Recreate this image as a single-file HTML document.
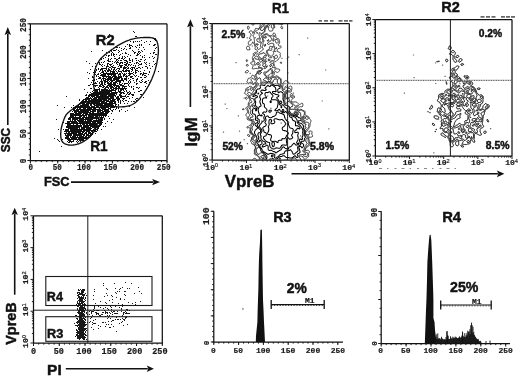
<!DOCTYPE html>
<html><head><meta charset="utf-8"><style>
html,body{margin:0;padding:0;background:#fff;width:520px;height:376px;overflow:hidden}
svg{display:block} svg{filter:grayscale(1) blur(0.35px)}
</style></head><body>
<svg width="520" height="376" viewBox="0 0 520 376">
<rect width="520" height="376" fill="#fff"/>
<path d="M39 151h1v1h-1zM54 138h1v1h-1zM56 119h1v1h-1zM57 105h1v1h-1zM57 139h1v1h-1zM58 129h1v1h-1zM58 140h1v1h-1zM59 141h1v1h-1zM61 146h1v1h-1zM62 139h1v1h-1zM63 122h1v1h-1zM63 129h1v1h-1zM64 107h1v1h-1zM64 131h1v1h-1zM64 133h1v1h-1zM65 115h1v1h-1zM65 123h1v1h-1zM65 129h1v1h-1zM65 130h1v1h-1zM65 131h1v1h-1zM65 133h1v1h-1zM65 134h1v1h-1zM65 135h1v1h-1zM65 137h1v1h-1zM65 138h1v1h-1zM66 96h1v1h-1zM66 123h1v1h-1zM66 126h1v1h-1zM66 127h1v1h-1zM66 129h1v1h-1zM66 130h1v1h-1zM66 131h1v1h-1zM66 132h1v1h-1zM66 133h1v1h-1zM66 135h1v1h-1zM66 136h1v1h-1zM66 137h1v1h-1zM66 138h1v1h-1zM67 121h1v1h-1zM67 122h1v1h-1zM67 123h1v1h-1zM67 124h1v1h-1zM67 125h1v1h-1zM67 126h1v1h-1zM67 127h1v1h-1zM67 129h1v1h-1zM67 130h1v1h-1zM67 131h1v1h-1zM67 133h1v1h-1zM67 134h1v1h-1zM67 135h1v1h-1zM67 136h1v1h-1zM67 137h1v1h-1zM67 138h1v1h-1zM67 139h1v1h-1zM67 141h1v1h-1zM68 118h1v1h-1zM68 119h1v1h-1zM68 121h1v1h-1zM68 122h1v1h-1zM68 123h1v1h-1zM68 124h1v1h-1zM68 125h1v1h-1zM68 126h1v1h-1zM68 127h1v1h-1zM68 128h1v1h-1zM68 129h1v1h-1zM68 130h1v1h-1zM68 131h1v1h-1zM68 132h1v1h-1zM68 133h1v1h-1zM68 134h1v1h-1zM68 135h1v1h-1zM68 136h1v1h-1zM68 137h1v1h-1zM68 138h1v1h-1zM68 139h1v1h-1zM68 140h1v1h-1zM68 142h1v1h-1zM69 117h1v1h-1zM69 118h1v1h-1zM69 119h1v1h-1zM69 121h1v1h-1zM69 122h1v1h-1zM69 123h1v1h-1zM69 124h1v1h-1zM69 125h1v1h-1zM69 126h1v1h-1zM69 127h1v1h-1zM69 128h1v1h-1zM69 131h1v1h-1zM69 132h1v1h-1zM69 133h1v1h-1zM69 134h1v1h-1zM69 135h1v1h-1zM69 138h1v1h-1zM69 139h1v1h-1zM69 140h1v1h-1zM69 141h1v1h-1zM69 142h1v1h-1zM70 113h1v1h-1zM70 114h1v1h-1zM70 115h1v1h-1zM70 116h1v1h-1zM70 117h1v1h-1zM70 118h1v1h-1zM70 119h1v1h-1zM70 120h1v1h-1zM70 121h1v1h-1zM70 123h1v1h-1zM70 124h1v1h-1zM70 125h1v1h-1zM70 126h1v1h-1zM70 127h1v1h-1zM70 128h1v1h-1zM70 129h1v1h-1zM70 130h1v1h-1zM70 131h1v1h-1zM70 133h1v1h-1zM70 134h1v1h-1zM70 135h1v1h-1zM70 136h1v1h-1zM70 137h1v1h-1zM70 139h1v1h-1zM70 140h1v1h-1zM70 141h1v1h-1zM71 107h1v1h-1zM71 113h1v1h-1zM71 114h1v1h-1zM71 115h1v1h-1zM71 116h1v1h-1zM71 117h1v1h-1zM71 121h1v1h-1zM71 122h1v1h-1zM71 123h1v1h-1zM71 125h1v1h-1zM71 126h1v1h-1zM71 127h1v1h-1zM71 128h1v1h-1zM71 129h1v1h-1zM71 130h1v1h-1zM71 131h1v1h-1zM71 132h1v1h-1zM71 133h1v1h-1zM71 134h1v1h-1zM71 135h1v1h-1zM71 137h1v1h-1zM71 138h1v1h-1zM71 139h1v1h-1zM71 141h1v1h-1zM71 142h1v1h-1zM72 111h1v1h-1zM72 113h1v1h-1zM72 114h1v1h-1zM72 115h1v1h-1zM72 116h1v1h-1zM72 117h1v1h-1zM72 118h1v1h-1zM72 119h1v1h-1zM72 120h1v1h-1zM72 121h1v1h-1zM72 122h1v1h-1zM72 123h1v1h-1zM72 125h1v1h-1zM72 126h1v1h-1zM72 127h1v1h-1zM72 128h1v1h-1zM72 129h1v1h-1zM72 130h1v1h-1zM72 131h1v1h-1zM72 132h1v1h-1zM72 133h1v1h-1zM72 136h1v1h-1zM72 137h1v1h-1zM72 138h1v1h-1zM72 139h1v1h-1zM72 141h1v1h-1zM73 105h1v1h-1zM73 107h1v1h-1zM73 109h1v1h-1zM73 110h1v1h-1zM73 113h1v1h-1zM73 114h1v1h-1zM73 115h1v1h-1zM73 116h1v1h-1zM73 117h1v1h-1zM73 118h1v1h-1zM73 119h1v1h-1zM73 121h1v1h-1zM73 122h1v1h-1zM73 123h1v1h-1zM73 124h1v1h-1zM73 125h1v1h-1zM73 126h1v1h-1zM73 127h1v1h-1zM73 128h1v1h-1zM73 129h1v1h-1zM73 130h1v1h-1zM73 131h1v1h-1zM73 132h1v1h-1zM73 133h1v1h-1zM73 134h1v1h-1zM73 135h1v1h-1zM73 136h1v1h-1zM73 137h1v1h-1zM73 138h1v1h-1zM73 139h1v1h-1zM73 140h1v1h-1zM73 141h1v1h-1zM74 107h1v1h-1zM74 108h1v1h-1zM74 109h1v1h-1zM74 110h1v1h-1zM74 111h1v1h-1zM74 112h1v1h-1zM74 114h1v1h-1zM74 115h1v1h-1zM74 117h1v1h-1zM74 118h1v1h-1zM74 119h1v1h-1zM74 120h1v1h-1zM74 121h1v1h-1zM74 122h1v1h-1zM74 123h1v1h-1zM74 125h1v1h-1zM74 126h1v1h-1zM74 127h1v1h-1zM74 128h1v1h-1zM74 129h1v1h-1zM74 130h1v1h-1zM74 131h1v1h-1zM74 132h1v1h-1zM74 133h1v1h-1zM74 134h1v1h-1zM74 135h1v1h-1zM74 136h1v1h-1zM74 137h1v1h-1zM74 138h1v1h-1zM74 139h1v1h-1zM75 106h1v1h-1zM75 107h1v1h-1zM75 108h1v1h-1zM75 110h1v1h-1zM75 111h1v1h-1zM75 112h1v1h-1zM75 113h1v1h-1zM75 114h1v1h-1zM75 115h1v1h-1zM75 116h1v1h-1zM75 117h1v1h-1zM75 118h1v1h-1zM75 119h1v1h-1zM75 120h1v1h-1zM75 121h1v1h-1zM75 122h1v1h-1zM75 123h1v1h-1zM75 125h1v1h-1zM75 126h1v1h-1zM75 127h1v1h-1zM75 128h1v1h-1zM75 129h1v1h-1zM75 130h1v1h-1zM75 131h1v1h-1zM75 132h1v1h-1zM75 133h1v1h-1zM75 134h1v1h-1zM75 135h1v1h-1zM75 136h1v1h-1zM75 137h1v1h-1zM75 138h1v1h-1zM75 139h1v1h-1zM76 106h1v1h-1zM76 107h1v1h-1zM76 109h1v1h-1zM76 110h1v1h-1zM76 111h1v1h-1zM76 112h1v1h-1zM76 113h1v1h-1zM76 114h1v1h-1zM76 115h1v1h-1zM76 117h1v1h-1zM76 118h1v1h-1zM76 119h1v1h-1zM76 121h1v1h-1zM76 122h1v1h-1zM76 123h1v1h-1zM76 124h1v1h-1zM76 125h1v1h-1zM76 126h1v1h-1zM76 127h1v1h-1zM76 128h1v1h-1zM76 129h1v1h-1zM76 130h1v1h-1zM76 131h1v1h-1zM76 132h1v1h-1zM76 133h1v1h-1zM76 134h1v1h-1zM76 135h1v1h-1zM76 137h1v1h-1zM76 138h1v1h-1zM76 139h1v1h-1zM76 141h1v1h-1zM77 105h1v1h-1zM77 106h1v1h-1zM77 107h1v1h-1zM77 108h1v1h-1zM77 109h1v1h-1zM77 110h1v1h-1zM77 111h1v1h-1zM77 113h1v1h-1zM77 114h1v1h-1zM77 115h1v1h-1zM77 117h1v1h-1zM77 118h1v1h-1zM77 119h1v1h-1zM77 120h1v1h-1zM77 122h1v1h-1zM77 123h1v1h-1zM77 124h1v1h-1zM77 125h1v1h-1zM77 126h1v1h-1zM77 127h1v1h-1zM77 128h1v1h-1zM77 129h1v1h-1zM77 130h1v1h-1zM77 131h1v1h-1zM77 132h1v1h-1zM77 134h1v1h-1zM77 135h1v1h-1zM77 136h1v1h-1zM77 137h1v1h-1zM77 139h1v1h-1zM77 140h1v1h-1zM77 142h1v1h-1zM78 104h1v1h-1zM78 105h1v1h-1zM78 106h1v1h-1zM78 107h1v1h-1zM78 109h1v1h-1zM78 110h1v1h-1zM78 111h1v1h-1zM78 112h1v1h-1zM78 113h1v1h-1zM78 114h1v1h-1zM78 115h1v1h-1zM78 117h1v1h-1zM78 118h1v1h-1zM78 120h1v1h-1zM78 121h1v1h-1zM78 123h1v1h-1zM78 125h1v1h-1zM78 126h1v1h-1zM78 127h1v1h-1zM78 129h1v1h-1zM78 130h1v1h-1zM78 131h1v1h-1zM78 132h1v1h-1zM78 133h1v1h-1zM78 134h1v1h-1zM78 135h1v1h-1zM78 137h1v1h-1zM78 138h1v1h-1zM78 139h1v1h-1zM78 141h1v1h-1zM79 99h1v1h-1zM79 100h1v1h-1zM79 103h1v1h-1zM79 104h1v1h-1zM79 106h1v1h-1zM79 107h1v1h-1zM79 108h1v1h-1zM79 109h1v1h-1zM79 111h1v1h-1zM79 112h1v1h-1zM79 113h1v1h-1zM79 114h1v1h-1zM79 115h1v1h-1zM79 116h1v1h-1zM79 117h1v1h-1zM79 118h1v1h-1zM79 119h1v1h-1zM79 120h1v1h-1zM79 121h1v1h-1zM79 122h1v1h-1zM79 123h1v1h-1zM79 125h1v1h-1zM79 126h1v1h-1zM79 127h1v1h-1zM79 128h1v1h-1zM79 129h1v1h-1zM79 130h1v1h-1zM79 131h1v1h-1zM79 132h1v1h-1zM79 133h1v1h-1zM79 134h1v1h-1zM79 135h1v1h-1zM79 136h1v1h-1zM79 137h1v1h-1zM79 138h1v1h-1zM79 139h1v1h-1zM79 140h1v1h-1zM80 102h1v1h-1zM80 103h1v1h-1zM80 105h1v1h-1zM80 106h1v1h-1zM80 107h1v1h-1zM80 108h1v1h-1zM80 109h1v1h-1zM80 110h1v1h-1zM80 111h1v1h-1zM80 112h1v1h-1zM80 113h1v1h-1zM80 114h1v1h-1zM80 115h1v1h-1zM80 116h1v1h-1zM80 117h1v1h-1zM80 118h1v1h-1zM80 119h1v1h-1zM80 120h1v1h-1zM80 121h1v1h-1zM80 122h1v1h-1zM80 123h1v1h-1zM80 124h1v1h-1zM80 125h1v1h-1zM80 126h1v1h-1zM80 129h1v1h-1zM80 130h1v1h-1zM80 131h1v1h-1zM80 132h1v1h-1zM80 133h1v1h-1zM80 134h1v1h-1zM80 135h1v1h-1zM80 136h1v1h-1zM80 137h1v1h-1zM80 138h1v1h-1zM80 139h1v1h-1zM80 140h1v1h-1zM80 141h1v1h-1zM81 101h1v1h-1zM81 102h1v1h-1zM81 103h1v1h-1zM81 105h1v1h-1zM81 106h1v1h-1zM81 107h1v1h-1zM81 109h1v1h-1zM81 110h1v1h-1zM81 111h1v1h-1zM81 112h1v1h-1zM81 113h1v1h-1zM81 115h1v1h-1zM81 116h1v1h-1zM81 118h1v1h-1zM81 119h1v1h-1zM81 120h1v1h-1zM81 121h1v1h-1zM81 122h1v1h-1zM81 123h1v1h-1zM81 125h1v1h-1zM81 126h1v1h-1zM81 127h1v1h-1zM81 128h1v1h-1zM81 129h1v1h-1zM81 130h1v1h-1zM81 131h1v1h-1zM81 133h1v1h-1zM81 134h1v1h-1zM81 135h1v1h-1zM81 136h1v1h-1zM81 137h1v1h-1zM81 138h1v1h-1zM81 139h1v1h-1zM81 140h1v1h-1zM82 100h1v1h-1zM82 101h1v1h-1zM82 102h1v1h-1zM82 103h1v1h-1zM82 104h1v1h-1zM82 105h1v1h-1zM82 106h1v1h-1zM82 107h1v1h-1zM82 109h1v1h-1zM82 110h1v1h-1zM82 111h1v1h-1zM82 112h1v1h-1zM82 114h1v1h-1zM82 115h1v1h-1zM82 117h1v1h-1zM82 118h1v1h-1zM82 119h1v1h-1zM82 120h1v1h-1zM82 121h1v1h-1zM82 122h1v1h-1zM82 123h1v1h-1zM82 124h1v1h-1zM82 127h1v1h-1zM82 128h1v1h-1zM82 129h1v1h-1zM82 131h1v1h-1zM82 132h1v1h-1zM82 133h1v1h-1zM82 134h1v1h-1zM82 136h1v1h-1zM82 137h1v1h-1zM82 138h1v1h-1zM82 139h1v1h-1zM82 140h1v1h-1zM83 99h1v1h-1zM83 100h1v1h-1zM83 101h1v1h-1zM83 102h1v1h-1zM83 103h1v1h-1zM83 104h1v1h-1zM83 105h1v1h-1zM83 106h1v1h-1zM83 107h1v1h-1zM83 108h1v1h-1zM83 109h1v1h-1zM83 110h1v1h-1zM83 111h1v1h-1zM83 112h1v1h-1zM83 113h1v1h-1zM83 114h1v1h-1zM83 115h1v1h-1zM83 116h1v1h-1zM83 117h1v1h-1zM83 118h1v1h-1zM83 119h1v1h-1zM83 120h1v1h-1zM83 121h1v1h-1zM83 122h1v1h-1zM83 123h1v1h-1zM83 124h1v1h-1zM83 125h1v1h-1zM83 126h1v1h-1zM83 127h1v1h-1zM83 128h1v1h-1zM83 129h1v1h-1zM83 130h1v1h-1zM83 131h1v1h-1zM83 132h1v1h-1zM83 134h1v1h-1zM83 135h1v1h-1zM83 136h1v1h-1zM83 137h1v1h-1zM83 138h1v1h-1zM83 139h1v1h-1zM83 140h1v1h-1zM84 89h1v1h-1zM84 99h1v1h-1zM84 101h1v1h-1zM84 102h1v1h-1zM84 103h1v1h-1zM84 104h1v1h-1zM84 105h1v1h-1zM84 106h1v1h-1zM84 107h1v1h-1zM84 108h1v1h-1zM84 109h1v1h-1zM84 110h1v1h-1zM84 111h1v1h-1zM84 112h1v1h-1zM84 113h1v1h-1zM84 115h1v1h-1zM84 116h1v1h-1zM84 117h1v1h-1zM84 119h1v1h-1zM84 121h1v1h-1zM84 122h1v1h-1zM84 123h1v1h-1zM84 124h1v1h-1zM84 125h1v1h-1zM84 126h1v1h-1zM84 127h1v1h-1zM84 128h1v1h-1zM84 129h1v1h-1zM84 130h1v1h-1zM84 131h1v1h-1zM84 133h1v1h-1zM84 134h1v1h-1zM84 135h1v1h-1zM84 137h1v1h-1zM84 138h1v1h-1zM85 95h1v1h-1zM85 98h1v1h-1zM85 99h1v1h-1zM85 100h1v1h-1zM85 101h1v1h-1zM85 102h1v1h-1zM85 104h1v1h-1zM85 105h1v1h-1zM85 106h1v1h-1zM85 107h1v1h-1zM85 108h1v1h-1zM85 109h1v1h-1zM85 110h1v1h-1zM85 111h1v1h-1zM85 112h1v1h-1zM85 113h1v1h-1zM85 114h1v1h-1zM85 115h1v1h-1zM85 117h1v1h-1zM85 118h1v1h-1zM85 119h1v1h-1zM85 120h1v1h-1zM85 121h1v1h-1zM85 122h1v1h-1zM85 123h1v1h-1zM85 125h1v1h-1zM85 126h1v1h-1zM85 127h1v1h-1zM85 129h1v1h-1zM85 130h1v1h-1zM85 132h1v1h-1zM85 133h1v1h-1zM85 136h1v1h-1zM85 137h1v1h-1zM85 138h1v1h-1zM86 61h1v1h-1zM86 94h1v1h-1zM86 95h1v1h-1zM86 97h1v1h-1zM86 98h1v1h-1zM86 99h1v1h-1zM86 100h1v1h-1zM86 101h1v1h-1zM86 103h1v1h-1zM86 104h1v1h-1zM86 105h1v1h-1zM86 106h1v1h-1zM86 107h1v1h-1zM86 109h1v1h-1zM86 110h1v1h-1zM86 111h1v1h-1zM86 112h1v1h-1zM86 113h1v1h-1zM86 114h1v1h-1zM86 115h1v1h-1zM86 116h1v1h-1zM86 117h1v1h-1zM86 118h1v1h-1zM86 119h1v1h-1zM86 121h1v1h-1zM86 122h1v1h-1zM86 123h1v1h-1zM86 124h1v1h-1zM86 125h1v1h-1zM86 126h1v1h-1zM86 127h1v1h-1zM86 128h1v1h-1zM86 129h1v1h-1zM86 130h1v1h-1zM86 131h1v1h-1zM86 132h1v1h-1zM86 133h1v1h-1zM86 134h1v1h-1zM86 135h1v1h-1zM86 136h1v1h-1zM86 137h1v1h-1zM86 138h1v1h-1zM87 72h1v1h-1zM87 92h1v1h-1zM87 97h1v1h-1zM87 98h1v1h-1zM87 99h1v1h-1zM87 101h1v1h-1zM87 102h1v1h-1zM87 103h1v1h-1zM87 104h1v1h-1zM87 105h1v1h-1zM87 106h1v1h-1zM87 107h1v1h-1zM87 108h1v1h-1zM87 109h1v1h-1zM87 110h1v1h-1zM87 111h1v1h-1zM87 112h1v1h-1zM87 113h1v1h-1zM87 114h1v1h-1zM87 117h1v1h-1zM87 118h1v1h-1zM87 119h1v1h-1zM87 120h1v1h-1zM87 121h1v1h-1zM87 122h1v1h-1zM87 123h1v1h-1zM87 124h1v1h-1zM87 125h1v1h-1zM87 126h1v1h-1zM87 127h1v1h-1zM87 128h1v1h-1zM87 129h1v1h-1zM87 130h1v1h-1zM87 131h1v1h-1zM87 134h1v1h-1zM87 135h1v1h-1zM87 137h1v1h-1zM88 78h1v1h-1zM88 85h1v1h-1zM88 95h1v1h-1zM88 96h1v1h-1zM88 97h1v1h-1zM88 98h1v1h-1zM88 99h1v1h-1zM88 100h1v1h-1zM88 101h1v1h-1zM88 102h1v1h-1zM88 103h1v1h-1zM88 104h1v1h-1zM88 105h1v1h-1zM88 106h1v1h-1zM88 107h1v1h-1zM88 108h1v1h-1zM88 109h1v1h-1zM88 110h1v1h-1zM88 111h1v1h-1zM88 112h1v1h-1zM88 114h1v1h-1zM88 115h1v1h-1zM88 116h1v1h-1zM88 117h1v1h-1zM88 118h1v1h-1zM88 119h1v1h-1zM88 120h1v1h-1zM88 121h1v1h-1zM88 122h1v1h-1zM88 123h1v1h-1zM88 125h1v1h-1zM88 126h1v1h-1zM88 127h1v1h-1zM88 128h1v1h-1zM88 129h1v1h-1zM88 130h1v1h-1zM88 131h1v1h-1zM88 132h1v1h-1zM88 133h1v1h-1zM88 134h1v1h-1zM88 135h1v1h-1zM88 136h1v1h-1zM88 137h1v1h-1zM89 63h1v1h-1zM89 73h1v1h-1zM89 85h1v1h-1zM89 94h1v1h-1zM89 95h1v1h-1zM89 96h1v1h-1zM89 98h1v1h-1zM89 99h1v1h-1zM89 100h1v1h-1zM89 101h1v1h-1zM89 102h1v1h-1zM89 103h1v1h-1zM89 106h1v1h-1zM89 107h1v1h-1zM89 108h1v1h-1zM89 109h1v1h-1zM89 110h1v1h-1zM89 112h1v1h-1zM89 113h1v1h-1zM89 114h1v1h-1zM89 115h1v1h-1zM89 116h1v1h-1zM89 117h1v1h-1zM89 118h1v1h-1zM89 119h1v1h-1zM89 120h1v1h-1zM89 121h1v1h-1zM89 122h1v1h-1zM89 123h1v1h-1zM89 124h1v1h-1zM89 125h1v1h-1zM89 127h1v1h-1zM89 128h1v1h-1zM89 129h1v1h-1zM89 130h1v1h-1zM89 131h1v1h-1zM89 132h1v1h-1zM89 133h1v1h-1zM89 135h1v1h-1zM89 137h1v1h-1zM90 69h1v1h-1zM90 84h1v1h-1zM90 88h1v1h-1zM90 92h1v1h-1zM90 94h1v1h-1zM90 95h1v1h-1zM90 97h1v1h-1zM90 98h1v1h-1zM90 100h1v1h-1zM90 101h1v1h-1zM90 103h1v1h-1zM90 104h1v1h-1zM90 105h1v1h-1zM90 107h1v1h-1zM90 108h1v1h-1zM90 109h1v1h-1zM90 110h1v1h-1zM90 111h1v1h-1zM90 112h1v1h-1zM90 113h1v1h-1zM90 114h1v1h-1zM90 115h1v1h-1zM90 116h1v1h-1zM90 117h1v1h-1zM90 118h1v1h-1zM90 119h1v1h-1zM90 120h1v1h-1zM90 121h1v1h-1zM90 122h1v1h-1zM90 123h1v1h-1zM90 124h1v1h-1zM90 125h1v1h-1zM90 126h1v1h-1zM90 127h1v1h-1zM90 128h1v1h-1zM90 129h1v1h-1zM90 130h1v1h-1zM90 132h1v1h-1zM90 133h1v1h-1zM90 134h1v1h-1zM90 135h1v1h-1zM90 136h1v1h-1zM91 51h1v1h-1zM91 82h1v1h-1zM91 88h1v1h-1zM91 93h1v1h-1zM91 94h1v1h-1zM91 95h1v1h-1zM91 96h1v1h-1zM91 98h1v1h-1zM91 99h1v1h-1zM91 100h1v1h-1zM91 101h1v1h-1zM91 102h1v1h-1zM91 103h1v1h-1zM91 104h1v1h-1zM91 105h1v1h-1zM91 106h1v1h-1zM91 107h1v1h-1zM91 108h1v1h-1zM91 109h1v1h-1zM91 111h1v1h-1zM91 113h1v1h-1zM91 114h1v1h-1zM91 115h1v1h-1zM91 116h1v1h-1zM91 117h1v1h-1zM91 118h1v1h-1zM91 119h1v1h-1zM91 120h1v1h-1zM91 121h1v1h-1zM91 123h1v1h-1zM91 124h1v1h-1zM91 125h1v1h-1zM91 126h1v1h-1zM91 128h1v1h-1zM91 130h1v1h-1zM91 131h1v1h-1zM91 133h1v1h-1zM91 134h1v1h-1zM91 135h1v1h-1zM92 66h1v1h-1zM92 76h1v1h-1zM92 77h1v1h-1zM92 80h1v1h-1zM92 84h1v1h-1zM92 91h1v1h-1zM92 93h1v1h-1zM92 94h1v1h-1zM92 95h1v1h-1zM92 96h1v1h-1zM92 97h1v1h-1zM92 99h1v1h-1zM92 100h1v1h-1zM92 101h1v1h-1zM92 102h1v1h-1zM92 103h1v1h-1zM92 106h1v1h-1zM92 107h1v1h-1zM92 109h1v1h-1zM92 110h1v1h-1zM92 111h1v1h-1zM92 112h1v1h-1zM92 113h1v1h-1zM92 114h1v1h-1zM92 115h1v1h-1zM92 116h1v1h-1zM92 117h1v1h-1zM92 118h1v1h-1zM92 119h1v1h-1zM92 121h1v1h-1zM92 122h1v1h-1zM92 123h1v1h-1zM92 124h1v1h-1zM92 125h1v1h-1zM92 126h1v1h-1zM92 127h1v1h-1zM92 130h1v1h-1zM92 131h1v1h-1zM92 132h1v1h-1zM92 133h1v1h-1zM92 134h1v1h-1zM93 72h1v1h-1zM93 77h1v1h-1zM93 80h1v1h-1zM93 82h1v1h-1zM93 84h1v1h-1zM93 86h1v1h-1zM93 90h1v1h-1zM93 92h1v1h-1zM93 93h1v1h-1zM93 94h1v1h-1zM93 95h1v1h-1zM93 96h1v1h-1zM93 98h1v1h-1zM93 99h1v1h-1zM93 100h1v1h-1zM93 101h1v1h-1zM93 102h1v1h-1zM93 103h1v1h-1zM93 104h1v1h-1zM93 106h1v1h-1zM93 107h1v1h-1zM93 108h1v1h-1zM93 109h1v1h-1zM93 110h1v1h-1zM93 111h1v1h-1zM93 112h1v1h-1zM93 113h1v1h-1zM93 114h1v1h-1zM93 115h1v1h-1zM93 116h1v1h-1zM93 117h1v1h-1zM93 118h1v1h-1zM93 120h1v1h-1zM93 121h1v1h-1zM93 122h1v1h-1zM93 123h1v1h-1zM93 124h1v1h-1zM93 125h1v1h-1zM93 126h1v1h-1zM93 127h1v1h-1zM93 129h1v1h-1zM93 130h1v1h-1zM93 132h1v1h-1zM94 70h1v1h-1zM94 73h1v1h-1zM94 74h1v1h-1zM94 79h1v1h-1zM94 80h1v1h-1zM94 83h1v1h-1zM94 85h1v1h-1zM94 88h1v1h-1zM94 92h1v1h-1zM94 93h1v1h-1zM94 94h1v1h-1zM94 95h1v1h-1zM94 96h1v1h-1zM94 97h1v1h-1zM94 98h1v1h-1zM94 99h1v1h-1zM94 100h1v1h-1zM94 101h1v1h-1zM94 102h1v1h-1zM94 103h1v1h-1zM94 104h1v1h-1zM94 105h1v1h-1zM94 106h1v1h-1zM94 107h1v1h-1zM94 108h1v1h-1zM94 109h1v1h-1zM94 110h1v1h-1zM94 111h1v1h-1zM94 113h1v1h-1zM94 114h1v1h-1zM94 115h1v1h-1zM94 117h1v1h-1zM94 118h1v1h-1zM94 120h1v1h-1zM94 121h1v1h-1zM94 122h1v1h-1zM94 123h1v1h-1zM94 124h1v1h-1zM94 125h1v1h-1zM94 126h1v1h-1zM94 127h1v1h-1zM94 128h1v1h-1zM94 131h1v1h-1zM95 63h1v1h-1zM95 66h1v1h-1zM95 71h1v1h-1zM95 72h1v1h-1zM95 74h1v1h-1zM95 82h1v1h-1zM95 83h1v1h-1zM95 85h1v1h-1zM95 86h1v1h-1zM95 89h1v1h-1zM95 90h1v1h-1zM95 91h1v1h-1zM95 92h1v1h-1zM95 93h1v1h-1zM95 94h1v1h-1zM95 95h1v1h-1zM95 97h1v1h-1zM95 98h1v1h-1zM95 99h1v1h-1zM95 100h1v1h-1zM95 101h1v1h-1zM95 102h1v1h-1zM95 103h1v1h-1zM95 105h1v1h-1zM95 107h1v1h-1zM95 108h1v1h-1zM95 109h1v1h-1zM95 110h1v1h-1zM95 111h1v1h-1zM95 113h1v1h-1zM95 114h1v1h-1zM95 115h1v1h-1zM95 116h1v1h-1zM95 117h1v1h-1zM95 118h1v1h-1zM95 120h1v1h-1zM95 121h1v1h-1zM95 122h1v1h-1zM95 123h1v1h-1zM95 124h1v1h-1zM95 125h1v1h-1zM95 126h1v1h-1zM95 127h1v1h-1zM95 128h1v1h-1zM95 129h1v1h-1zM95 130h1v1h-1zM95 131h1v1h-1zM95 133h1v1h-1zM96 69h1v1h-1zM96 70h1v1h-1zM96 75h1v1h-1zM96 76h1v1h-1zM96 79h1v1h-1zM96 83h1v1h-1zM96 85h1v1h-1zM96 89h1v1h-1zM96 90h1v1h-1zM96 91h1v1h-1zM96 92h1v1h-1zM96 93h1v1h-1zM96 94h1v1h-1zM96 95h1v1h-1zM96 96h1v1h-1zM96 97h1v1h-1zM96 98h1v1h-1zM96 99h1v1h-1zM96 100h1v1h-1zM96 101h1v1h-1zM96 102h1v1h-1zM96 103h1v1h-1zM96 104h1v1h-1zM96 105h1v1h-1zM96 106h1v1h-1zM96 107h1v1h-1zM96 109h1v1h-1zM96 113h1v1h-1zM96 114h1v1h-1zM96 115h1v1h-1zM96 116h1v1h-1zM96 117h1v1h-1zM96 118h1v1h-1zM96 119h1v1h-1zM96 120h1v1h-1zM96 121h1v1h-1zM96 123h1v1h-1zM96 124h1v1h-1zM96 125h1v1h-1zM96 126h1v1h-1zM96 127h1v1h-1zM96 129h1v1h-1zM96 131h1v1h-1zM97 63h1v1h-1zM97 74h1v1h-1zM97 81h1v1h-1zM97 85h1v1h-1zM97 89h1v1h-1zM97 90h1v1h-1zM97 91h1v1h-1zM97 92h1v1h-1zM97 93h1v1h-1zM97 94h1v1h-1zM97 95h1v1h-1zM97 96h1v1h-1zM97 97h1v1h-1zM97 99h1v1h-1zM97 100h1v1h-1zM97 101h1v1h-1zM97 102h1v1h-1zM97 103h1v1h-1zM97 104h1v1h-1zM97 105h1v1h-1zM97 106h1v1h-1zM97 107h1v1h-1zM97 109h1v1h-1zM97 110h1v1h-1zM97 111h1v1h-1zM97 112h1v1h-1zM97 113h1v1h-1zM97 114h1v1h-1zM97 115h1v1h-1zM97 116h1v1h-1zM97 117h1v1h-1zM97 118h1v1h-1zM97 120h1v1h-1zM97 121h1v1h-1zM97 122h1v1h-1zM97 125h1v1h-1zM97 126h1v1h-1zM97 127h1v1h-1zM97 128h1v1h-1zM97 129h1v1h-1zM97 130h1v1h-1zM98 62h1v1h-1zM98 68h1v1h-1zM98 69h1v1h-1zM98 73h1v1h-1zM98 74h1v1h-1zM98 76h1v1h-1zM98 78h1v1h-1zM98 87h1v1h-1zM98 89h1v1h-1zM98 92h1v1h-1zM98 93h1v1h-1zM98 94h1v1h-1zM98 95h1v1h-1zM98 96h1v1h-1zM98 97h1v1h-1zM98 98h1v1h-1zM98 99h1v1h-1zM98 100h1v1h-1zM98 101h1v1h-1zM98 102h1v1h-1zM98 103h1v1h-1zM98 104h1v1h-1zM98 105h1v1h-1zM98 106h1v1h-1zM98 107h1v1h-1zM98 109h1v1h-1zM98 110h1v1h-1zM98 111h1v1h-1zM98 112h1v1h-1zM98 113h1v1h-1zM98 114h1v1h-1zM98 115h1v1h-1zM98 117h1v1h-1zM98 118h1v1h-1zM98 119h1v1h-1zM98 121h1v1h-1zM98 122h1v1h-1zM98 123h1v1h-1zM98 125h1v1h-1zM98 126h1v1h-1zM98 127h1v1h-1zM98 128h1v1h-1zM99 62h1v1h-1zM99 63h1v1h-1zM99 64h1v1h-1zM99 71h1v1h-1zM99 77h1v1h-1zM99 78h1v1h-1zM99 82h1v1h-1zM99 83h1v1h-1zM99 85h1v1h-1zM99 86h1v1h-1zM99 88h1v1h-1zM99 89h1v1h-1zM99 90h1v1h-1zM99 91h1v1h-1zM99 92h1v1h-1zM99 93h1v1h-1zM99 94h1v1h-1zM99 96h1v1h-1zM99 97h1v1h-1zM99 98h1v1h-1zM99 99h1v1h-1zM99 100h1v1h-1zM99 101h1v1h-1zM99 102h1v1h-1zM99 103h1v1h-1zM99 104h1v1h-1zM99 105h1v1h-1zM99 107h1v1h-1zM99 108h1v1h-1zM99 109h1v1h-1zM99 110h1v1h-1zM99 111h1v1h-1zM99 113h1v1h-1zM99 114h1v1h-1zM99 115h1v1h-1zM99 116h1v1h-1zM99 119h1v1h-1zM99 120h1v1h-1zM99 121h1v1h-1zM99 122h1v1h-1zM99 123h1v1h-1zM99 124h1v1h-1zM99 125h1v1h-1zM99 126h1v1h-1zM99 144h1v1h-1zM100 58h1v1h-1zM100 64h1v1h-1zM100 69h1v1h-1zM100 70h1v1h-1zM100 73h1v1h-1zM100 75h1v1h-1zM100 77h1v1h-1zM100 78h1v1h-1zM100 81h1v1h-1zM100 84h1v1h-1zM100 85h1v1h-1zM100 86h1v1h-1zM100 91h1v1h-1zM100 92h1v1h-1zM100 93h1v1h-1zM100 94h1v1h-1zM100 95h1v1h-1zM100 96h1v1h-1zM100 97h1v1h-1zM100 98h1v1h-1zM100 99h1v1h-1zM100 100h1v1h-1zM100 101h1v1h-1zM100 103h1v1h-1zM100 104h1v1h-1zM100 105h1v1h-1zM100 106h1v1h-1zM100 107h1v1h-1zM100 109h1v1h-1zM100 110h1v1h-1zM100 111h1v1h-1zM100 112h1v1h-1zM100 113h1v1h-1zM100 114h1v1h-1zM100 115h1v1h-1zM100 117h1v1h-1zM100 118h1v1h-1zM100 119h1v1h-1zM100 120h1v1h-1zM100 121h1v1h-1zM100 122h1v1h-1zM100 123h1v1h-1zM100 124h1v1h-1zM100 125h1v1h-1zM101 58h1v1h-1zM101 59h1v1h-1zM101 62h1v1h-1zM101 65h1v1h-1zM101 68h1v1h-1zM101 69h1v1h-1zM101 72h1v1h-1zM101 74h1v1h-1zM101 75h1v1h-1zM101 79h1v1h-1zM101 80h1v1h-1zM101 81h1v1h-1zM101 82h1v1h-1zM101 83h1v1h-1zM101 84h1v1h-1zM101 86h1v1h-1zM101 89h1v1h-1zM101 90h1v1h-1zM101 91h1v1h-1zM101 92h1v1h-1zM101 93h1v1h-1zM101 94h1v1h-1zM101 95h1v1h-1zM101 96h1v1h-1zM101 97h1v1h-1zM101 98h1v1h-1zM101 99h1v1h-1zM101 100h1v1h-1zM101 101h1v1h-1zM101 102h1v1h-1zM101 103h1v1h-1zM101 104h1v1h-1zM101 105h1v1h-1zM101 106h1v1h-1zM101 107h1v1h-1zM101 108h1v1h-1zM101 110h1v1h-1zM101 112h1v1h-1zM101 113h1v1h-1zM101 114h1v1h-1zM101 115h1v1h-1zM101 116h1v1h-1zM101 117h1v1h-1zM101 118h1v1h-1zM101 119h1v1h-1zM101 120h1v1h-1zM101 121h1v1h-1zM101 122h1v1h-1zM101 123h1v1h-1zM101 124h1v1h-1zM101 129h1v1h-1zM102 50h1v1h-1zM102 64h1v1h-1zM102 66h1v1h-1zM102 68h1v1h-1zM102 69h1v1h-1zM102 70h1v1h-1zM102 71h1v1h-1zM102 72h1v1h-1zM102 74h1v1h-1zM102 75h1v1h-1zM102 76h1v1h-1zM102 78h1v1h-1zM102 81h1v1h-1zM102 82h1v1h-1zM102 83h1v1h-1zM102 84h1v1h-1zM102 85h1v1h-1zM102 87h1v1h-1zM102 89h1v1h-1zM102 90h1v1h-1zM102 91h1v1h-1zM102 92h1v1h-1zM102 93h1v1h-1zM102 94h1v1h-1zM102 95h1v1h-1zM102 96h1v1h-1zM102 97h1v1h-1zM102 98h1v1h-1zM102 99h1v1h-1zM102 101h1v1h-1zM102 102h1v1h-1zM102 103h1v1h-1zM102 104h1v1h-1zM102 105h1v1h-1zM102 106h1v1h-1zM102 107h1v1h-1zM102 108h1v1h-1zM102 109h1v1h-1zM102 110h1v1h-1zM102 111h1v1h-1zM102 112h1v1h-1zM102 113h1v1h-1zM102 114h1v1h-1zM102 115h1v1h-1zM102 117h1v1h-1zM102 118h1v1h-1zM102 119h1v1h-1zM102 120h1v1h-1zM102 122h1v1h-1zM103 58h1v1h-1zM103 62h1v1h-1zM103 68h1v1h-1zM103 71h1v1h-1zM103 72h1v1h-1zM103 73h1v1h-1zM103 74h1v1h-1zM103 75h1v1h-1zM103 76h1v1h-1zM103 77h1v1h-1zM103 78h1v1h-1zM103 79h1v1h-1zM103 80h1v1h-1zM103 85h1v1h-1zM103 86h1v1h-1zM103 87h1v1h-1zM103 89h1v1h-1zM103 90h1v1h-1zM103 91h1v1h-1zM103 92h1v1h-1zM103 93h1v1h-1zM103 94h1v1h-1zM103 95h1v1h-1zM103 96h1v1h-1zM103 97h1v1h-1zM103 98h1v1h-1zM103 99h1v1h-1zM103 100h1v1h-1zM103 101h1v1h-1zM103 102h1v1h-1zM103 103h1v1h-1zM103 105h1v1h-1zM103 106h1v1h-1zM103 107h1v1h-1zM103 108h1v1h-1zM103 109h1v1h-1zM103 111h1v1h-1zM103 112h1v1h-1zM103 113h1v1h-1zM103 114h1v1h-1zM103 115h1v1h-1zM103 116h1v1h-1zM103 117h1v1h-1zM103 126h1v1h-1zM104 61h1v1h-1zM104 65h1v1h-1zM104 68h1v1h-1zM104 70h1v1h-1zM104 73h1v1h-1zM104 74h1v1h-1zM104 75h1v1h-1zM104 76h1v1h-1zM104 78h1v1h-1zM104 80h1v1h-1zM104 81h1v1h-1zM104 82h1v1h-1zM104 83h1v1h-1zM104 84h1v1h-1zM104 86h1v1h-1zM104 88h1v1h-1zM104 89h1v1h-1zM104 90h1v1h-1zM104 91h1v1h-1zM104 92h1v1h-1zM104 93h1v1h-1zM104 94h1v1h-1zM104 95h1v1h-1zM104 96h1v1h-1zM104 97h1v1h-1zM104 98h1v1h-1zM104 99h1v1h-1zM104 100h1v1h-1zM104 101h1v1h-1zM104 103h1v1h-1zM104 104h1v1h-1zM104 105h1v1h-1zM104 106h1v1h-1zM104 107h1v1h-1zM104 108h1v1h-1zM104 109h1v1h-1zM104 110h1v1h-1zM104 111h1v1h-1zM104 113h1v1h-1zM104 114h1v1h-1zM104 115h1v1h-1zM104 118h1v1h-1zM104 119h1v1h-1zM105 57h1v1h-1zM105 68h1v1h-1zM105 70h1v1h-1zM105 71h1v1h-1zM105 73h1v1h-1zM105 74h1v1h-1zM105 75h1v1h-1zM105 76h1v1h-1zM105 78h1v1h-1zM105 79h1v1h-1zM105 80h1v1h-1zM105 81h1v1h-1zM105 82h1v1h-1zM105 84h1v1h-1zM105 87h1v1h-1zM105 88h1v1h-1zM105 89h1v1h-1zM105 90h1v1h-1zM105 91h1v1h-1zM105 92h1v1h-1zM105 93h1v1h-1zM105 94h1v1h-1zM105 95h1v1h-1zM105 96h1v1h-1zM105 97h1v1h-1zM105 98h1v1h-1zM105 99h1v1h-1zM105 100h1v1h-1zM105 102h1v1h-1zM105 104h1v1h-1zM105 105h1v1h-1zM105 106h1v1h-1zM105 107h1v1h-1zM105 108h1v1h-1zM105 109h1v1h-1zM105 110h1v1h-1zM105 111h1v1h-1zM105 112h1v1h-1zM105 113h1v1h-1zM105 114h1v1h-1zM105 115h1v1h-1zM105 116h1v1h-1zM105 123h1v1h-1zM105 126h1v1h-1zM106 38h1v1h-1zM106 52h1v1h-1zM106 55h1v1h-1zM106 66h1v1h-1zM106 67h1v1h-1zM106 68h1v1h-1zM106 69h1v1h-1zM106 72h1v1h-1zM106 73h1v1h-1zM106 76h1v1h-1zM106 77h1v1h-1zM106 79h1v1h-1zM106 81h1v1h-1zM106 86h1v1h-1zM106 87h1v1h-1zM106 89h1v1h-1zM106 90h1v1h-1zM106 91h1v1h-1zM106 92h1v1h-1zM106 93h1v1h-1zM106 94h1v1h-1zM106 95h1v1h-1zM106 96h1v1h-1zM106 97h1v1h-1zM106 98h1v1h-1zM106 99h1v1h-1zM106 100h1v1h-1zM106 101h1v1h-1zM106 102h1v1h-1zM106 103h1v1h-1zM106 104h1v1h-1zM106 105h1v1h-1zM106 106h1v1h-1zM106 107h1v1h-1zM106 109h1v1h-1zM106 110h1v1h-1zM106 111h1v1h-1zM106 112h1v1h-1zM106 113h1v1h-1zM106 114h1v1h-1zM106 115h1v1h-1zM107 60h1v1h-1zM107 63h1v1h-1zM107 64h1v1h-1zM107 65h1v1h-1zM107 66h1v1h-1zM107 70h1v1h-1zM107 71h1v1h-1zM107 73h1v1h-1zM107 74h1v1h-1zM107 76h1v1h-1zM107 78h1v1h-1zM107 79h1v1h-1zM107 80h1v1h-1zM107 81h1v1h-1zM107 82h1v1h-1zM107 83h1v1h-1zM107 85h1v1h-1zM107 86h1v1h-1zM107 87h1v1h-1zM107 89h1v1h-1zM107 90h1v1h-1zM107 91h1v1h-1zM107 92h1v1h-1zM107 93h1v1h-1zM107 94h1v1h-1zM107 96h1v1h-1zM107 97h1v1h-1zM107 98h1v1h-1zM107 100h1v1h-1zM107 101h1v1h-1zM107 103h1v1h-1zM107 105h1v1h-1zM107 106h1v1h-1zM107 107h1v1h-1zM107 109h1v1h-1zM107 110h1v1h-1zM107 111h1v1h-1zM107 112h1v1h-1zM107 113h1v1h-1zM107 121h1v1h-1zM108 55h1v1h-1zM108 56h1v1h-1zM108 58h1v1h-1zM108 59h1v1h-1zM108 60h1v1h-1zM108 61h1v1h-1zM108 63h1v1h-1zM108 66h1v1h-1zM108 68h1v1h-1zM108 69h1v1h-1zM108 70h1v1h-1zM108 71h1v1h-1zM108 73h1v1h-1zM108 74h1v1h-1zM108 75h1v1h-1zM108 76h1v1h-1zM108 77h1v1h-1zM108 78h1v1h-1zM108 79h1v1h-1zM108 80h1v1h-1zM108 82h1v1h-1zM108 83h1v1h-1zM108 84h1v1h-1zM108 85h1v1h-1zM108 87h1v1h-1zM108 88h1v1h-1zM108 90h1v1h-1zM108 91h1v1h-1zM108 92h1v1h-1zM108 93h1v1h-1zM108 94h1v1h-1zM108 95h1v1h-1zM108 96h1v1h-1zM108 97h1v1h-1zM108 98h1v1h-1zM108 99h1v1h-1zM108 100h1v1h-1zM108 101h1v1h-1zM108 103h1v1h-1zM108 104h1v1h-1zM108 105h1v1h-1zM108 106h1v1h-1zM108 107h1v1h-1zM108 108h1v1h-1zM108 109h1v1h-1zM108 110h1v1h-1zM108 111h1v1h-1zM108 112h1v1h-1zM108 116h1v1h-1zM109 34h1v1h-1zM109 43h1v1h-1zM109 52h1v1h-1zM109 55h1v1h-1zM109 61h1v1h-1zM109 64h1v1h-1zM109 67h1v1h-1zM109 69h1v1h-1zM109 70h1v1h-1zM109 73h1v1h-1zM109 74h1v1h-1zM109 76h1v1h-1zM109 77h1v1h-1zM109 78h1v1h-1zM109 79h1v1h-1zM109 81h1v1h-1zM109 83h1v1h-1zM109 84h1v1h-1zM109 85h1v1h-1zM109 86h1v1h-1zM109 89h1v1h-1zM109 90h1v1h-1zM109 91h1v1h-1zM109 92h1v1h-1zM109 93h1v1h-1zM109 94h1v1h-1zM109 95h1v1h-1zM109 96h1v1h-1zM109 98h1v1h-1zM109 99h1v1h-1zM109 101h1v1h-1zM109 102h1v1h-1zM109 103h1v1h-1zM109 104h1v1h-1zM109 105h1v1h-1zM109 106h1v1h-1zM109 108h1v1h-1zM109 111h1v1h-1zM109 118h1v1h-1zM110 59h1v1h-1zM110 61h1v1h-1zM110 64h1v1h-1zM110 65h1v1h-1zM110 67h1v1h-1zM110 70h1v1h-1zM110 71h1v1h-1zM110 72h1v1h-1zM110 73h1v1h-1zM110 74h1v1h-1zM110 76h1v1h-1zM110 77h1v1h-1zM110 78h1v1h-1zM110 79h1v1h-1zM110 80h1v1h-1zM110 82h1v1h-1zM110 83h1v1h-1zM110 84h1v1h-1zM110 85h1v1h-1zM110 86h1v1h-1zM110 87h1v1h-1zM110 88h1v1h-1zM110 90h1v1h-1zM110 91h1v1h-1zM110 93h1v1h-1zM110 94h1v1h-1zM110 95h1v1h-1zM110 96h1v1h-1zM110 97h1v1h-1zM110 98h1v1h-1zM110 99h1v1h-1zM110 100h1v1h-1zM110 101h1v1h-1zM110 102h1v1h-1zM110 103h1v1h-1zM110 104h1v1h-1zM110 105h1v1h-1zM110 106h1v1h-1zM110 107h1v1h-1zM110 108h1v1h-1zM110 109h1v1h-1zM111 50h1v1h-1zM111 51h1v1h-1zM111 53h1v1h-1zM111 54h1v1h-1zM111 55h1v1h-1zM111 58h1v1h-1zM111 64h1v1h-1zM111 66h1v1h-1zM111 68h1v1h-1zM111 69h1v1h-1zM111 71h1v1h-1zM111 73h1v1h-1zM111 74h1v1h-1zM111 75h1v1h-1zM111 77h1v1h-1zM111 78h1v1h-1zM111 79h1v1h-1zM111 80h1v1h-1zM111 81h1v1h-1zM111 82h1v1h-1zM111 83h1v1h-1zM111 84h1v1h-1zM111 85h1v1h-1zM111 86h1v1h-1zM111 87h1v1h-1zM111 88h1v1h-1zM111 89h1v1h-1zM111 90h1v1h-1zM111 91h1v1h-1zM111 92h1v1h-1zM111 93h1v1h-1zM111 94h1v1h-1zM111 95h1v1h-1zM111 96h1v1h-1zM111 97h1v1h-1zM111 98h1v1h-1zM111 100h1v1h-1zM111 101h1v1h-1zM111 102h1v1h-1zM111 103h1v1h-1zM111 104h1v1h-1zM111 105h1v1h-1zM111 106h1v1h-1zM111 107h1v1h-1zM111 110h1v1h-1zM111 113h1v1h-1zM111 122h1v1h-1zM112 52h1v1h-1zM112 61h1v1h-1zM112 63h1v1h-1zM112 66h1v1h-1zM112 67h1v1h-1zM112 71h1v1h-1zM112 72h1v1h-1zM112 73h1v1h-1zM112 74h1v1h-1zM112 76h1v1h-1zM112 77h1v1h-1zM112 80h1v1h-1zM112 81h1v1h-1zM112 84h1v1h-1zM112 86h1v1h-1zM112 87h1v1h-1zM112 89h1v1h-1zM112 90h1v1h-1zM112 92h1v1h-1zM112 93h1v1h-1zM112 94h1v1h-1zM112 95h1v1h-1zM112 96h1v1h-1zM112 97h1v1h-1zM112 98h1v1h-1zM112 99h1v1h-1zM112 100h1v1h-1zM112 101h1v1h-1zM112 102h1v1h-1zM112 103h1v1h-1zM112 104h1v1h-1zM112 105h1v1h-1zM112 106h1v1h-1zM112 107h1v1h-1zM112 110h1v1h-1zM112 111h1v1h-1zM113 50h1v1h-1zM113 53h1v1h-1zM113 54h1v1h-1zM113 55h1v1h-1zM113 65h1v1h-1zM113 67h1v1h-1zM113 69h1v1h-1zM113 70h1v1h-1zM113 71h1v1h-1zM113 72h1v1h-1zM113 73h1v1h-1zM113 74h1v1h-1zM113 75h1v1h-1zM113 76h1v1h-1zM113 78h1v1h-1zM113 79h1v1h-1zM113 80h1v1h-1zM113 82h1v1h-1zM113 83h1v1h-1zM113 84h1v1h-1zM113 85h1v1h-1zM113 87h1v1h-1zM113 88h1v1h-1zM113 89h1v1h-1zM113 90h1v1h-1zM113 92h1v1h-1zM113 93h1v1h-1zM113 94h1v1h-1zM113 95h1v1h-1zM113 96h1v1h-1zM113 97h1v1h-1zM113 98h1v1h-1zM113 99h1v1h-1zM113 100h1v1h-1zM113 101h1v1h-1zM113 103h1v1h-1zM113 105h1v1h-1zM113 106h1v1h-1zM113 107h1v1h-1zM113 109h1v1h-1zM113 119h1v1h-1zM114 50h1v1h-1zM114 54h1v1h-1zM114 56h1v1h-1zM114 58h1v1h-1zM114 62h1v1h-1zM114 67h1v1h-1zM114 68h1v1h-1zM114 69h1v1h-1zM114 71h1v1h-1zM114 72h1v1h-1zM114 73h1v1h-1zM114 74h1v1h-1zM114 75h1v1h-1zM114 76h1v1h-1zM114 77h1v1h-1zM114 78h1v1h-1zM114 79h1v1h-1zM114 80h1v1h-1zM114 82h1v1h-1zM114 83h1v1h-1zM114 84h1v1h-1zM114 85h1v1h-1zM114 86h1v1h-1zM114 88h1v1h-1zM114 90h1v1h-1zM114 92h1v1h-1zM114 93h1v1h-1zM114 94h1v1h-1zM114 95h1v1h-1zM114 99h1v1h-1zM114 100h1v1h-1zM114 101h1v1h-1zM114 102h1v1h-1zM114 103h1v1h-1zM114 107h1v1h-1zM115 50h1v1h-1zM115 58h1v1h-1zM115 61h1v1h-1zM115 67h1v1h-1zM115 70h1v1h-1zM115 73h1v1h-1zM115 74h1v1h-1zM115 75h1v1h-1zM115 76h1v1h-1zM115 77h1v1h-1zM115 78h1v1h-1zM115 79h1v1h-1zM115 81h1v1h-1zM115 82h1v1h-1zM115 83h1v1h-1zM115 84h1v1h-1zM115 85h1v1h-1zM115 87h1v1h-1zM115 88h1v1h-1zM115 89h1v1h-1zM115 90h1v1h-1zM115 91h1v1h-1zM115 92h1v1h-1zM115 93h1v1h-1zM115 95h1v1h-1zM115 96h1v1h-1zM115 99h1v1h-1zM115 101h1v1h-1zM115 102h1v1h-1zM115 103h1v1h-1zM115 104h1v1h-1zM115 105h1v1h-1zM115 109h1v1h-1zM116 47h1v1h-1zM116 49h1v1h-1zM116 54h1v1h-1zM116 59h1v1h-1zM116 60h1v1h-1zM116 62h1v1h-1zM116 63h1v1h-1zM116 69h1v1h-1zM116 71h1v1h-1zM116 73h1v1h-1zM116 76h1v1h-1zM116 77h1v1h-1zM116 78h1v1h-1zM116 79h1v1h-1zM116 80h1v1h-1zM116 81h1v1h-1zM116 82h1v1h-1zM116 85h1v1h-1zM116 86h1v1h-1zM116 87h1v1h-1zM116 88h1v1h-1zM116 89h1v1h-1zM116 92h1v1h-1zM116 93h1v1h-1zM116 94h1v1h-1zM116 97h1v1h-1zM116 98h1v1h-1zM116 104h1v1h-1zM116 106h1v1h-1zM116 107h1v1h-1zM116 108h1v1h-1zM117 47h1v1h-1zM117 59h1v1h-1zM117 61h1v1h-1zM117 62h1v1h-1zM117 64h1v1h-1zM117 68h1v1h-1zM117 72h1v1h-1zM117 73h1v1h-1zM117 77h1v1h-1zM117 78h1v1h-1zM117 79h1v1h-1zM117 80h1v1h-1zM117 81h1v1h-1zM117 83h1v1h-1zM117 85h1v1h-1zM117 86h1v1h-1zM117 88h1v1h-1zM117 92h1v1h-1zM117 96h1v1h-1zM117 97h1v1h-1zM117 98h1v1h-1zM117 99h1v1h-1zM117 100h1v1h-1zM118 50h1v1h-1zM118 52h1v1h-1zM118 58h1v1h-1zM118 60h1v1h-1zM118 62h1v1h-1zM118 66h1v1h-1zM118 68h1v1h-1zM118 70h1v1h-1zM118 71h1v1h-1zM118 74h1v1h-1zM118 75h1v1h-1zM118 76h1v1h-1zM118 77h1v1h-1zM118 78h1v1h-1zM118 79h1v1h-1zM118 80h1v1h-1zM118 81h1v1h-1zM118 85h1v1h-1zM118 86h1v1h-1zM118 87h1v1h-1zM118 88h1v1h-1zM118 89h1v1h-1zM118 90h1v1h-1zM118 91h1v1h-1zM118 96h1v1h-1zM118 97h1v1h-1zM118 98h1v1h-1zM118 99h1v1h-1zM118 100h1v1h-1zM118 101h1v1h-1zM118 102h1v1h-1zM118 104h1v1h-1zM118 105h1v1h-1zM118 107h1v1h-1zM118 108h1v1h-1zM119 44h1v1h-1zM119 47h1v1h-1zM119 51h1v1h-1zM119 55h1v1h-1zM119 57h1v1h-1zM119 58h1v1h-1zM119 63h1v1h-1zM119 64h1v1h-1zM119 65h1v1h-1zM119 68h1v1h-1zM119 69h1v1h-1zM119 71h1v1h-1zM119 73h1v1h-1zM119 74h1v1h-1zM119 76h1v1h-1zM119 77h1v1h-1zM119 78h1v1h-1zM119 80h1v1h-1zM119 81h1v1h-1zM119 82h1v1h-1zM119 83h1v1h-1zM119 84h1v1h-1zM119 86h1v1h-1zM119 87h1v1h-1zM119 88h1v1h-1zM119 91h1v1h-1zM119 92h1v1h-1zM119 94h1v1h-1zM119 95h1v1h-1zM119 98h1v1h-1zM119 99h1v1h-1zM119 110h1v1h-1zM119 111h1v1h-1zM120 54h1v1h-1zM120 60h1v1h-1zM120 62h1v1h-1zM120 63h1v1h-1zM120 65h1v1h-1zM120 66h1v1h-1zM120 67h1v1h-1zM120 71h1v1h-1zM120 73h1v1h-1zM120 74h1v1h-1zM120 75h1v1h-1zM120 76h1v1h-1zM120 77h1v1h-1zM120 80h1v1h-1zM120 81h1v1h-1zM120 82h1v1h-1zM120 84h1v1h-1zM120 85h1v1h-1zM120 88h1v1h-1zM120 89h1v1h-1zM120 90h1v1h-1zM120 91h1v1h-1zM120 92h1v1h-1zM120 93h1v1h-1zM120 94h1v1h-1zM120 95h1v1h-1zM120 96h1v1h-1zM120 97h1v1h-1zM120 100h1v1h-1zM120 101h1v1h-1zM120 102h1v1h-1zM120 103h1v1h-1zM121 48h1v1h-1zM121 50h1v1h-1zM121 58h1v1h-1zM121 60h1v1h-1zM121 62h1v1h-1zM121 65h1v1h-1zM121 66h1v1h-1zM121 67h1v1h-1zM121 71h1v1h-1zM121 72h1v1h-1zM121 76h1v1h-1zM121 77h1v1h-1zM121 78h1v1h-1zM121 79h1v1h-1zM121 80h1v1h-1zM121 84h1v1h-1zM121 85h1v1h-1zM121 88h1v1h-1zM121 89h1v1h-1zM121 90h1v1h-1zM121 92h1v1h-1zM121 93h1v1h-1zM121 95h1v1h-1zM121 96h1v1h-1zM121 97h1v1h-1zM121 109h1v1h-1zM122 53h1v1h-1zM122 56h1v1h-1zM122 57h1v1h-1zM122 58h1v1h-1zM122 62h1v1h-1zM122 63h1v1h-1zM122 65h1v1h-1zM122 70h1v1h-1zM122 73h1v1h-1zM122 78h1v1h-1zM122 79h1v1h-1zM122 80h1v1h-1zM122 83h1v1h-1zM122 85h1v1h-1zM122 86h1v1h-1zM122 87h1v1h-1zM122 88h1v1h-1zM122 89h1v1h-1zM122 92h1v1h-1zM122 96h1v1h-1zM122 98h1v1h-1zM122 100h1v1h-1zM123 49h1v1h-1zM123 59h1v1h-1zM123 67h1v1h-1zM123 68h1v1h-1zM123 69h1v1h-1zM123 70h1v1h-1zM123 71h1v1h-1zM123 74h1v1h-1zM123 75h1v1h-1zM123 76h1v1h-1zM123 80h1v1h-1zM123 81h1v1h-1zM123 85h1v1h-1zM123 86h1v1h-1zM123 88h1v1h-1zM123 89h1v1h-1zM123 90h1v1h-1zM123 92h1v1h-1zM123 93h1v1h-1zM123 96h1v1h-1zM123 98h1v1h-1zM123 99h1v1h-1zM123 101h1v1h-1zM124 48h1v1h-1zM124 56h1v1h-1zM124 58h1v1h-1zM124 60h1v1h-1zM124 62h1v1h-1zM124 64h1v1h-1zM124 66h1v1h-1zM124 67h1v1h-1zM124 68h1v1h-1zM124 71h1v1h-1zM124 73h1v1h-1zM124 74h1v1h-1zM124 75h1v1h-1zM124 78h1v1h-1zM124 79h1v1h-1zM124 83h1v1h-1zM124 84h1v1h-1zM124 86h1v1h-1zM124 87h1v1h-1zM124 88h1v1h-1zM124 91h1v1h-1zM124 93h1v1h-1zM124 96h1v1h-1zM124 98h1v1h-1zM124 103h1v1h-1zM125 46h1v1h-1zM125 52h1v1h-1zM125 53h1v1h-1zM125 57h1v1h-1zM125 60h1v1h-1zM125 62h1v1h-1zM125 64h1v1h-1zM125 65h1v1h-1zM125 67h1v1h-1zM125 68h1v1h-1zM125 70h1v1h-1zM125 71h1v1h-1zM125 74h1v1h-1zM125 76h1v1h-1zM125 78h1v1h-1zM125 79h1v1h-1zM125 83h1v1h-1zM125 86h1v1h-1zM125 88h1v1h-1zM125 89h1v1h-1zM125 95h1v1h-1zM125 96h1v1h-1zM125 100h1v1h-1zM125 111h1v1h-1zM126 49h1v1h-1zM126 53h1v1h-1zM126 60h1v1h-1zM126 61h1v1h-1zM126 63h1v1h-1zM126 64h1v1h-1zM126 65h1v1h-1zM126 67h1v1h-1zM126 69h1v1h-1zM126 70h1v1h-1zM126 71h1v1h-1zM126 73h1v1h-1zM126 75h1v1h-1zM126 76h1v1h-1zM126 77h1v1h-1zM126 78h1v1h-1zM126 79h1v1h-1zM126 80h1v1h-1zM126 83h1v1h-1zM126 86h1v1h-1zM126 88h1v1h-1zM126 90h1v1h-1zM126 91h1v1h-1zM126 94h1v1h-1zM126 97h1v1h-1zM126 100h1v1h-1zM127 44h1v1h-1zM127 56h1v1h-1zM127 61h1v1h-1zM127 62h1v1h-1zM127 63h1v1h-1zM127 66h1v1h-1zM127 68h1v1h-1zM127 70h1v1h-1zM127 76h1v1h-1zM127 83h1v1h-1zM127 92h1v1h-1zM127 93h1v1h-1zM127 96h1v1h-1zM127 103h1v1h-1zM127 110h1v1h-1zM128 54h1v1h-1zM128 64h1v1h-1zM128 65h1v1h-1zM128 67h1v1h-1zM128 68h1v1h-1zM128 70h1v1h-1zM128 71h1v1h-1zM128 73h1v1h-1zM128 75h1v1h-1zM128 78h1v1h-1zM128 81h1v1h-1zM128 82h1v1h-1zM128 84h1v1h-1zM128 85h1v1h-1zM128 92h1v1h-1zM128 94h1v1h-1zM128 96h1v1h-1zM128 101h1v1h-1zM129 44h1v1h-1zM129 45h1v1h-1zM129 46h1v1h-1zM129 48h1v1h-1zM129 58h1v1h-1zM129 59h1v1h-1zM129 60h1v1h-1zM129 62h1v1h-1zM129 64h1v1h-1zM129 70h1v1h-1zM129 71h1v1h-1zM129 72h1v1h-1zM129 73h1v1h-1zM129 74h1v1h-1zM129 75h1v1h-1zM129 80h1v1h-1zM129 83h1v1h-1zM129 86h1v1h-1zM129 91h1v1h-1zM129 93h1v1h-1zM129 94h1v1h-1zM129 98h1v1h-1zM129 106h1v1h-1zM130 41h1v1h-1zM130 45h1v1h-1zM130 47h1v1h-1zM130 48h1v1h-1zM130 55h1v1h-1zM130 60h1v1h-1zM130 62h1v1h-1zM130 65h1v1h-1zM130 68h1v1h-1zM130 73h1v1h-1zM130 74h1v1h-1zM130 76h1v1h-1zM130 77h1v1h-1zM130 79h1v1h-1zM130 81h1v1h-1zM130 82h1v1h-1zM130 92h1v1h-1zM130 93h1v1h-1zM131 45h1v1h-1zM131 64h1v1h-1zM131 67h1v1h-1zM131 69h1v1h-1zM131 71h1v1h-1zM131 73h1v1h-1zM131 76h1v1h-1zM131 77h1v1h-1zM131 86h1v1h-1zM131 87h1v1h-1zM131 94h1v1h-1zM131 101h1v1h-1zM132 46h1v1h-1zM132 50h1v1h-1zM132 59h1v1h-1zM132 60h1v1h-1zM132 61h1v1h-1zM132 67h1v1h-1zM132 68h1v1h-1zM132 69h1v1h-1zM132 70h1v1h-1zM132 73h1v1h-1zM132 76h1v1h-1zM132 78h1v1h-1zM132 94h1v1h-1zM132 95h1v1h-1zM132 97h1v1h-1zM133 31h1v1h-1zM133 41h1v1h-1zM133 42h1v1h-1zM133 51h1v1h-1zM133 65h1v1h-1zM133 67h1v1h-1zM133 72h1v1h-1zM133 74h1v1h-1zM133 78h1v1h-1zM133 80h1v1h-1zM133 86h1v1h-1zM133 88h1v1h-1zM133 89h1v1h-1zM133 94h1v1h-1zM133 95h1v1h-1zM133 101h1v1h-1zM134 32h1v1h-1zM134 52h1v1h-1zM134 53h1v1h-1zM134 63h1v1h-1zM134 67h1v1h-1zM134 68h1v1h-1zM134 75h1v1h-1zM134 82h1v1h-1zM134 92h1v1h-1zM134 101h1v1h-1zM134 107h1v1h-1zM135 36h1v1h-1zM135 41h1v1h-1zM135 46h1v1h-1zM135 52h1v1h-1zM135 58h1v1h-1zM135 65h1v1h-1zM135 66h1v1h-1zM135 69h1v1h-1zM135 70h1v1h-1zM135 71h1v1h-1zM135 72h1v1h-1zM135 73h1v1h-1zM135 76h1v1h-1zM135 99h1v1h-1zM136 36h1v1h-1zM136 47h1v1h-1zM136 55h1v1h-1zM136 58h1v1h-1zM136 60h1v1h-1zM136 62h1v1h-1zM136 63h1v1h-1zM136 68h1v1h-1zM136 70h1v1h-1zM136 72h1v1h-1zM136 75h1v1h-1zM136 79h1v1h-1zM136 80h1v1h-1zM136 81h1v1h-1zM136 83h1v1h-1zM136 84h1v1h-1zM136 87h1v1h-1zM136 98h1v1h-1zM136 100h1v1h-1zM137 41h1v1h-1zM137 45h1v1h-1zM137 53h1v1h-1zM137 54h1v1h-1zM137 55h1v1h-1zM137 62h1v1h-1zM137 68h1v1h-1zM137 70h1v1h-1zM137 78h1v1h-1zM137 79h1v1h-1zM137 83h1v1h-1zM137 87h1v1h-1zM137 98h1v1h-1zM138 49h1v1h-1zM138 51h1v1h-1zM138 52h1v1h-1zM138 54h1v1h-1zM138 60h1v1h-1zM138 63h1v1h-1zM138 65h1v1h-1zM138 67h1v1h-1zM138 71h1v1h-1zM138 76h1v1h-1zM138 88h1v1h-1zM138 91h1v1h-1zM139 41h1v1h-1zM139 44h1v1h-1zM139 45h1v1h-1zM139 47h1v1h-1zM139 51h1v1h-1zM139 53h1v1h-1zM139 61h1v1h-1zM139 64h1v1h-1zM139 67h1v1h-1zM139 81h1v1h-1zM139 87h1v1h-1zM139 91h1v1h-1zM140 52h1v1h-1zM140 55h1v1h-1zM140 59h1v1h-1zM140 61h1v1h-1zM140 64h1v1h-1zM140 68h1v1h-1zM140 71h1v1h-1zM140 73h1v1h-1zM140 74h1v1h-1zM140 77h1v1h-1zM140 82h1v1h-1zM140 90h1v1h-1zM140 94h1v1h-1zM141 40h1v1h-1zM141 44h1v1h-1zM141 45h1v1h-1zM141 50h1v1h-1zM141 59h1v1h-1zM141 63h1v1h-1zM141 64h1v1h-1zM141 73h1v1h-1zM141 77h1v1h-1zM141 80h1v1h-1zM141 82h1v1h-1zM141 90h1v1h-1zM141 94h1v1h-1zM142 51h1v1h-1zM142 56h1v1h-1zM142 57h1v1h-1zM142 67h1v1h-1zM142 74h1v1h-1zM142 75h1v1h-1zM142 79h1v1h-1zM142 81h1v1h-1zM143 47h1v1h-1zM143 72h1v1h-1zM143 73h1v1h-1zM143 74h1v1h-1zM143 97h1v1h-1zM144 42h1v1h-1zM144 49h1v1h-1zM144 55h1v1h-1zM144 57h1v1h-1zM144 60h1v1h-1zM144 62h1v1h-1zM144 70h1v1h-1zM144 73h1v1h-1zM144 75h1v1h-1zM144 77h1v1h-1zM144 82h1v1h-1zM145 59h1v1h-1zM145 63h1v1h-1zM145 66h1v1h-1zM145 73h1v1h-1zM145 75h1v1h-1zM145 77h1v1h-1zM145 81h1v1h-1zM145 82h1v1h-1zM145 86h1v1h-1zM146 41h1v1h-1zM146 62h1v1h-1zM146 64h1v1h-1zM146 66h1v1h-1zM146 73h1v1h-1zM146 76h1v1h-1zM146 81h1v1h-1zM146 83h1v1h-1zM146 88h1v1h-1zM147 67h1v1h-1zM147 68h1v1h-1zM148 74h1v1h-1zM148 80h1v1h-1zM149 44h1v1h-1zM149 57h1v1h-1zM149 63h1v1h-1zM149 65h1v1h-1zM149 71h1v1h-1zM149 72h1v1h-1zM149 82h1v1h-1zM149 84h1v1h-1zM150 41h1v1h-1zM150 53h1v1h-1zM150 68h1v1h-1zM150 81h1v1h-1zM152 56h1v1h-1zM152 66h1v1h-1zM153 45h1v1h-1zM153 52h1v1h-1zM153 53h1v1h-1zM153 58h1v1h-1zM153 61h1v1h-1zM154 39h1v1h-1zM154 44h1v1h-1zM154 45h1v1h-1zM154 50h1v1h-1zM154 52h1v1h-1zM154 57h1v1h-1zM154 64h1v1h-1zM155 38h1v1h-1zM155 40h1v1h-1zM155 44h1v1h-1zM155 48h1v1h-1zM155 54h1v1h-1zM155 63h1v1h-1zM156 47h1v1h-1zM156 54h1v1h-1zM158 71h1v1h-1z" fill="#111"/>
<path d="M155.5,39.3 L154.7,38.8 L153.8,38.3 L152.8,38.0 L151.8,37.8 L150.7,37.6 L149.5,37.5 L148.3,37.5 L147.2,37.5 L146.0,37.5 L144.9,37.5 L143.8,37.5 L142.7,37.6 L141.6,37.6 L140.5,37.7 L139.5,37.8 L138.4,37.9 L137.4,38.0 L136.4,38.2 L135.3,38.4 L134.3,38.6 L133.3,38.8 L132.2,39.1 L131.2,39.4 L130.2,39.7 L129.2,40.1 L128.2,40.4 L127.2,40.8 L126.2,41.2 L125.2,41.7 L124.2,42.1 L123.2,42.6 L122.3,43.1 L121.3,43.6 L120.4,44.1 L119.5,44.6 L118.5,45.2 L117.6,45.7 L116.7,46.3 L115.8,46.9 L114.9,47.5 L114.0,48.1 L113.2,48.7 L112.3,49.3 L111.4,49.9 L110.6,50.5 L109.7,51.2 L108.8,51.8 L108.0,52.5 L107.1,53.1 L106.3,53.8 L105.4,54.4 L104.6,55.1 L103.8,55.8 L103.0,56.5 L102.2,57.3 L101.5,58.0 L100.7,58.8 L100.0,59.7 L99.4,60.5 L98.8,61.4 L98.2,62.3 L97.6,63.2 L97.1,64.1 L96.7,65.1 L96.2,66.1 L95.9,67.1 L95.5,68.1 L95.2,69.1 L95.0,70.1 L94.8,71.2 L94.6,72.2 L94.5,73.3 L94.3,74.3 L94.2,75.4 L94.1,76.5 L94.0,77.6 L93.9,78.7 L93.8,79.7 L93.7,80.8 L93.7,81.9 L93.7,83.0 L93.7,84.1 L93.7,85.1 L93.8,86.2 L93.9,87.3 L94.1,88.3 L94.3,89.3 L94.6,90.3 L94.9,91.4 L95.3,92.3 L95.8,93.3 L96.3,94.3 L96.8,95.2 L97.4,96.1 L98.1,97.0 L98.7,97.8 L99.5,98.6 L100.2,99.4 L101.0,100.2 L101.8,100.9 L102.6,101.6 L103.5,102.2 L104.4,102.8 L105.3,103.4 L106.3,103.9 L107.2,104.4 L108.2,104.9 L109.2,105.3 L110.2,105.6 L111.3,105.9 L112.3,106.2 L113.3,106.4 L114.4,106.6 L115.4,106.7 L116.5,106.8 L117.5,106.8 L118.6,106.9 L119.7,106.9 L120.8,106.8 L121.9,106.8 L122.9,106.7 L124.0,106.7 L125.1,106.6 L126.2,106.4 L127.3,106.2 L128.3,106.0 L129.4,105.7 L130.4,105.4 L131.3,105.0 L132.3,104.5 L133.2,104.0 L134.1,103.5 L135.0,102.9 L135.8,102.2 L136.6,101.5 L137.4,100.8 L138.2,100.0 L138.9,99.3 L139.7,98.5 L140.4,97.6 L141.1,96.8 L141.7,95.9 L142.4,95.1 L143.1,94.2 L143.7,93.3 L144.3,92.5 L144.9,91.6 L145.5,90.7 L146.1,89.8 L146.7,88.9 L147.2,88.0 L147.7,87.0 L148.3,86.1 L148.8,85.2 L149.3,84.2 L149.8,83.3 L150.3,82.3 L150.7,81.4 L151.2,80.4 L151.6,79.4 L152.0,78.5 L152.4,77.5 L152.8,76.5 L153.2,75.5 L153.6,74.5 L154.0,73.5 L154.3,72.5 L154.6,71.5 L155.0,70.5 L155.3,69.4 L155.6,68.4 L155.8,67.4 L156.1,66.3 L156.4,65.3 L156.6,64.3 L156.8,63.2 L157.0,62.2 L157.2,61.1 L157.4,60.0 L157.6,59.0 L157.8,57.9 L157.9,56.8 L158.0,55.7 L158.2,54.7 L158.3,53.6 L158.3,52.5 L158.4,51.4 L158.4,50.3 L158.4,49.3 L158.3,48.2 L158.2,47.1 L158.1,46.1 L157.9,45.0 L157.7,43.9 L157.4,42.9 L157.1,41.9 L156.7,40.9 L156.1,40.1 L155.5,39.3Z" fill="none" stroke="#111" stroke-width="1.35"/>
<path d="M71.0,110.3 L70.5,110.7 L70.0,111.1 L69.5,111.6 L69.0,112.0 L68.5,112.4 L68.0,112.8 L67.5,113.3 L67.1,113.7 L66.7,114.2 L66.3,114.7 L65.9,115.2 L65.6,115.8 L65.3,116.3 L65.0,116.9 L64.7,117.5 L64.5,118.1 L64.2,118.7 L64.0,119.3 L63.8,119.9 L63.6,120.5 L63.3,121.1 L63.1,121.8 L62.9,122.4 L62.7,123.0 L62.5,123.6 L62.3,124.2 L62.1,124.9 L62.0,125.5 L61.8,126.1 L61.7,126.8 L61.5,127.4 L61.4,128.0 L61.2,128.7 L61.1,129.3 L61.0,130.0 L60.9,130.6 L60.9,131.3 L60.8,131.9 L60.8,132.6 L60.7,133.2 L60.7,133.9 L60.7,134.6 L60.7,135.2 L60.8,135.9 L60.8,136.6 L60.9,137.3 L61.0,137.9 L61.1,138.6 L61.2,139.2 L61.4,139.9 L61.7,140.5 L61.9,141.0 L62.2,141.6 L62.6,142.0 L63.0,142.5 L63.5,142.9 L64.0,143.3 L64.5,143.6 L65.1,143.9 L65.7,144.1 L66.3,144.4 L66.9,144.5 L67.5,144.7 L68.1,144.8 L68.8,145.0 L69.4,145.0 L70.0,145.1 L70.7,145.1 L71.3,145.1 L72.0,145.1 L72.7,145.1 L73.3,145.0 L74.0,144.9 L74.6,144.8 L75.3,144.7 L76.0,144.5 L76.6,144.4 L77.3,144.2 L77.9,144.0 L78.6,143.8 L79.2,143.5 L79.8,143.3 L80.4,143.0 L81.1,142.8 L81.7,142.5 L82.3,142.2 L82.8,141.9 L83.4,141.6 L84.0,141.2 L84.5,140.9 L85.1,140.5 L85.6,140.2 L86.2,139.8 L86.7,139.4 L87.2,139.0 L87.7,138.6 L88.2,138.2 L88.6,137.8 L89.1,137.4 L89.6,136.9 L90.0,136.5 L90.4,136.0 L90.9,135.5 L91.3,135.1 L91.7,134.6 L92.1,134.1 L92.5,133.6 L92.8,133.1 L93.2,132.5 L93.6,132.0 L93.9,131.5 L94.2,130.9 L94.5,130.4 L94.8,129.8 L95.1,129.2 L95.4,128.7 L95.7,128.1 L96.0,127.5 L96.2,126.9 L96.5,126.3 L96.7,125.7 L96.9,125.0 L97.1,124.4 L97.3,123.8 L97.5,123.2 L97.7,122.5 L97.9,121.9 L98.1,121.2 L98.3,120.6 L98.4,120.0 L98.6,119.3 L98.8,118.7 L99.0,118.0 L99.1,117.4 L99.3,116.7 L99.5,116.1 L99.6,115.4 L99.8,114.8 L99.9,114.1 L100.0,113.5 L100.1,112.9 L100.1,112.2 L100.1,111.6 L100.1,111.0 L100.0,110.3 L99.9,109.7 L99.7,109.1 L99.5,108.5 L99.3,107.9 L99.0,107.3 L98.6,106.7 L98.2,106.2 L97.8,105.7 L97.4,105.2 L96.9,104.7 L96.4,104.3 L95.9,103.9 L95.3,103.6 L94.7,103.3 L94.1,103.0 L93.5,102.8 L92.9,102.5 L92.2,102.4 L91.6,102.2 L90.9,102.1 L90.3,102.0 L89.6,102.0 L88.9,102.0 L88.3,102.0 L87.6,102.0 L86.9,102.0 L86.3,102.1 L85.6,102.2 L85.0,102.3 L84.3,102.4 L83.7,102.6 L83.0,102.8 L82.4,103.0 L81.8,103.2 L81.2,103.4 L80.6,103.7 L80.0,104.0 L79.4,104.2 L78.9,104.5 L78.3,104.9 L77.7,105.2 L77.2,105.6 L76.7,105.9 L76.1,106.3 L75.6,106.7 L75.1,107.1 L74.6,107.5 L74.1,107.9 L73.6,108.3 L73.1,108.7 L72.6,109.1 L72.1,109.5 L71.5,109.9 L71.0,110.3Z" fill="none" stroke="#111" stroke-width="1.35"/>
<clipPath id="c2"><rect x="212.7" y="24" width="136.2" height="135.5"/></clipPath>
<g clip-path="url(#c2)">
<path d="M254.2,22.0 254.3,22.5 254.3,23.0 254.3,23.5 254.1,24.0 254.0,24.3 253.9,24.5 253.6,25.0 253.5,25.1 253.0,25.2 252.5,25.1 252.4,25.0 252.1,24.5 252.0,24.3 251.9,24.0 251.8,23.5 251.6,23.0 251.5,22.8 251.4,22.5 251.3,22.0 M269.1,169.5 269.2,169.0 269.4,168.5 269.5,168.2 269.6,168.0 269.7,167.5 269.5,167.0 269.5,167.0 269.0,166.6 268.7,166.5 268.5,166.4 268.0,166.2 267.5,166.0 267.3,166.0 267.0,166.0 266.5,166.0 266.4,166.0 266.0,166.1 265.5,166.5 265.4,166.5 265.0,167.0 264.9,167.0 264.5,167.5 264.4,167.5 264.0,167.7 263.5,167.6 263.3,167.5 263.0,167.3 262.7,167.0 262.5,166.5 262.5,166.5 262.4,166.0 262.3,165.5 262.2,165.0 262.1,164.5 262.4,164.0 262.5,163.9 263.0,163.6 263.4,163.5 263.5,163.5 264.0,163.3 264.5,163.2 264.9,163.0 265.0,162.9 265.3,162.5 265.5,162.0 265.4,161.5 265.3,161.0 265.1,160.5 265.0,160.4 264.7,160.0 264.5,159.7 264.2,159.5 264.0,159.4 263.5,159.2 263.0,159.2 262.5,159.4 262.4,159.5 262.0,160.0 262.0,160.0 261.7,160.5 261.6,161.0 261.5,161.2 261.3,161.5 261.1,162.0 261.0,162.3 260.5,162.5 260.4,162.0 260.1,161.5 260.0,161.4 259.8,161.0 259.5,160.5 259.5,160.5 259.3,160.0 259.3,159.5 259.4,159.0 259.4,158.5 259.2,158.0 259.0,157.8 258.8,157.5 258.5,157.1 258.4,157.0 258.1,156.5 258.0,156.4 257.7,156.0 257.5,155.8 257.1,155.5 257.0,155.4 256.5,155.1 256.1,155.0 256.0,155.0 255.5,154.9 255.0,154.7 254.7,154.5 254.5,154.2 254.4,154.0 254.3,153.5 254.4,153.0 254.4,152.5 254.4,152.0 254.4,151.5 254.3,151.0 254.3,150.5 254.4,150.0 254.5,149.8 254.6,149.5 254.8,149.0 255.0,148.7 255.1,148.5 255.2,148.0 255.4,147.5 255.3,147.0 255.1,146.5 255.0,146.3 254.8,146.0 254.5,145.7 254.3,145.5 254.0,145.0 254.0,145.0 253.6,144.5 253.5,144.4 253.0,144.2 252.5,144.1 252.0,144.0 252.0,144.0 251.8,143.5 251.6,143.0 251.5,142.6 251.4,142.5 251.1,142.0 251.0,141.9 250.6,141.5 250.5,141.2 250.4,141.0 250.5,140.7 250.6,140.5 251.0,140.0 251.0,140.0 251.3,139.5 251.4,139.0 251.5,138.5 251.5,138.0 251.5,138.0 251.5,137.5 251.8,137.0 252.0,136.8 252.5,136.5 252.6,136.5 253.0,136.1 253.1,136.0 253.1,135.5 253.0,135.4 252.8,135.0 252.5,134.7 252.2,134.5 252.0,134.4 251.5,134.2 251.0,134.1 250.6,134.0 250.5,133.9 250.1,133.5 250.0,133.2 249.9,133.0 249.8,132.5 249.8,132.0 249.8,131.5 249.8,131.0 249.9,130.5 250.0,130.2 250.0,130.0 250.1,129.5 250.1,129.0 250.0,128.5 250.0,128.4 249.8,128.0 249.5,127.7 249.0,127.6 248.5,127.6 248.0,127.8 247.5,128.0 247.0,127.8 246.8,127.5 246.9,127.0 247.0,126.9 247.5,126.7 248.0,126.6 248.1,126.5 248.5,126.3 248.8,126.0 249.0,125.8 249.4,125.5 249.5,125.4 250.0,125.2 250.5,125.0 250.5,125.0 251.0,124.6 251.1,124.5 251.3,124.0 251.5,123.5 251.5,123.4 251.6,123.0 251.8,122.5 252.0,122.1 252.0,122.0 252.0,121.5 252.0,121.4 251.6,121.0 251.5,121.0 251.0,120.8 250.5,120.6 250.3,120.5 250.0,120.4 249.5,120.3 249.0,120.1 248.6,120.0 248.5,120.0 248.0,119.8 247.5,119.6 247.3,119.5 247.0,119.0 247.1,118.5 247.1,118.0 247.2,117.5 247.2,117.0 247.0,116.6 246.9,116.5 246.5,116.1 246.4,116.0 246.0,115.5 246.0,115.4 245.9,115.0 246.0,114.5 246.0,114.4 246.2,114.0 246.5,113.7 246.7,113.5 247.0,113.2 247.1,113.0 247.4,112.5 247.5,112.0 247.5,112.0 247.5,111.8 247.5,111.5 247.4,111.0 247.2,110.5 247.0,110.0 247.0,109.9 246.8,109.5 246.5,109.1 246.3,109.0 246.0,108.7 245.7,108.5 245.8,108.0 246.0,107.8 246.2,107.5 246.5,107.3 247.0,107.0 247.0,107.0 247.5,106.7 247.7,106.5 248.0,106.2 248.2,106.0 248.3,105.5 248.2,105.0 248.2,104.5 248.2,104.0 248.3,103.5 248.4,103.0 248.5,102.7 248.6,102.5 248.9,102.0 249.0,101.9 249.3,101.5 249.5,101.2 249.6,101.0 249.7,100.5 249.8,100.0 249.7,99.5 249.5,99.0 249.5,99.0 249.1,98.5 249.0,98.3 248.8,98.0 248.6,97.5 248.5,97.0 248.5,96.8 248.4,96.5 248.2,96.0 248.0,95.8 247.5,95.6 247.2,95.5 247.0,95.4 246.6,95.0 246.5,94.9 246.1,94.5 246.0,94.4 245.5,94.0 245.5,94.0 245.0,93.7 244.7,93.5 244.6,93.0 244.8,92.5 245.0,92.3 245.1,92.0 245.4,91.5 245.4,91.0 245.5,90.5 245.5,90.0 245.5,90.0 245.6,89.5 245.8,89.0 246.0,88.6 246.1,88.5 246.5,88.1 246.7,88.0 247.0,87.8 247.5,87.7 248.0,87.6 248.4,87.5 248.5,87.5 249.0,87.1 249.1,87.0 249.4,86.5 249.5,86.4 250.0,86.2 250.5,86.3 251.0,86.4 251.2,86.5 251.5,86.7 251.9,87.0 252.0,87.1 252.5,87.5 252.6,87.5 253.0,87.6 253.1,87.5 253.5,87.3 254.0,87.0 254.0,87.0 254.5,86.7 254.9,86.5 255.0,86.4 255.4,86.0 255.5,85.8 255.6,85.5 255.7,85.0 255.8,84.5 255.7,84.0 255.5,83.6 255.3,83.5 255.0,83.4 254.9,83.5 254.5,83.7 254.2,84.0 254.0,84.2 253.5,84.5 253.3,84.5 253.0,84.6 252.8,84.5 252.5,84.4 252.1,84.0 252.0,83.9 251.8,83.5 251.5,83.0 251.5,82.9 251.2,82.5 251.0,82.3 250.5,82.2 250.0,82.4 249.7,82.5 249.5,82.6 249.0,83.0 248.9,83.0 248.5,83.2 248.0,83.0 248.0,83.0 247.5,82.7 247.3,82.5 247.0,82.0 247.0,82.0 246.9,81.5 247.0,81.4 247.2,81.0 247.5,80.5 247.5,80.5 247.7,80.0 247.8,79.5 248.0,79.0 248.0,78.9 248.3,78.5 248.5,78.2 249.0,78.1 249.5,78.2 250.0,78.2 250.4,78.0 250.5,78.0 250.9,77.5 251.0,77.4 251.2,77.0 251.5,76.5 251.5,76.4 251.7,76.0 251.9,75.5 252.0,75.4 252.5,75.2 253.0,75.2 253.5,75.5 253.5,75.5 254.0,76.0 254.0,76.0 254.3,76.5 254.4,77.0 254.5,77.4 254.5,77.5 254.7,78.0 254.9,78.5 255.0,78.6 255.5,78.8 256.0,78.6 256.0,78.5 256.2,78.0 256.2,77.5 256.0,77.0 256.0,77.0 255.6,76.5 255.5,76.4 255.1,76.0 255.0,75.7 254.9,75.5 255.0,75.4 255.1,75.0 255.5,74.6 255.5,74.5 256.0,74.1 256.1,74.0 256.5,73.6 256.6,73.5 256.8,73.0 257.0,72.5 257.0,72.4 257.1,72.0 257.3,71.5 257.5,71.2 257.7,71.0 258.0,70.8 258.5,70.7 259.0,70.7 259.5,70.7 260.0,70.7 260.5,70.5 260.6,70.5 261.0,70.3 261.3,70.0 261.5,69.7 261.6,69.5 261.7,69.0 261.5,68.6 261.4,68.5 261.0,68.3 260.5,68.2 260.0,68.2 259.5,68.2 259.0,68.3 258.5,68.4 258.2,68.5 258.0,68.6 257.5,68.6 257.0,68.6 256.6,68.5 256.5,68.5 256.0,68.5 255.5,68.5 255.3,68.5 255.0,68.5 254.5,68.6 254.0,68.8 253.5,68.9 253.0,69.0 252.5,68.9 252.3,68.5 252.3,68.0 252.5,67.5 252.5,67.5 252.8,67.0 253.0,66.5 253.0,66.4 253.1,66.0 253.0,65.6 253.0,65.5 252.7,65.0 252.5,64.8 252.0,64.5 252.0,64.5 251.5,64.2 251.1,64.0 251.0,63.9 250.8,63.5 250.8,63.0 251.0,62.5 251.0,62.5 251.5,62.0 251.5,62.0 252.0,61.9 252.5,61.9 252.9,62.0 253.0,62.0 253.1,62.0 253.2,61.5 253.1,61.0 253.0,60.8 252.9,60.5 252.8,60.0 252.6,59.5 252.5,59.0 252.5,58.9 252.4,58.5 252.4,58.0 252.4,57.5 252.5,57.3 252.6,57.0 252.9,56.5 253.0,56.3 253.1,56.0 253.3,55.5 253.4,55.0 253.3,54.5 253.3,54.0 253.4,53.5 253.5,53.3 253.8,53.0 254.0,52.9 254.5,52.7 254.9,52.5 255.0,52.5 255.5,52.3 256.0,52.3 256.5,52.3 257.0,52.2 257.4,52.0 257.5,51.8 257.6,51.5 257.6,51.0 257.5,50.9 257.3,50.5 257.0,50.2 256.7,50.0 256.5,49.8 256.0,49.6 255.5,49.5 255.4,49.5 255.0,49.3 254.8,49.0 255.0,48.5 255.0,48.4 255.2,48.0 255.3,47.5 255.2,47.0 255.0,46.5 255.0,46.4 254.9,46.0 254.7,45.5 254.6,45.0 254.5,44.8 254.4,44.5 254.2,44.0 254.0,43.7 253.8,43.5 253.5,43.0 253.5,42.9 253.2,42.5 253.0,42.1 252.5,42.1 252.4,42.5 252.2,43.0 252.0,43.4 252.0,43.5 251.7,44.0 251.5,44.2 251.2,44.5 251.0,44.7 250.5,45.0 250.4,45.0 250.0,45.2 249.5,45.2 249.2,45.0 249.0,44.8 248.8,44.5 248.6,44.0 248.5,43.8 248.4,43.5 248.3,43.0 248.3,42.5 248.4,42.0 248.5,41.7 248.7,41.5 249.0,41.2 249.5,41.0 249.5,41.0 250.0,40.8 250.5,40.6 250.9,40.5 251.0,40.4 251.5,40.0 251.2,39.5 251.0,39.4 250.5,39.2 250.0,39.0 249.9,39.0 249.5,38.5 249.5,38.5 249.5,38.5 249.7,38.0 249.9,37.5 250.0,37.2 250.1,37.0 250.3,36.5 250.5,36.2 250.6,36.0 250.9,35.5 251.0,35.2 251.1,35.0 251.2,34.5 251.0,34.1 251.0,34.0 250.5,33.7 250.3,33.5 250.0,33.3 249.7,33.0 249.5,32.8 249.3,32.5 249.2,32.0 249.4,31.5 249.5,31.4 250.0,31.0 250.0,31.0 250.5,30.9 251.0,30.8 251.5,30.9 251.8,31.0 252.0,31.2 252.3,31.5 252.5,32.0 252.5,32.5 252.5,33.0 252.5,33.1 252.9,33.5 253.0,33.5 253.0,33.5 253.5,33.0 253.5,32.9 253.5,32.5 253.5,32.0 253.7,31.5 254.0,31.1 254.0,31.0 254.5,30.5 254.6,30.5 255.0,30.0 255.0,29.9 255.1,29.5 255.2,29.0 255.5,28.5 255.5,28.5 256.0,28.4 256.5,28.4 256.6,28.5 257.0,28.7 257.5,28.8 258.0,28.8 258.5,28.7 258.7,28.5 259.0,28.3 259.3,28.0 259.5,27.6 259.6,27.5 259.8,27.0 260.0,26.5 260.0,26.5 260.1,26.0 260.2,25.5 260.1,25.0 260.2,24.5 260.4,24.0 260.5,23.7 260.6,23.5 260.8,23.0 260.9,22.5 261.0,22.0 M280.3,22.0 280.5,22.3 280.9,22.5 281.0,22.5 281.5,22.5 282.0,22.5 282.0,22.5 282.0,22.5 282.5,22.6 283.0,23.0 283.0,23.0 283.2,23.5 283.1,24.0 283.0,24.1 282.5,24.4 282.0,24.5 281.5,24.5 281.0,24.4 280.5,24.3 280.0,24.2 279.5,24.1 279.0,24.0 278.9,24.0 278.5,24.0 278.0,23.9 277.5,23.8 277.0,23.8 276.5,23.8 276.0,23.8 275.5,23.9 275.1,24.0 275.0,24.1 274.5,24.5 274.5,24.5 274.3,25.0 274.3,25.5 274.4,26.0 274.5,26.2 274.6,26.5 274.7,27.0 274.7,27.5 274.5,27.9 274.4,28.0 274.0,28.3 273.7,28.5 273.5,28.7 273.1,29.0 273.0,29.1 272.8,29.5 272.7,30.0 272.6,30.5 272.5,30.7 272.0,30.9 271.8,31.0 271.5,31.0 271.0,31.1 270.5,31.1 270.0,31.0 269.9,31.0 269.5,30.9 269.1,30.5 269.0,30.4 268.7,30.0 268.5,29.6 268.5,29.5 268.4,29.0 268.5,28.5 268.5,28.4 268.8,28.0 268.9,27.5 268.5,27.4 268.0,27.1 267.8,27.0 267.5,27.0 267.0,27.0 266.9,27.0 266.5,27.2 266.3,27.5 266.0,27.9 266.0,28.0 265.8,28.5 265.5,28.9 265.5,29.0 265.2,29.5 265.0,30.0 265.0,30.3 265.0,30.5 265.0,31.0 264.9,31.5 264.6,32.0 264.5,32.1 264.0,32.5 264.0,32.5 263.5,32.9 263.4,33.0 263.0,33.3 262.8,33.5 262.5,33.8 262.1,34.0 262.0,34.1 261.5,34.4 261.0,34.5 261.0,34.5 260.8,35.0 260.9,35.5 261.0,35.6 261.3,36.0 261.5,36.5 261.5,37.0 261.2,37.5 261.0,37.7 260.8,38.0 260.5,38.3 260.4,38.5 260.2,39.0 260.0,39.5 260.0,39.6 259.9,40.0 259.8,40.5 259.8,41.0 260.0,41.4 260.1,41.5 260.5,41.9 260.7,42.0 261.0,42.2 261.5,42.3 262.0,42.2 262.2,42.0 262.5,41.7 262.6,41.5 262.8,41.0 262.8,40.5 262.7,40.0 262.5,39.5 262.5,39.4 262.4,39.0 262.4,38.5 262.4,38.0 262.5,37.5 262.5,37.5 262.5,37.0 262.5,36.5 262.5,36.0 262.7,35.5 263.0,35.2 263.2,35.0 263.5,34.8 264.0,34.6 264.1,34.5 264.5,34.3 265.0,34.1 265.4,34.0 265.5,33.9 266.0,33.8 266.5,33.7 267.0,33.7 267.5,33.8 267.7,34.0 268.0,34.3 268.2,34.5 268.5,34.8 268.7,35.0 269.0,35.2 269.5,35.5 269.5,35.5 270.0,35.6 270.5,35.7 271.0,35.8 271.5,35.8 272.0,35.5 272.0,35.5 272.5,35.0 272.5,35.0 272.9,34.5 273.0,34.2 273.1,34.0 273.3,33.5 273.5,33.0 273.5,33.0 274.0,32.8 274.3,33.0 274.5,33.1 274.9,33.5 275.0,33.6 275.3,34.0 275.5,34.5 275.5,34.5 275.6,35.0 275.7,35.5 275.8,36.0 275.8,36.5 275.8,37.0 275.8,37.5 276.0,38.0 276.0,38.0 276.5,38.2 277.0,38.5 277.2,38.5 277.5,38.6 278.0,38.7 278.5,38.8 278.8,39.0 279.0,39.2 279.2,39.5 279.4,40.0 279.4,40.5 279.5,40.9 279.5,41.0 279.6,41.5 279.6,42.0 279.6,42.5 279.5,43.0 279.5,43.0 279.3,43.5 279.0,43.9 278.9,44.0 278.5,44.3 278.2,44.5 278.1,45.0 278.5,45.4 278.6,45.5 279.0,45.8 279.4,46.0 279.5,46.1 280.0,46.0 280.1,46.0 280.5,45.9 280.7,46.0 281.0,46.2 281.1,46.5 281.2,47.0 281.0,47.4 280.9,47.5 280.5,48.0 280.5,48.0 280.0,48.4 279.5,48.3 279.0,48.3 278.5,48.5 278.5,48.5 278.0,48.9 278.0,49.0 277.6,49.5 277.5,49.7 277.4,50.0 277.1,50.5 277.0,50.9 276.9,51.0 277.0,51.3 277.1,51.5 277.5,51.6 278.0,51.8 278.5,51.9 278.9,52.0 279.0,52.1 279.5,52.3 279.8,52.5 280.0,52.8 280.2,53.0 280.4,53.5 280.1,54.0 280.0,54.5 280.3,55.0 280.4,55.5 280.4,56.0 280.3,56.5 280.1,57.0 280.0,57.2 279.8,57.5 279.5,57.9 279.4,58.0 279.0,58.4 278.8,58.5 278.5,58.8 278.3,59.0 278.2,59.5 278.0,59.9 277.9,60.0 277.5,60.2 277.0,60.5 277.0,60.5 276.5,60.8 276.3,61.0 276.0,61.3 275.7,61.5 275.5,61.6 275.0,61.8 274.5,61.9 274.0,62.0 274.0,62.0 273.5,62.3 273.2,62.5 273.5,62.7 273.7,63.0 273.9,63.5 274.0,63.7 274.1,64.0 274.2,64.5 274.2,65.0 274.3,65.5 274.5,65.8 274.6,66.0 275.0,66.4 275.1,66.5 275.4,67.0 275.5,67.2 275.6,67.5 275.8,68.0 276.0,68.4 276.1,68.5 276.5,68.8 277.0,68.9 277.5,68.9 278.0,68.9 278.5,69.0 278.6,69.0 279.0,69.1 279.5,69.4 279.6,69.5 279.8,70.0 279.7,70.5 279.5,70.9 279.5,71.0 279.0,71.4 278.9,71.5 278.5,71.8 278.2,72.0 278.0,72.1 277.5,72.4 277.0,72.4 276.5,72.1 276.3,72.0 276.0,71.8 275.5,71.6 275.0,71.7 274.6,72.0 274.5,72.1 274.3,72.5 274.2,73.0 274.2,73.5 274.2,74.0 274.2,74.5 274.0,75.0 274.0,75.0 273.5,75.3 273.0,75.3 272.5,75.4 272.1,75.5 272.0,75.5 271.5,75.9 271.4,76.0 271.5,76.1 271.9,76.5 272.0,76.5 272.5,76.7 273.0,76.7 273.5,76.7 274.0,76.6 274.5,76.6 275.0,76.5 275.1,76.5 275.5,76.3 276.0,76.0 276.1,76.0 276.5,75.8 277.0,75.9 277.3,76.0 277.5,76.1 277.9,76.5 278.0,76.6 278.5,77.0 278.5,77.0 279.0,77.4 279.2,77.5 279.5,77.7 280.0,77.9 280.1,78.0 280.5,78.2 280.8,78.5 281.0,78.9 281.0,79.0 281.1,79.5 281.1,80.0 281.1,80.5 281.2,81.0 281.2,81.5 281.3,82.0 281.4,82.5 281.4,83.0 281.3,83.5 281.1,84.0 281.0,84.3 281.0,84.5 281.0,84.7 281.1,85.0 281.4,85.5 281.5,85.6 282.0,86.0 282.0,86.0 282.5,86.3 283.0,86.5 283.1,86.0 283.1,85.5 283.0,85.0 283.0,84.5 283.1,84.0 283.3,83.5 283.5,83.1 283.5,83.0 283.7,82.5 284.0,82.0 284.0,81.9 284.3,81.5 284.5,81.2 284.7,81.0 285.0,80.8 285.5,80.7 286.0,80.7 286.5,80.9 286.8,81.0 287.0,81.1 287.5,81.4 287.7,81.5 288.0,81.7 288.5,82.0 288.5,82.0 288.8,82.5 288.7,83.0 288.5,83.2 288.3,83.5 288.0,83.9 287.9,84.0 287.5,84.5 287.5,84.5 287.2,85.0 287.1,85.5 287.2,86.0 287.5,86.5 287.5,86.6 287.9,87.0 288.0,87.1 288.5,87.2 289.0,87.1 289.1,87.0 289.5,86.7 289.8,86.5 290.0,86.3 290.5,86.0 290.5,86.0 290.6,86.0 291.0,86.1 291.5,86.5 291.5,86.5 291.8,87.0 291.9,87.5 291.9,88.0 291.9,88.5 291.8,89.0 291.7,89.5 291.6,90.0 291.5,90.5 291.5,90.5 291.4,91.0 291.3,91.5 291.0,92.0 291.0,92.0 290.5,92.1 290.0,92.1 289.5,92.1 289.0,92.0 289.0,92.0 288.5,91.9 288.0,91.7 287.7,91.5 287.5,91.4 287.0,91.3 286.6,91.5 286.5,91.6 286.4,92.0 286.5,92.5 286.5,92.9 286.5,93.0 286.5,93.1 286.5,93.5 286.2,94.0 286.0,94.3 285.9,94.5 285.7,95.0 285.7,95.5 285.7,96.0 285.8,96.5 285.9,97.0 286.0,97.5 286.0,97.6 286.5,98.0 287.0,97.9 287.5,97.9 288.0,97.8 288.5,97.8 289.0,97.9 289.5,97.8 289.9,97.5 290.0,97.4 290.2,97.0 290.3,96.5 290.3,96.0 290.3,95.5 290.3,95.0 290.3,94.5 290.5,94.1 290.7,94.0 291.0,93.7 291.5,93.6 292.0,93.8 292.1,94.0 292.5,94.3 292.7,94.5 293.0,94.8 293.2,95.0 293.5,95.2 293.8,95.5 294.0,95.7 294.2,96.0 294.5,96.5 294.5,96.5 294.6,97.0 294.5,97.5 294.5,97.5 294.0,97.9 293.7,98.0 293.5,98.1 293.0,98.3 292.6,98.5 292.5,98.6 292.2,99.0 292.0,99.4 291.9,99.5 291.6,100.0 291.5,100.2 291.2,100.5 291.1,101.0 291.4,101.5 291.5,101.6 292.0,101.8 292.5,101.9 293.0,102.0 293.3,102.0 293.5,102.0 293.5,102.0 294.0,102.0 294.5,101.9 295.0,101.9 295.5,101.9 296.0,101.9 296.3,102.0 296.5,102.1 297.0,102.4 297.1,102.5 297.5,103.0 297.5,103.0 298.0,103.4 298.1,103.5 298.5,103.8 298.9,104.0 299.0,104.1 299.5,104.4 300.0,104.4 300.5,104.1 300.6,104.0 301.0,103.7 301.3,103.5 301.5,103.4 302.0,103.3 302.5,103.4 302.6,103.5 302.8,104.0 302.9,104.5 302.8,105.0 302.8,105.5 302.7,106.0 302.5,106.5 302.5,106.5 302.0,106.7 301.5,106.8 301.0,106.7 300.5,106.6 300.0,106.7 299.6,107.0 299.5,107.0 299.0,107.4 298.9,107.5 298.5,107.8 298.1,108.0 298.0,108.2 297.7,108.5 297.9,109.0 298.0,109.1 298.4,109.5 298.5,109.6 299.0,109.9 299.5,109.9 300.0,109.6 300.2,109.5 300.5,109.3 301.0,109.3 301.5,109.5 301.5,109.5 302.0,109.8 302.2,110.0 302.5,110.2 303.0,110.4 303.3,110.5 303.5,110.6 304.0,110.7 304.5,110.9 304.6,111.0 305.0,111.5 305.0,111.5 305.1,112.0 305.1,112.5 305.1,113.0 305.1,113.5 305.1,114.0 305.1,114.5 305.3,115.0 305.5,115.3 306.0,115.4 306.2,115.5 306.5,115.6 307.0,115.9 307.3,116.0 307.5,116.1 308.0,116.4 308.2,116.5 308.5,116.7 308.8,117.0 309.0,117.3 309.1,117.5 309.4,118.0 309.5,118.3 309.6,118.5 309.9,119.0 310.0,119.2 310.3,119.5 310.5,119.8 310.7,120.0 310.9,120.5 310.9,121.0 310.9,121.5 310.8,122.0 310.5,122.5 310.5,122.5 310.3,123.0 310.1,123.5 310.0,124.0 310.1,124.5 310.1,125.0 310.0,125.5 310.0,125.7 309.9,126.0 309.8,126.5 309.6,127.0 309.5,127.1 309.3,127.5 309.1,128.0 309.0,128.1 308.8,128.5 308.5,128.9 308.4,129.0 308.1,129.5 308.0,129.8 307.9,130.0 307.7,130.5 307.5,130.8 307.2,131.0 307.0,131.0 306.5,131.2 306.3,131.5 306.0,131.7 305.9,132.0 305.7,132.5 305.5,133.0 305.5,133.5 305.5,133.5 305.5,133.5 305.7,134.0 306.0,134.3 306.5,134.4 307.0,134.5 307.5,134.5 307.6,134.5 308.0,134.5 308.5,134.5 309.0,134.5 309.2,134.5 309.5,134.4 309.8,134.0 309.6,133.5 309.5,133.3 309.3,133.0 309.1,132.5 309.0,132.3 308.8,132.0 308.9,131.5 309.0,131.5 309.5,131.2 309.9,131.0 310.0,131.0 310.5,130.9 311.0,130.9 311.3,131.0 311.5,131.1 311.9,131.5 312.0,131.9 312.0,132.0 312.0,132.5 312.0,132.6 311.9,133.0 311.8,133.5 311.7,134.0 311.9,134.5 312.0,134.6 312.2,135.0 312.5,135.5 312.5,135.5 312.6,136.0 312.5,136.5 312.5,136.5 312.0,136.8 311.6,137.0 311.5,137.0 311.0,137.1 310.5,137.2 310.0,137.2 309.5,137.3 309.3,137.5 309.0,137.8 308.9,138.0 308.8,138.5 308.9,139.0 309.0,139.5 309.0,139.5 309.2,140.0 309.3,140.5 309.3,141.0 309.3,141.5 309.4,142.0 309.5,142.3 309.5,142.5 309.7,143.0 309.8,143.5 309.9,144.0 310.0,144.4 310.0,144.5 310.0,144.6 309.9,145.0 309.5,145.4 309.4,145.5 309.0,145.8 308.7,146.0 308.5,146.1 308.0,146.5 308.0,146.5 307.5,146.9 307.4,147.0 307.0,147.3 306.6,147.5 306.5,147.6 306.0,148.0 306.0,148.0 305.7,148.5 305.6,149.0 305.6,149.5 305.7,150.0 305.6,150.5 305.5,150.8 305.5,151.0 305.5,151.0 306.0,151.2 306.1,151.0 306.5,150.5 306.5,150.5 307.0,150.3 307.5,150.2 308.0,150.3 308.4,150.5 308.5,150.6 309.0,150.9 309.1,151.0 309.4,151.5 309.4,152.0 309.2,152.5 309.0,152.7 308.8,153.0 308.7,153.5 308.6,154.0 308.6,154.5 308.7,155.0 308.7,155.5 308.7,156.0 308.6,156.5 308.5,156.6 308.0,157.0 308.0,157.0 307.5,157.2 307.0,157.4 306.9,157.5 306.5,157.9 306.4,158.0 306.1,158.5 306.0,158.7 305.8,159.0 305.5,159.3 305.4,159.5 305.1,160.0 305.0,160.2 304.9,160.5 304.9,161.0 305.0,161.5 305.0,161.7 305.2,162.0 305.2,162.5 305.0,162.9 304.5,163.0 304.0,162.7 303.5,162.5 303.4,162.5 303.0,162.4 302.5,162.4 302.0,162.3 301.5,162.1 301.0,162.3 300.9,162.5 300.8,163.0 300.7,163.5 300.5,163.8 300.2,164.0 300.0,164.1 299.9,164.0 299.6,163.5 299.5,163.4 299.4,163.0 299.1,162.5 299.0,162.5 298.5,162.1 298.4,162.0 298.0,161.8 297.5,161.6 297.0,161.6 296.5,161.9 296.5,162.0 296.4,162.5 296.4,163.0 296.4,163.5 296.3,164.0 296.2,164.5 296.1,165.0 296.0,165.4 295.9,165.5 295.8,166.0 295.5,166.2 295.0,166.1 294.5,166.1 294.0,166.0 293.5,166.1 293.0,166.5 293.0,166.5 292.9,167.0 293.0,167.4 293.1,167.5 293.5,167.8 294.0,167.9 294.5,167.8 295.0,167.7 295.2,167.5 295.5,167.0 295.5,167.0 295.6,166.5 296.0,166.1 296.5,166.2 297.0,166.2 297.5,166.2 298.0,166.2 298.5,166.0 298.6,166.0 299.0,165.7 299.4,165.5 299.5,165.4 300.0,165.5 300.0,165.5 300.3,166.0 300.5,166.5 300.5,166.5 300.6,167.0 300.8,167.5 301.0,168.0 301.0,168.0 301.2,168.5 301.3,169.0 301.4,169.5 M248.5,29.3 248.0,29.4 247.7,29.0 247.5,28.5 247.5,28.4 247.4,28.0 247.4,27.5 247.4,27.0 247.5,26.6 247.6,26.5 248.0,26.3 248.5,26.3 248.9,26.5 249.0,26.6 249.2,27.0 249.2,27.5 249.1,28.0 249.0,28.5 249.0,28.5 248.7,29.0 248.5,29.3 M282.5,28.7 282.0,29.0 281.5,28.7 281.4,28.5 281.0,28.0 281.0,27.9 280.8,27.5 280.8,27.0 281.0,26.5 281.0,26.5 281.5,26.2 282.0,26.4 282.1,26.5 282.5,27.0 282.5,27.1 282.7,27.5 282.8,28.0 282.6,28.5 282.5,28.7 M273.6,41.0 273.7,40.5 273.8,40.0 274.0,39.5 274.0,39.4 274.1,39.0 274.0,38.5 274.0,38.5 273.5,38.4 273.3,38.5 273.0,39.0 273.0,39.0 273.0,39.5 272.9,40.0 272.8,40.5 272.8,41.0 273.0,41.3 273.5,41.2 273.6,41.0 M250.0,49.6 249.5,49.8 249.0,49.8 248.5,49.8 248.0,49.8 247.5,49.8 247.0,49.6 246.9,49.5 246.6,49.0 246.5,48.6 246.5,48.5 246.5,48.0 246.5,47.5 246.5,47.4 246.6,47.0 247.0,46.5 247.0,46.5 247.5,46.3 248.0,46.2 248.5,46.2 249.0,46.5 249.0,46.5 249.2,47.0 249.5,47.5 249.5,47.6 249.6,48.0 249.8,48.5 250.0,49.0 250.0,49.0 250.0,49.5 250.0,49.6 M271.1,56.5 271.5,56.2 271.6,56.0 272.0,55.5 272.0,55.5 272.5,55.1 272.6,55.0 273.0,54.8 273.3,54.5 273.5,54.2 273.6,54.0 273.7,53.5 273.6,53.0 273.5,52.6 273.5,52.5 273.3,52.0 273.0,51.5 273.5,51.1 274.0,51.1 274.5,51.4 274.5,51.5 275.0,51.6 275.5,51.6 275.7,51.5 275.5,51.4 275.0,51.0 275.0,51.0 274.5,50.7 274.4,50.5 274.4,50.0 274.4,49.5 274.5,49.2 274.5,49.0 274.6,48.5 274.6,48.0 274.6,47.5 274.5,47.3 274.2,47.0 274.0,46.9 273.5,47.0 273.3,47.0 273.0,47.1 272.5,47.2 272.0,47.5 272.0,47.5 271.7,48.0 271.7,48.5 271.8,49.0 271.8,49.5 271.7,50.0 271.5,50.3 271.0,50.5 270.5,50.4 270.0,50.3 269.5,50.2 269.0,50.2 268.5,50.2 268.0,50.5 267.9,50.5 267.5,50.9 267.5,51.0 267.3,51.5 267.2,52.0 267.3,52.5 267.5,52.9 267.5,53.0 267.9,53.5 268.0,53.7 268.3,54.0 268.5,54.2 268.8,54.5 269.0,54.7 269.5,55.0 269.5,55.0 270.0,55.5 270.0,55.5 270.2,56.0 270.5,56.4 270.8,56.5 271.0,56.5 271.1,56.5 M276.1,58.5 276.5,58.3 276.9,58.0 277.0,57.9 277.3,57.5 277.5,57.0 277.5,56.5 277.4,56.0 277.1,55.5 277.0,55.4 276.5,55.2 276.0,55.2 275.5,55.3 275.2,55.5 275.0,55.7 274.8,56.0 274.6,56.5 274.6,57.0 274.7,57.5 275.0,58.0 275.0,58.1 275.4,58.5 275.5,58.6 276.0,58.6 276.1,58.5 M247.0,61.6 246.5,61.5 246.5,61.5 246.2,61.0 246.2,60.5 246.5,60.0 246.5,59.9 247.0,59.5 247.5,60.0 247.5,60.0 247.6,60.5 247.5,61.0 247.5,61.1 247.1,61.5 247.0,61.6 M281.5,63.4 281.0,63.4 280.5,63.1 280.5,63.0 280.3,62.5 280.5,62.1 281.0,62.0 281.5,62.3 281.7,62.5 281.7,63.0 281.5,63.4 M258.1,65.0 258.5,64.7 258.6,64.5 258.6,64.0 258.5,63.8 258.1,63.5 258.0,63.5 258.0,63.5 257.5,63.8 257.4,64.0 257.2,64.5 257.5,65.0 257.7,65.0 258.0,65.0 258.1,65.0 M247.5,66.1 247.0,66.2 246.5,66.0 246.5,66.0 246.3,65.5 246.3,65.0 246.5,64.7 246.7,64.5 247.0,64.4 247.5,64.4 247.8,64.5 248.0,64.6 248.3,65.0 248.3,65.5 248.0,65.8 247.8,66.0 247.5,66.1 M268.9,77.5 269.0,77.3 269.1,77.0 269.0,76.6 268.9,76.5 268.5,76.3 268.2,76.0 268.1,75.5 268.5,75.1 268.7,75.0 269.0,74.9 269.5,74.7 269.8,74.5 270.0,74.4 270.4,74.0 270.5,73.9 270.9,73.5 271.0,73.4 271.3,73.0 271.5,72.8 271.7,72.5 271.8,72.0 271.8,71.5 271.8,71.0 271.6,70.5 271.5,70.3 271.3,70.0 271.0,69.6 270.8,69.5 270.5,69.4 270.1,69.5 270.0,69.5 269.5,69.9 269.4,70.0 269.0,70.4 268.9,70.5 268.5,71.0 268.5,71.0 268.1,71.5 268.0,71.6 267.6,72.0 267.5,72.0 267.0,72.3 266.6,72.5 266.5,72.5 266.0,72.8 265.6,73.0 265.5,73.1 265.2,73.5 265.1,74.0 265.2,74.5 265.4,75.0 265.5,75.2 265.7,75.5 266.0,75.7 266.4,76.0 266.5,76.1 267.0,76.4 267.1,76.5 267.5,77.0 267.5,77.0 267.9,77.5 268.0,77.6 268.5,77.7 268.9,77.5 M247.5,72.6 247.0,72.8 246.5,72.9 246.0,72.9 245.5,72.8 245.3,72.5 245.3,72.0 245.5,71.5 245.5,71.5 246.0,71.0 246.0,71.0 246.5,70.7 247.0,70.5 247.0,70.5 247.5,70.4 248.0,70.5 248.0,70.5 248.5,71.0 248.5,71.0 248.5,71.5 248.5,71.5 248.2,72.0 248.0,72.2 247.6,72.5 247.5,72.6 M246.5,99.4 246.0,99.3 245.7,99.0 245.5,98.6 245.5,98.5 245.4,98.0 245.5,97.6 245.6,97.5 246.0,97.3 246.5,97.2 247.0,97.5 247.0,97.5 247.3,98.0 247.2,98.5 247.0,98.9 246.9,99.0 246.5,99.4 M243.5,109.7 243.0,109.8 242.5,109.5 242.5,109.5 242.5,109.0 242.5,109.0 243.0,108.7 243.5,108.7 244.0,108.8 244.3,109.0 244.0,109.4 243.9,109.5 243.5,109.7 M296.8,114.5 297.0,114.0 296.8,113.5 296.5,113.1 296.3,113.0 296.0,112.9 295.5,112.9 295.2,113.0 295.0,113.3 294.9,113.5 295.0,114.0 295.0,114.0 295.5,114.5 295.5,114.5 296.0,114.7 296.5,114.7 296.8,114.5 M304.7,118.0 304.8,117.5 304.8,117.0 304.8,116.5 304.5,116.1 304.0,116.2 303.5,116.5 303.5,116.5 303.2,117.0 303.3,117.5 303.5,118.0 303.5,118.0 304.0,118.4 304.5,118.4 304.7,118.0 M305.0,121.5 305.3,121.0 305.2,120.5 305.0,120.3 304.5,120.2 304.1,120.5 304.0,120.6 303.7,121.0 303.8,121.5 304.0,121.7 304.5,121.8 305.0,121.5 305.0,121.5 M249.0,136.6 248.7,136.5 248.5,136.4 248.0,136.0 248.0,136.0 247.6,135.5 247.5,135.2 247.4,135.0 247.5,134.8 248.0,134.5 248.5,134.6 249.0,134.7 249.4,135.0 249.5,135.1 249.6,135.5 249.7,136.0 249.5,136.4 249.4,136.5 249.0,136.6 M255.0,161.5 254.5,161.7 254.0,161.8 253.5,161.7 253.2,161.5 253.0,161.3 252.7,161.0 252.5,160.5 252.5,160.5 252.4,160.0 252.5,159.9 252.7,159.5 253.0,159.1 253.1,159.0 253.5,158.6 253.7,158.5 254.0,158.4 254.5,158.4 255.0,158.5 255.1,158.5 255.5,158.6 256.0,158.9 256.2,159.0 256.5,159.3 256.7,159.5 256.8,160.0 256.6,160.5 256.5,160.6 256.0,161.0 256.0,161.0 255.5,161.3 255.1,161.5 255.0,161.5 M304.5,165.6 304.0,165.9 303.5,165.8 303.0,165.5 303.0,165.4 303.0,165.0 303.0,164.9 303.3,164.5 303.5,164.3 303.9,164.0 304.0,163.9 304.5,163.7 304.6,164.0 304.8,164.5 304.8,165.0 304.6,165.5 304.5,165.6 M283.1,169.5 283.0,169.4 282.5,169.1 282.1,169.0 282.0,169.0 281.5,168.9 281.0,168.9 280.5,168.8 280.0,168.5 280.0,168.5 279.8,168.0 279.8,167.5 279.9,167.0 280.0,166.6 280.0,166.5 280.0,166.5 279.9,166.0 279.5,165.7 279.1,165.5 279.0,165.5 278.5,165.5 278.0,165.5 277.7,165.5 277.5,165.5 277.0,165.6 276.5,165.9 276.5,166.0 276.4,166.5 276.4,167.0 276.5,167.5 276.4,168.0 276.2,168.5 276.0,168.9 275.9,169.0 275.7,169.5" fill="none" stroke="#000" stroke-width="0.75" stroke-linejoin="round"/>
<path d="M268.0,22.0 268.0,22.1 268.3,22.5 268.5,22.7 269.0,22.9 269.3,23.0 269.5,23.1 270.0,23.4 270.0,23.5 270.2,24.0 270.1,24.5 270.0,24.7 269.9,25.0 269.6,25.5 269.5,25.6 269.2,26.0 269.0,26.1 268.5,26.4 268.0,26.4 267.5,26.4 267.0,26.5 266.9,26.5 266.5,26.6 266.0,27.0 266.0,27.0 265.6,27.5 265.5,27.8 265.4,28.0 265.2,28.5 265.0,28.9 265.0,29.0 264.7,29.5 264.5,30.0 264.5,30.1 264.4,30.5 264.3,31.0 264.1,31.5 264.0,31.6 263.7,32.0 263.5,32.2 263.2,32.5 263.0,32.7 262.6,33.0 262.5,33.1 262.0,33.3 261.5,33.5 261.0,33.4 260.5,33.2 260.2,33.0 260.0,32.8 259.5,32.7 259.3,33.0 259.1,33.5 259.0,34.0 259.0,34.5 259.1,35.0 259.2,35.5 259.4,36.0 259.5,36.5 259.5,36.9 259.5,37.0 259.5,37.0 259.4,37.5 259.3,38.0 259.1,38.5 259.0,38.8 258.5,38.9 258.0,38.7 257.5,38.7 257.0,38.9 257.0,39.0 256.8,39.5 256.7,40.0 256.8,40.5 257.0,40.9 257.0,41.0 257.4,41.5 257.5,41.5 258.0,41.7 258.5,41.9 258.9,42.0 259.0,42.0 259.5,42.2 260.0,42.5 260.0,42.5 260.5,42.8 260.8,43.0 261.0,43.3 261.1,43.5 261.0,43.9 261.0,44.0 260.8,44.5 260.6,45.0 260.5,45.5 260.5,46.0 260.7,46.5 260.9,47.0 261.0,47.5 261.0,47.5 261.0,47.5 260.8,48.0 260.5,48.3 260.3,48.5 260.0,48.7 259.5,48.9 259.3,49.0 259.0,49.2 258.5,49.4 258.0,49.4 257.6,49.0 257.5,48.8 257.4,48.5 257.5,48.3 257.6,48.0 257.6,47.5 257.5,47.3 257.3,47.0 257.0,46.9 256.5,46.6 256.3,46.5 256.0,46.3 255.7,46.0 255.5,45.7 255.4,45.5 255.2,45.0 255.1,44.5 255.0,44.0 255.0,44.0 254.9,43.5 254.7,43.0 254.5,42.5 254.5,42.3 254.5,42.0 254.4,41.5 254.4,41.0 254.4,40.5 254.3,40.0 254.2,39.5 254.1,39.0 254.2,38.5 254.1,38.0 254.0,37.5 254.0,37.5 253.7,37.0 253.5,36.7 253.3,36.5 253.0,36.1 252.9,36.0 253.0,35.5 253.0,35.5 253.4,35.0 253.5,34.9 254.0,34.5 254.0,34.5 254.5,34.0 254.5,34.0 254.6,33.5 254.6,33.0 254.6,32.5 254.7,32.0 254.9,31.5 255.0,31.4 255.5,31.1 256.0,31.0 256.0,31.0 256.5,30.9 257.0,30.6 257.2,30.5 257.5,30.2 257.7,30.0 258.0,29.7 258.3,29.5 258.5,29.4 259.0,29.0 259.0,29.0 259.5,28.5 259.5,28.4 259.8,28.0 260.0,27.7 260.1,27.5 260.4,27.0 260.5,26.9 260.8,26.5 261.0,26.3 261.3,26.0 261.5,25.9 262.0,25.5 262.0,25.5 262.4,25.0 262.5,24.8 262.6,24.5 262.7,24.0 262.8,23.5 263.0,23.0 263.0,23.0 263.2,22.5 263.5,22.1 263.6,22.0 M277.3,22.0 277.2,22.5 277.0,22.6 276.5,22.9 276.3,23.0 276.0,23.1 275.5,23.2 275.0,23.3 274.6,23.5 274.5,23.6 274.0,23.9 273.8,24.0 273.5,24.5 273.5,24.8 273.5,25.0 273.5,25.0 273.6,25.5 273.8,26.0 273.9,26.5 274.0,27.0 273.7,27.5 273.5,27.7 273.0,28.0 273.0,28.0 272.5,28.2 272.0,28.3 271.7,28.0 271.5,27.7 271.4,27.5 271.4,27.0 271.3,26.5 271.4,26.0 271.5,25.6 271.5,25.5 271.7,25.0 272.0,24.5 272.0,24.5 272.2,24.0 272.5,23.5 272.5,23.5 272.7,23.0 272.9,22.5 273.0,22.1 273.0,22.0 M271.8,169.5 271.5,169.1 271.4,169.0 271.2,168.5 271.3,168.0 271.5,167.5 271.5,167.5 271.9,167.0 272.0,166.9 272.3,166.5 272.5,166.0 272.5,166.0 272.6,165.5 272.6,165.0 272.5,164.8 272.4,164.5 272.0,164.1 271.9,164.0 271.5,163.6 271.4,163.5 271.0,163.0 271.0,163.0 270.5,162.7 270.0,162.8 269.5,162.9 269.2,163.0 269.0,163.1 268.5,163.4 268.3,163.5 268.0,163.8 267.8,164.0 267.5,164.3 267.3,164.5 267.0,164.7 266.5,164.8 266.2,165.0 266.0,165.1 265.5,165.4 265.4,165.5 265.0,165.9 264.8,166.0 264.5,166.2 264.0,166.4 263.5,166.2 263.3,166.0 263.1,165.5 263.0,165.2 263.0,165.0 263.0,164.7 263.0,164.5 263.5,164.0 263.5,164.0 264.0,163.8 264.5,163.7 265.0,163.5 265.0,163.5 265.5,163.2 265.7,163.0 265.9,162.5 265.9,162.0 265.8,161.5 265.6,161.0 265.5,160.8 265.4,160.5 265.1,160.0 265.0,159.9 264.7,159.5 264.5,159.3 264.1,159.0 264.0,159.0 263.5,158.8 263.0,158.8 262.5,158.9 262.3,159.0 262.0,159.2 261.7,159.5 261.5,160.0 261.5,160.0 261.1,160.5 261.0,160.7 260.5,160.6 260.5,160.5 260.2,160.0 260.2,159.5 260.2,159.0 260.1,158.5 260.0,158.2 259.9,158.0 259.6,157.5 259.5,157.4 259.2,157.0 259.0,156.8 258.8,156.5 258.5,156.2 258.4,156.0 258.0,155.6 257.9,155.5 257.5,155.2 257.3,155.0 257.0,154.8 256.5,154.5 256.5,154.5 256.0,154.2 255.6,154.0 255.5,153.9 255.3,153.5 255.2,153.0 255.2,152.5 255.2,152.0 255.1,151.5 255.0,151.0 255.0,150.8 255.0,150.5 255.0,150.2 255.0,150.0 255.1,149.5 255.3,149.0 255.5,148.5 255.5,148.5 255.7,148.0 255.8,147.5 255.9,147.0 255.7,146.5 255.5,146.3 255.3,146.0 255.0,145.7 254.8,145.5 254.5,145.0 254.5,145.0 254.3,144.5 254.1,144.0 254.1,143.5 254.1,143.0 254.0,142.5 254.0,142.5 253.6,142.0 253.5,142.0 253.0,141.8 252.5,141.5 252.5,141.5 252.0,141.1 251.9,141.0 251.8,140.5 251.8,140.0 251.9,139.5 252.0,139.0 252.0,138.8 252.0,138.5 252.1,138.0 252.3,137.5 252.5,137.2 252.8,137.0 253.0,136.9 253.5,136.5 253.5,136.5 253.7,136.0 253.6,135.5 253.5,135.4 253.3,135.0 253.0,134.6 252.9,134.5 252.5,134.2 252.2,134.0 252.0,133.9 251.5,133.6 251.2,133.5 251.0,133.3 250.7,133.0 250.5,132.6 250.4,132.5 250.3,132.0 250.3,131.5 250.4,131.0 250.5,130.5 250.5,130.4 250.6,130.0 250.7,129.5 250.7,129.0 250.8,128.5 250.8,128.0 250.8,127.5 250.8,127.0 250.9,126.5 251.0,126.2 251.0,126.0 251.3,125.5 251.5,125.3 251.7,125.0 252.0,124.5 252.0,124.5 252.3,124.0 252.5,123.5 252.5,123.4 252.7,123.0 252.9,122.5 252.9,122.0 252.8,121.5 252.5,121.0 252.5,121.0 252.0,120.5 251.9,120.5 251.5,120.4 251.0,120.2 250.5,120.0 250.5,120.0 250.0,119.8 249.5,119.6 249.3,119.5 249.0,119.3 248.5,119.0 248.5,119.0 248.3,118.5 248.3,118.0 248.4,117.5 248.5,117.3 248.6,117.0 248.9,116.5 249.0,116.2 249.2,116.0 249.5,115.7 249.9,115.5 250.0,115.0 249.7,114.5 249.5,114.3 249.2,114.0 249.0,113.8 248.7,113.5 248.5,113.0 248.5,112.9 248.4,112.5 248.5,112.0 248.5,111.5 248.5,111.0 248.3,110.5 248.1,110.0 248.0,109.8 247.9,109.5 247.7,109.0 247.6,108.5 247.7,108.0 248.0,107.6 248.1,107.5 248.5,107.2 248.7,107.0 249.0,106.7 249.2,106.5 249.4,106.0 249.3,105.5 249.2,105.0 249.1,104.5 249.0,104.0 249.2,103.5 249.5,103.0 249.6,103.0 250.0,102.7 250.5,102.7 251.0,102.7 251.5,102.5 251.5,102.5 251.8,102.0 251.8,101.5 251.5,101.2 251.4,101.0 251.0,100.6 251.0,100.5 250.8,100.0 250.6,99.5 250.5,99.4 250.3,99.0 250.0,98.6 249.9,98.5 249.6,98.0 249.5,97.8 249.3,97.5 249.2,97.0 249.1,96.5 249.1,96.0 249.0,95.6 249.0,95.5 248.7,95.0 248.5,94.7 248.3,94.5 248.0,94.2 247.8,94.0 247.6,93.5 247.6,93.0 248.0,92.5 248.1,92.5 248.5,92.4 249.0,92.4 249.5,92.5 249.6,92.5 250.0,92.6 250.5,93.0 250.5,93.0 250.9,93.5 251.0,93.6 251.5,93.9 252.0,93.8 252.3,93.5 252.5,93.1 252.6,93.0 252.6,92.5 252.7,92.0 253.0,91.6 253.3,91.5 253.5,91.4 253.7,91.0 253.7,90.5 253.6,90.0 253.5,89.8 253.3,89.5 253.3,89.0 253.4,88.5 253.5,88.4 253.7,88.0 254.0,87.7 254.3,87.5 254.5,87.4 255.0,87.1 255.2,87.0 255.5,86.8 255.7,86.5 256.0,86.1 256.1,86.0 256.3,85.5 256.5,85.0 256.5,85.0 256.6,84.5 256.6,84.0 256.5,83.7 256.4,83.5 256.1,83.0 256.0,82.9 255.5,82.6 255.0,82.6 254.5,82.8 254.2,83.0 254.0,83.1 253.5,83.5 253.4,83.5 253.0,83.6 252.9,83.5 252.5,83.1 252.5,83.0 252.3,82.5 252.3,82.0 252.2,81.5 252.0,81.2 251.9,81.0 251.5,80.7 251.2,80.5 251.0,80.3 250.8,80.0 251.0,79.7 251.0,79.5 251.4,79.0 251.5,78.9 251.9,78.5 252.0,78.4 252.5,78.2 252.9,78.5 253.0,78.5 253.3,79.0 253.5,79.1 254.0,79.5 254.0,79.5 254.5,79.7 255.0,79.9 255.5,79.9 256.0,79.7 256.2,79.5 256.5,79.2 256.7,79.0 256.9,78.5 257.0,78.0 257.0,78.0 257.1,77.5 257.0,77.0 257.0,77.0 256.7,76.5 256.5,76.2 256.3,76.0 256.0,75.5 256.1,75.0 256.4,74.5 256.5,74.4 256.8,74.0 257.0,73.7 257.1,73.5 257.3,73.0 257.5,72.5 257.5,72.5 257.7,72.0 258.0,71.7 258.2,71.5 258.5,71.3 259.0,71.2 259.5,71.1 260.0,71.0 260.2,71.0 260.5,70.9 261.0,70.8 261.5,70.5 261.5,70.5 262.0,70.1 262.1,70.0 262.5,69.5 262.5,69.4 262.7,69.0 262.7,68.5 262.5,68.3 262.3,68.0 262.0,67.8 261.5,67.7 261.0,67.6 260.5,67.6 260.0,67.5 259.9,67.5 259.5,67.4 259.0,67.1 258.5,67.0 258.0,67.0 258.0,67.0 258.0,67.0 258.5,66.9 259.0,66.7 259.1,66.5 259.5,66.2 259.7,66.0 260.0,65.5 260.0,65.5 260.1,65.0 260.0,64.7 260.0,64.5 259.7,64.0 259.5,63.5 259.5,63.4 259.3,63.0 259.0,62.7 258.5,62.5 258.0,62.6 257.5,62.7 257.1,63.0 257.0,63.1 256.5,63.5 256.5,63.5 256.1,64.0 256.0,64.2 255.8,64.5 255.5,65.0 255.5,65.1 255.0,65.4 254.5,65.2 254.3,65.0 254.1,64.5 254.3,64.0 254.5,63.6 254.6,63.5 254.8,63.0 254.9,62.5 254.8,62.0 254.5,61.5 254.5,61.4 254.2,61.0 254.0,60.7 253.9,60.5 253.7,60.0 253.6,59.5 253.6,59.0 253.6,58.5 253.8,58.0 254.0,57.8 254.5,57.8 255.0,58.0 255.0,58.0 255.5,58.3 255.8,58.5 256.0,58.7 256.3,59.0 256.5,59.2 257.0,59.4 257.5,59.4 258.0,59.3 258.5,59.3 258.8,59.5 259.0,59.6 259.2,60.0 259.4,60.5 259.5,60.9 259.6,61.0 259.8,61.5 260.0,61.8 260.3,62.0 260.5,62.1 261.0,62.1 261.2,62.0 261.5,61.9 261.9,61.5 262.0,61.3 262.2,61.0 262.5,60.5 262.5,60.5 263.0,60.1 263.5,60.2 264.0,60.2 264.5,60.1 264.9,60.0 265.0,60.0 265.5,59.7 265.8,59.5 266.0,59.3 266.2,59.0 266.2,58.5 266.0,58.0 266.0,58.0 265.5,57.5 265.5,57.5 265.0,57.3 264.5,57.3 264.3,57.5 264.0,57.8 263.9,58.0 263.6,58.5 263.5,58.6 263.3,59.0 263.0,59.5 263.0,59.6 262.6,60.0 262.5,60.4 262.4,60.0 262.0,59.9 261.5,59.7 261.0,59.5 261.0,59.5 260.5,59.3 260.0,59.2 259.5,59.1 259.0,59.0 259.0,59.0 258.6,58.5 258.5,58.3 258.4,58.0 258.2,57.5 258.0,57.2 257.9,57.0 257.5,56.5 257.5,56.5 257.0,56.2 256.5,56.1 256.0,56.2 255.5,56.3 255.0,56.2 254.7,56.0 254.5,55.7 254.4,55.5 254.4,55.0 254.5,54.5 254.5,54.4 254.7,54.0 255.0,53.7 255.5,53.6 256.0,53.8 256.4,54.0 256.5,54.1 257.0,54.2 257.5,54.0 257.5,54.0 258.0,53.6 258.1,53.5 258.5,53.1 258.7,53.0 259.0,52.7 259.5,52.5 259.5,52.5 260.0,52.2 260.3,52.0 260.5,51.8 260.8,51.5 261.0,51.3 261.3,51.0 261.5,50.8 261.9,50.5 262.0,50.4 262.5,50.1 262.7,50.0 263.0,49.7 263.1,49.5 263.3,49.0 263.1,48.5 263.0,48.4 262.7,48.0 262.5,47.7 262.4,47.5 262.2,47.0 262.3,46.5 262.5,46.0 262.5,46.0 262.7,45.5 262.9,45.0 263.0,44.8 263.1,44.5 263.1,44.0 263.0,43.6 263.0,43.5 262.9,43.0 263.0,42.8 263.1,42.5 263.4,42.0 263.5,41.8 263.7,41.5 263.9,41.0 263.7,40.5 263.5,40.2 263.4,40.0 263.2,39.5 263.2,39.0 263.2,38.5 263.3,38.0 263.5,37.5 263.5,37.4 263.6,37.0 263.6,36.5 263.7,36.0 263.9,35.5 264.0,35.4 264.5,35.0 264.5,35.0 265.0,34.8 265.5,34.6 266.0,34.6 266.5,34.7 267.0,34.8 267.5,35.0 267.5,35.0 268.0,35.4 268.1,35.5 268.5,35.8 268.8,36.0 269.0,36.1 269.5,36.3 270.0,36.4 270.4,36.5 270.5,36.6 271.0,37.0 270.9,37.5 271.0,37.9 271.0,38.0 271.4,38.5 271.5,38.6 271.7,39.0 271.8,39.5 271.6,40.0 271.5,40.2 271.2,40.5 271.0,40.6 270.5,41.0 270.5,41.0 270.0,41.3 269.7,41.5 269.5,41.7 269.0,42.0 268.9,42.0 268.5,42.3 268.1,42.5 268.0,42.6 267.6,43.0 267.5,43.4 267.5,43.5 267.5,43.6 267.6,44.0 268.0,44.4 268.5,44.4 269.0,44.2 269.4,44.0 269.5,44.0 270.0,43.7 270.5,43.5 270.5,43.5 271.0,43.3 271.5,43.2 272.0,43.2 272.5,43.3 272.8,43.5 273.0,43.6 273.5,44.0 273.5,44.0 273.9,44.5 273.9,45.0 273.8,45.5 273.5,46.0 273.5,46.0 273.0,46.3 272.6,46.5 272.5,46.5 272.0,46.6 271.5,46.6 271.0,46.5 271.0,46.5 270.5,46.3 270.0,46.2 269.7,46.5 269.5,46.8 269.4,47.0 269.4,47.5 269.5,47.9 269.5,48.0 269.8,48.5 269.5,49.0 269.5,49.0 269.0,49.2 268.5,49.4 268.4,49.5 268.0,49.6 267.5,50.0 267.4,50.0 267.0,50.4 266.9,50.5 266.7,51.0 266.5,51.5 266.5,52.0 266.6,52.5 266.8,53.0 267.0,53.3 267.1,53.5 267.5,54.0 267.5,54.0 267.9,54.5 268.0,54.7 268.2,55.0 268.4,55.5 268.4,56.0 268.5,56.4 268.5,56.5 269.0,57.0 269.1,57.0 269.5,57.2 270.0,57.5 270.0,57.5 270.5,57.7 271.0,57.8 271.5,57.7 271.8,57.5 272.0,57.4 272.4,57.0 272.5,56.9 272.9,56.5 273.0,56.4 273.5,56.4 273.6,56.5 273.7,57.0 273.9,57.5 274.0,57.7 274.1,58.0 274.2,58.5 274.3,59.0 274.4,59.5 274.4,60.0 274.2,60.5 274.0,60.7 273.5,60.9 273.0,60.9 272.5,60.7 272.0,60.6 271.5,60.7 271.1,61.0 271.0,61.1 270.7,61.5 270.5,61.8 270.4,62.0 270.0,62.5 270.5,63.0 270.6,63.0 271.0,63.1 271.5,63.2 272.0,63.3 272.5,63.4 272.8,63.5 273.0,63.6 273.3,64.0 273.5,64.5 273.5,64.9 273.5,65.0 273.5,65.0 273.4,65.5 273.1,66.0 273.0,66.1 272.7,66.5 272.5,66.9 272.4,67.0 272.4,67.5 272.5,67.7 273.0,67.7 273.5,67.5 273.6,67.5 274.0,67.4 274.4,67.5 274.5,67.5 274.8,68.0 275.0,68.5 275.0,68.6 275.1,69.0 275.2,69.5 275.1,70.0 275.0,70.1 274.7,70.5 274.5,70.7 274.2,71.0 274.0,71.2 273.7,71.5 273.5,71.9 273.4,72.0 273.1,72.5 273.0,73.0 273.0,73.2 272.9,73.5 272.7,74.0 272.5,74.2 272.0,74.3 271.7,74.0 272.0,73.5 272.0,73.5 272.4,73.0 272.5,72.7 272.7,72.5 272.7,72.0 272.6,71.5 272.5,71.2 272.5,71.0 272.4,70.5 272.3,70.0 272.1,69.5 272.0,69.2 271.9,69.0 271.5,68.6 271.3,68.5 271.0,68.5 270.5,68.5 270.5,68.5 270.0,68.7 269.7,69.0 269.5,69.1 269.2,69.5 269.0,69.7 268.7,70.0 268.5,70.2 268.3,70.5 268.0,70.8 267.8,71.0 267.5,71.2 267.1,71.5 267.0,71.5 266.5,71.8 266.0,72.0 265.8,72.0 265.5,72.1 265.0,72.0 264.7,72.0 264.5,72.0 264.3,72.0 264.0,72.1 263.8,72.5 263.8,73.0 263.9,73.5 264.0,73.8 264.1,74.0 264.3,74.5 264.5,74.8 264.6,75.0 265.0,75.5 265.0,75.5 265.4,76.0 265.5,76.1 266.0,76.5 266.0,76.5 266.5,76.9 266.6,77.0 267.0,77.3 267.2,77.5 267.5,77.8 267.7,78.0 268.0,78.3 268.5,78.5 268.5,78.5 268.5,78.5 269.0,78.3 269.3,78.0 269.5,77.8 269.8,77.5 270.0,77.3 270.5,77.1 271.0,77.0 271.5,77.1 272.0,77.2 272.5,77.4 272.9,77.5 273.0,77.5 273.5,77.6 274.0,77.6 274.5,77.7 275.0,77.7 275.5,77.6 275.7,77.5 276.0,77.3 276.5,77.1 276.9,77.0 277.0,77.0 277.0,77.0 277.5,77.1 278.0,77.4 278.1,77.5 278.5,77.8 278.8,78.0 279.0,78.1 279.5,78.4 279.7,78.5 280.0,78.7 280.4,79.0 280.5,79.2 280.6,79.5 280.7,80.0 280.7,80.5 280.7,81.0 280.7,81.5 280.7,82.0 280.7,82.5 280.5,83.0 280.5,83.2 280.4,83.5 280.3,84.0 280.3,84.5 280.4,85.0 280.5,85.1 280.7,85.5 281.0,85.8 281.2,86.0 281.5,86.3 281.7,86.5 282.0,86.7 282.3,87.0 282.5,87.3 282.6,87.5 282.9,88.0 283.0,88.5 283.0,88.5 283.2,89.0 283.5,89.5 283.6,89.5 284.0,89.6 284.5,89.5 284.5,89.5 284.8,89.0 284.9,88.5 284.9,88.0 284.9,87.5 285.0,87.0 285.0,86.9 285.5,86.6 286.0,86.8 286.3,87.0 286.5,87.1 286.8,87.5 287.0,87.7 287.2,88.0 287.5,88.3 287.9,88.5 288.0,88.5 288.5,88.5 288.7,88.5 289.0,88.5 289.5,88.4 289.9,88.5 290.0,88.5 290.5,89.0 290.5,89.0 290.6,89.5 290.5,90.0 290.5,90.0 290.2,90.5 290.0,90.7 289.5,91.0 289.5,91.0 289.0,91.1 288.8,91.0 288.5,90.9 288.0,90.7 287.6,90.5 287.5,90.5 287.0,90.3 286.5,90.3 286.0,90.3 285.8,90.5 285.6,91.0 285.6,91.5 285.7,92.0 285.8,92.5 285.9,93.0 285.8,93.5 285.5,94.0 285.5,94.0 285.3,94.5 285.1,95.0 285.1,95.5 285.2,96.0 285.3,96.5 285.3,97.0 285.2,97.5 285.2,98.0 285.0,98.5 285.1,99.0 285.5,99.3 286.0,99.0 286.0,99.0 286.5,98.7 287.0,98.5 287.0,98.5 287.5,98.4 288.0,98.4 288.5,98.4 288.6,98.5 289.0,98.9 289.1,99.0 289.2,99.5 289.3,100.0 289.5,100.4 289.5,100.5 289.9,101.0 290.0,101.1 290.3,101.5 290.5,101.7 290.8,102.0 291.0,102.2 291.5,102.5 291.6,102.5 292.0,102.7 292.5,103.0 292.5,103.0 293.0,103.4 293.1,103.5 293.5,104.0 293.5,104.0 293.8,104.5 294.0,104.8 294.1,105.0 294.5,105.5 294.5,105.6 295.0,105.9 295.3,106.0 295.5,106.1 296.0,106.1 296.5,106.0 296.5,106.0 297.0,105.8 297.3,105.5 297.5,105.2 297.8,105.0 298.0,104.9 298.1,105.0 298.5,105.4 298.5,105.5 298.5,105.9 298.5,106.0 298.1,106.5 298.0,106.6 297.5,106.9 297.3,107.0 297.0,107.1 296.5,107.1 296.0,107.1 295.5,107.2 295.0,107.3 294.7,107.5 294.5,107.8 294.4,108.0 294.5,108.1 294.7,108.5 295.0,108.7 295.5,109.0 295.5,109.0 296.0,109.1 296.5,109.2 297.0,109.3 297.5,109.5 297.5,109.5 298.0,109.8 298.2,110.0 298.5,110.3 298.9,110.5 299.0,110.6 299.5,110.6 299.9,110.5 300.0,110.5 300.5,110.2 301.0,110.1 301.5,110.2 302.0,110.5 302.0,110.5 302.5,110.8 303.0,111.0 303.1,111.0 303.5,111.2 304.0,111.5 304.0,111.5 304.3,112.0 304.4,112.5 304.4,113.0 304.4,113.5 304.3,114.0 304.3,114.5 304.1,115.0 304.0,115.2 303.7,115.5 303.5,115.7 303.1,116.0 303.0,116.1 302.7,116.5 302.6,117.0 302.7,117.5 302.9,118.0 303.0,118.2 303.2,118.5 303.4,119.0 303.5,119.5 303.3,120.0 303.0,120.4 303.0,120.5 302.8,121.0 303.0,121.5 303.0,121.5 303.4,122.0 303.5,122.1 304.0,122.5 304.0,122.5 304.5,122.6 305.0,122.5 305.1,122.5 305.5,122.3 306.0,122.1 306.5,122.1 307.0,122.2 307.5,122.3 308.0,122.5 308.1,122.5 308.5,122.7 308.7,123.0 308.8,123.5 308.8,124.0 308.8,124.5 308.7,125.0 308.7,125.5 308.7,126.0 308.7,126.5 308.6,127.0 308.5,127.2 308.4,127.5 308.1,128.0 308.0,128.1 307.7,128.5 307.5,128.7 307.2,129.0 307.0,129.2 306.5,129.5 306.3,129.5 306.0,129.7 305.7,130.0 305.6,130.5 305.6,131.0 305.6,131.5 305.5,131.7 305.4,132.0 305.3,132.5 305.2,133.0 305.2,133.5 305.3,134.0 305.5,134.5 305.6,134.5 306.0,134.8 306.5,134.9 307.0,135.0 307.2,135.0 307.5,135.1 308.0,135.3 308.4,135.5 308.5,135.6 308.8,136.0 308.8,136.5 308.6,137.0 308.5,137.1 308.4,137.5 308.2,138.0 308.2,138.5 308.2,139.0 308.2,139.5 308.2,140.0 308.1,140.5 308.1,141.0 308.3,141.5 308.5,141.8 308.6,142.0 308.8,142.5 308.9,143.0 308.9,143.5 308.8,144.0 308.6,144.5 308.5,144.6 308.1,145.0 308.0,145.1 307.7,145.5 307.5,145.8 307.4,146.0 307.0,146.4 306.9,146.5 306.5,146.8 306.3,147.0 306.0,147.2 305.7,147.5 305.5,147.7 305.3,148.0 305.2,148.5 305.1,149.0 305.0,149.5 305.0,149.6 304.8,150.0 304.6,150.5 304.5,150.7 304.4,151.0 304.5,151.3 304.6,151.5 305.0,151.9 305.1,152.0 305.5,152.3 306.0,152.5 306.3,152.5 306.5,152.5 307.0,152.6 307.5,152.8 307.6,153.0 307.7,153.5 307.7,154.0 307.8,154.5 307.7,155.0 307.6,155.5 307.5,155.7 307.2,156.0 307.0,156.2 306.5,156.4 306.2,156.5 306.0,156.6 305.5,156.6 305.0,156.6 304.9,156.5 304.5,156.3 304.2,156.0 304.0,155.9 303.5,155.8 303.0,155.9 302.8,156.0 302.5,156.4 302.4,156.5 302.5,157.0 302.5,157.0 303.0,157.3 303.3,157.5 303.5,157.6 303.9,158.0 304.0,158.2 304.1,158.5 304.2,159.0 304.2,159.5 304.1,160.0 304.0,160.4 304.0,160.5 303.7,161.0 303.5,161.2 303.0,161.3 302.5,161.2 302.0,161.0 302.0,161.0 301.5,160.9 301.0,160.9 300.8,161.0 300.5,161.1 300.0,161.5 299.9,161.5 299.5,161.7 299.0,161.7 298.5,161.6 298.3,161.5 298.0,161.4 297.5,161.2 297.0,161.0 296.7,161.0 296.5,161.0 296.4,161.0 296.0,161.4 296.0,161.5 296.0,162.0 296.0,162.5 296.0,162.5 296.0,163.0 296.0,163.1 296.0,163.5 295.9,164.0 295.7,164.5 295.5,164.7 295.2,165.0 295.0,165.1 294.5,165.3 294.0,165.3 293.5,165.3 293.0,165.4 292.7,165.5 292.5,165.6 292.1,166.0 292.0,166.3 291.9,166.5 291.7,167.0 291.5,167.5 291.5,167.5 291.0,167.8 290.5,167.8 290.1,167.5 290.0,167.4 289.9,167.0 289.7,166.5 289.5,166.2 289.3,166.0 289.0,165.8 288.5,166.0 288.5,166.0 288.0,166.4 287.9,166.5 287.5,167.0 287.5,167.0 287.3,167.5 287.5,168.0 287.5,168.0 287.8,168.5 287.9,169.0 287.7,169.5 M274.5,36.7 274.0,37.0 273.5,36.9 273.0,36.6 272.9,36.5 273.0,36.0 273.0,35.9 273.4,35.5 273.5,35.4 274.0,35.3 274.3,35.5 274.5,35.7 274.6,36.0 274.6,36.5 274.5,36.7 M277.5,43.1 277.0,43.2 276.5,43.1 276.2,43.0 276.0,42.7 275.9,42.5 275.7,42.0 275.5,41.6 275.5,41.5 275.2,41.0 275.0,40.5 275.1,40.0 275.4,39.5 275.5,39.5 276.0,39.4 276.5,39.5 276.5,39.5 277.0,39.7 277.5,39.9 277.6,40.0 278.0,40.4 278.0,40.5 278.2,41.0 278.3,41.5 278.2,42.0 278.1,42.5 278.0,42.6 277.6,43.0 277.5,43.1 M276.0,49.4 275.6,49.0 275.7,48.5 275.9,48.0 276.0,47.8 276.4,47.5 276.5,47.4 276.7,47.5 276.8,48.0 276.6,48.5 276.5,48.9 276.4,49.0 276.0,49.4 M265.3,68.5 265.5,68.4 266.0,68.1 266.2,68.0 266.5,67.6 266.6,67.5 266.9,67.0 267.0,66.8 267.2,66.5 267.5,66.1 267.6,66.0 267.5,65.7 267.3,66.0 267.0,66.3 266.5,66.5 266.5,66.5 266.0,66.7 265.5,66.9 265.4,67.0 265.0,67.3 264.6,67.5 264.5,67.7 264.2,68.0 264.0,68.5 264.5,68.6 265.0,68.6 265.3,68.5 M252.0,90.3 251.5,90.4 251.0,90.2 250.6,90.0 250.5,89.9 250.2,89.5 250.2,89.0 250.3,88.5 250.4,88.0 250.5,87.8 251.0,87.6 251.5,87.8 251.7,88.0 252.0,88.4 252.1,88.5 252.4,89.0 252.5,89.5 252.3,90.0 252.0,90.3 M247.5,91.1 247.3,91.0 247.0,90.9 246.8,90.5 246.6,90.0 246.7,89.5 247.0,89.2 247.4,89.0 247.5,89.0 247.8,89.0 248.0,89.0 248.5,89.3 248.7,89.5 248.7,90.0 248.5,90.3 248.3,90.5 248.0,90.8 247.6,91.0 247.5,91.1 M292.0,97.5 291.5,97.6 291.4,97.5 291.1,97.0 291.1,96.5 291.2,96.0 291.5,95.6 292.0,95.5 292.5,95.7 292.9,96.0 293.0,96.1 293.3,96.5 293.1,97.0 293.0,97.1 292.5,97.3 292.1,97.5 292.0,97.5 M296.8,115.0 297.0,114.9 297.4,114.5 297.4,114.0 297.3,113.5 297.0,113.1 296.9,113.0 296.5,112.7 296.1,112.5 296.0,112.5 295.5,112.4 295.3,112.5 295.0,112.6 294.5,113.0 294.5,113.1 294.3,113.5 294.3,114.0 294.5,114.2 294.8,114.5 295.0,114.6 295.5,114.9 295.9,115.0 296.0,115.0 296.5,115.1 296.8,115.0 M308.0,119.0 307.5,119.3 307.0,119.4 306.5,119.3 306.0,119.1 305.9,119.0 305.6,118.5 305.5,118.0 305.5,117.5 305.7,117.0 306.0,116.6 306.5,116.6 307.0,116.8 307.4,117.0 307.5,117.0 308.0,117.5 308.0,117.5 308.3,118.0 308.4,118.5 308.1,119.0 308.0,119.0 M285.1,169.5 285.2,169.0 285.5,168.6 285.6,168.5 286.0,168.0 286.0,168.0 286.3,167.5 286.0,167.0 286.0,167.0 285.7,166.5 285.5,166.3 285.3,166.0 285.1,165.5 285.0,165.3 284.8,165.0 284.6,164.5 284.5,164.0 284.5,164.0 284.2,163.5 284.4,163.0 284.5,162.5 284.5,162.1 284.5,162.0 284.5,161.5 284.5,161.5 284.0,161.2 283.5,161.5 283.5,161.5 283.2,162.0 283.2,162.5 283.5,163.0 283.5,163.0 284.0,163.5 284.0,163.6 284.5,164.0 284.4,164.5 284.0,165.0 284.0,165.0 283.7,165.5 283.5,165.9 283.5,166.0 283.3,166.5 283.2,167.0 283.1,167.5 283.0,167.6 282.5,168.0 282.3,168.0 282.0,168.0 281.5,168.0 281.5,168.0 281.0,167.8 280.8,167.5 280.8,167.0 280.8,166.5 280.7,166.0 280.5,165.6 280.4,165.5 280.0,165.1 279.7,165.0 279.5,164.9 279.0,164.9 278.5,164.9 278.0,164.9 277.5,164.9 277.0,164.9 276.5,165.0 276.3,165.0 276.0,165.2 275.7,165.5 275.7,166.0 275.7,166.5 275.7,167.0 275.7,167.5 275.5,168.0 275.5,168.1 275.2,168.5 275.0,168.7 274.7,169.0 274.5,169.2 274.1,169.5" fill="none" stroke="#000" stroke-width="0.8" stroke-linejoin="round"/>
<path d="M266.8,22.0 267.0,22.5 267.0,22.6 267.1,23.0 267.3,23.5 267.5,23.7 267.9,24.0 268.0,24.2 268.3,24.5 268.2,25.0 268.0,25.1 267.5,25.4 267.2,25.5 267.0,25.5 266.5,25.7 266.0,25.8 265.6,26.0 265.5,26.1 265.0,26.3 264.8,26.5 264.6,27.0 264.5,27.5 264.5,27.6 264.4,28.0 264.2,28.5 264.0,28.9 263.9,29.0 263.6,29.5 263.5,29.6 263.1,30.0 263.0,30.1 262.5,30.4 262.0,30.4 261.5,30.4 261.0,30.3 260.5,30.0 260.5,30.0 260.3,29.5 260.4,29.0 260.5,28.9 260.7,28.5 261.0,28.0 261.0,28.0 261.4,27.5 261.5,27.4 262.0,27.0 262.0,27.0 262.5,26.7 262.8,26.5 263.0,26.4 263.5,26.1 263.7,26.0 263.9,25.5 264.0,25.2 264.0,25.0 264.1,24.5 264.3,24.0 264.5,23.6 264.5,23.5 264.8,23.0 265.0,22.6 265.0,22.5 265.3,22.0 M257.0,33.5 257.0,33.5 256.5,33.0 256.5,33.0 256.5,32.9 256.8,32.5 257.0,32.5 257.2,32.5 257.5,32.9 257.5,33.0 257.5,33.1 257.0,33.5 257.0,33.5 M265.5,38.2 265.0,38.3 264.7,38.0 264.7,37.5 264.8,37.0 265.0,36.6 265.1,36.5 265.5,36.3 266.0,36.4 266.1,36.5 266.2,37.0 266.1,37.5 266.0,37.6 265.7,38.0 265.5,38.2 M268.0,41.1 267.5,41.0 267.5,41.0 267.4,40.5 267.5,40.3 267.8,40.0 268.0,39.8 268.5,39.7 268.9,40.0 268.8,40.5 268.5,40.8 268.1,41.0 268.0,41.1 M257.5,45.2 257.0,45.2 256.7,45.0 256.5,44.8 256.4,44.5 256.4,44.0 256.5,43.8 257.0,43.6 257.5,43.8 257.8,44.0 258.0,44.3 258.1,44.5 258.0,44.8 257.9,45.0 257.5,45.2 M265.0,46.2 264.5,46.3 264.2,46.0 264.3,45.5 264.5,45.1 264.6,45.0 264.9,44.5 265.0,44.3 265.5,44.4 265.5,44.5 265.6,45.0 265.6,45.5 265.5,45.7 265.3,46.0 265.0,46.2 M262.0,58.6 261.5,58.6 261.2,58.5 261.0,58.4 260.5,58.1 260.4,58.0 260.0,57.6 259.9,57.5 259.5,57.0 259.5,57.0 259.1,56.5 259.0,56.4 258.7,56.0 258.5,55.6 258.5,55.5 258.5,55.0 258.5,54.9 258.8,54.5 259.0,54.3 259.5,54.1 259.7,54.0 260.0,53.9 260.5,53.8 261.0,53.7 261.5,53.6 261.8,53.5 262.0,53.4 262.5,53.2 263.0,53.0 263.1,53.0 263.5,52.8 264.0,52.7 264.3,53.0 264.5,53.2 264.6,53.5 265.0,53.8 265.2,54.0 265.5,54.2 266.0,54.4 266.1,54.5 266.5,54.8 266.7,55.0 266.8,55.5 266.6,56.0 266.5,56.1 266.0,56.0 265.9,56.0 265.5,55.8 265.0,55.6 264.5,55.6 264.1,56.0 264.0,56.1 263.7,56.5 263.5,56.9 263.4,57.0 263.2,57.5 263.0,57.8 262.9,58.0 262.5,58.4 262.3,58.5 262.0,58.6 M269.5,60.8 269.0,60.9 268.5,60.7 268.3,60.5 268.2,60.0 268.3,59.5 268.5,59.0 268.5,59.0 269.0,58.9 269.2,59.0 269.5,59.1 269.9,59.5 270.0,59.8 270.1,60.0 270.0,60.2 269.8,60.5 269.5,60.8 M264.0,66.5 263.5,66.6 263.3,66.5 263.0,66.3 262.8,66.0 262.7,65.5 262.9,65.0 263.0,64.8 263.1,64.5 263.3,64.0 263.1,63.5 263.0,63.4 262.8,63.0 262.8,62.5 263.0,62.1 263.1,62.0 263.5,61.7 264.0,61.5 264.1,61.5 264.5,61.4 265.0,61.3 265.5,61.1 265.8,61.0 266.0,61.0 266.2,61.0 266.5,61.1 266.7,61.5 266.5,61.7 266.1,62.0 266.0,62.1 265.5,62.2 265.0,62.5 265.0,62.5 264.6,63.0 264.7,63.5 265.0,63.6 265.5,63.9 265.6,64.0 266.0,64.4 266.0,64.5 266.1,65.0 266.0,65.2 265.8,65.5 265.5,65.8 265.2,66.0 265.0,66.1 264.5,66.4 264.1,66.5 264.0,66.5 M270.5,66.6 270.0,66.5 270.0,66.5 269.7,66.0 269.7,65.5 269.9,65.0 270.0,64.9 270.5,64.6 271.0,64.6 271.5,64.8 271.7,65.0 271.6,65.5 271.5,65.8 271.4,66.0 271.0,66.4 270.8,66.5 270.5,66.6 M259.5,74.1 259.0,74.2 258.5,74.1 258.4,74.0 258.3,73.5 258.3,73.0 258.5,72.6 258.6,72.5 259.0,72.1 259.2,72.0 259.5,71.9 260.0,71.8 260.5,71.8 261.0,71.9 261.2,72.0 261.4,72.5 261.2,73.0 261.0,73.2 260.6,73.5 260.5,73.6 260.0,73.9 259.7,74.0 259.5,74.1 M291.0,164.6 290.7,164.5 290.5,164.4 290.0,164.0 290.0,164.0 289.7,163.5 289.5,163.0 289.5,162.5 289.7,162.0 289.8,161.5 290.0,161.0 289.7,160.5 289.5,160.5 289.0,160.4 288.5,160.3 288.0,160.1 287.8,160.0 287.5,159.8 287.0,159.7 286.5,159.8 286.0,160.0 285.8,160.0 285.5,160.1 285.0,160.1 284.5,160.0 284.0,160.1 283.5,160.3 283.3,160.5 283.0,160.8 282.8,161.0 282.5,161.4 282.4,161.5 282.1,162.0 282.0,162.2 281.9,162.5 282.0,163.0 282.0,163.1 282.2,163.5 282.3,164.0 282.0,164.4 281.5,164.4 281.0,164.1 280.8,164.0 280.5,163.9 280.0,163.7 279.5,163.7 279.0,163.8 278.5,163.9 278.0,164.0 277.9,164.0 277.5,164.0 277.0,164.1 276.5,164.1 276.0,164.1 275.5,164.2 275.0,164.2 274.5,164.2 274.0,164.0 274.0,164.0 273.5,163.8 273.2,163.5 273.0,163.3 272.8,163.0 272.7,162.5 272.6,162.0 272.6,161.5 272.5,161.0 272.5,161.0 272.0,160.7 271.5,160.6 271.0,160.6 270.5,161.0 270.5,161.0 270.2,161.5 270.0,161.7 269.6,162.0 269.5,162.1 269.0,162.3 268.6,162.5 268.5,162.5 268.0,162.7 267.5,162.7 267.1,162.5 267.0,162.5 266.7,162.0 266.5,161.6 266.5,161.5 266.2,161.0 266.0,160.6 266.0,160.5 265.7,160.0 265.5,159.6 265.5,159.5 265.2,159.0 265.1,158.5 265.2,158.0 265.5,157.6 265.5,157.5 265.6,157.0 265.5,156.5 265.5,156.5 265.1,156.0 265.0,155.9 264.5,155.6 264.3,155.5 264.0,155.0 264.0,154.9 263.8,154.5 263.6,154.0 263.5,153.8 263.3,153.5 263.0,153.2 262.7,153.0 262.5,152.9 262.0,152.7 261.5,152.7 261.0,152.7 260.5,152.9 260.4,153.0 260.0,153.4 259.9,153.5 259.5,153.8 259.2,154.0 259.0,154.2 258.5,154.3 258.0,154.2 257.7,154.0 257.5,153.8 257.2,153.5 257.0,153.2 256.9,153.0 256.7,152.5 256.6,152.0 256.5,151.5 256.5,151.4 256.4,151.0 256.3,150.5 256.3,150.0 256.3,149.5 256.4,149.0 256.5,148.7 256.6,148.5 257.0,148.1 257.4,148.0 257.5,148.0 258.0,147.9 258.3,147.5 258.5,147.0 258.5,146.6 258.5,146.5 258.5,146.5 258.4,146.0 258.1,145.5 258.0,145.3 257.5,145.1 257.0,145.0 256.5,145.2 256.0,145.2 255.8,145.0 255.5,144.6 255.5,144.5 255.5,144.3 255.6,144.0 255.7,143.5 255.8,143.0 255.7,142.5 255.6,142.0 255.5,141.9 255.3,141.5 255.0,141.1 254.9,141.0 254.5,140.7 254.1,140.5 254.0,140.4 253.5,140.1 253.4,140.0 253.0,139.5 253.0,139.4 252.9,139.0 253.0,138.5 253.0,138.4 253.2,138.0 253.5,137.8 254.0,137.6 254.3,137.5 254.5,137.4 254.8,137.0 254.9,136.5 254.8,136.0 254.5,135.5 254.5,135.5 254.1,135.0 254.0,134.9 253.7,134.5 253.5,134.2 253.3,134.0 253.0,133.6 252.9,133.5 252.5,133.2 252.2,133.0 252.0,132.9 251.5,132.5 251.5,132.4 251.3,132.0 251.3,131.5 251.5,131.0 251.5,130.9 252.0,130.5 252.0,130.5 252.5,130.1 252.6,130.0 252.5,129.8 252.4,129.5 252.2,129.0 252.0,128.5 252.0,128.0 252.1,127.5 252.3,127.0 252.5,126.5 252.5,126.5 252.9,126.0 253.0,125.9 253.4,125.5 253.5,125.0 253.5,124.5 253.5,124.5 253.6,124.0 253.7,123.5 254.0,123.0 254.0,123.0 254.3,122.5 254.3,122.0 254.0,121.6 254.0,121.5 253.6,121.0 253.5,120.9 253.2,120.5 253.0,120.2 252.8,120.0 252.5,119.8 252.0,119.6 251.5,119.5 251.4,119.5 251.0,119.3 250.5,119.1 250.4,119.0 250.0,118.5 250.0,118.5 250.0,118.0 250.0,118.0 250.4,117.5 250.5,117.4 251.0,117.3 251.5,117.2 252.0,117.1 252.5,117.0 252.5,117.0 253.0,116.6 253.1,116.5 253.1,116.0 253.0,115.9 252.7,115.5 252.5,115.3 252.1,115.0 252.0,114.9 251.5,114.5 251.5,114.5 251.0,114.0 251.0,113.9 250.7,113.5 250.5,113.1 250.4,113.0 250.3,112.5 250.5,112.0 250.5,112.0 250.7,111.5 250.9,111.0 250.9,110.5 250.7,110.0 250.5,109.7 250.3,109.5 250.0,109.2 249.8,109.0 249.6,108.5 249.8,108.0 250.0,107.7 250.1,107.5 250.5,107.0 250.5,106.9 250.7,106.5 251.0,106.0 251.0,105.9 251.3,105.5 251.5,105.2 251.7,105.0 252.0,104.8 252.2,104.5 252.5,104.2 252.6,104.0 253.0,103.7 253.3,103.5 253.5,103.4 254.0,103.3 254.4,103.0 254.5,102.9 254.6,102.5 254.7,102.0 254.6,101.5 254.5,101.4 254.3,101.0 254.1,100.5 254.0,100.1 254.0,100.0 253.8,99.5 253.7,99.0 253.5,98.8 253.0,98.5 252.9,98.5 252.5,98.5 252.0,98.5 251.5,98.4 251.0,98.2 250.7,98.0 250.5,97.8 250.2,97.5 250.0,97.1 250.0,97.0 249.9,96.5 249.9,96.0 250.0,95.6 250.0,95.5 250.5,95.0 250.7,95.0 251.0,95.0 251.5,94.9 252.0,94.8 252.5,94.6 252.6,94.5 253.0,94.1 253.1,94.0 253.5,93.6 253.7,93.5 254.0,93.3 254.5,93.1 254.7,93.0 255.0,92.9 255.5,92.5 255.5,92.5 255.6,92.0 255.6,91.5 255.5,91.3 255.3,91.0 255.1,90.5 255.0,90.2 254.9,90.0 254.8,89.5 254.9,89.0 255.0,88.7 255.2,88.5 255.5,88.3 255.8,88.0 256.0,87.9 256.3,87.5 256.5,87.1 256.6,87.0 256.9,86.5 257.0,86.4 257.4,86.0 257.5,85.9 257.9,85.5 258.0,85.4 258.1,85.0 258.2,84.5 258.2,84.0 258.0,83.6 258.0,83.5 257.5,83.0 257.5,83.0 257.0,82.6 256.9,82.5 256.5,82.0 256.5,82.0 256.2,81.5 256.2,81.0 256.5,80.7 256.6,80.5 257.0,80.1 257.0,80.0 257.4,79.5 257.5,79.4 257.8,79.0 258.0,78.8 258.3,78.5 258.5,78.3 259.0,78.0 259.0,78.0 259.5,77.8 260.0,77.9 260.2,78.0 260.3,78.5 260.4,79.0 260.5,79.2 260.7,79.5 260.8,80.0 260.9,80.5 260.9,81.0 261.0,81.5 260.9,82.0 260.9,82.5 260.8,83.0 261.0,83.4 261.1,83.5 261.5,83.6 262.0,83.5 262.0,83.3 262.0,83.0 262.1,82.5 262.5,82.0 262.5,82.0 263.0,81.9 263.1,82.0 263.5,82.1 264.0,82.3 264.5,82.3 265.0,82.3 265.5,82.2 266.0,82.0 266.1,82.0 266.5,81.5 266.5,81.5 266.5,81.4 266.0,81.0 265.9,81.0 265.5,80.9 265.0,80.8 264.5,80.6 264.2,80.5 264.0,80.4 263.5,80.1 263.4,80.0 263.5,79.8 263.6,79.5 264.0,79.2 264.2,79.0 264.5,78.7 264.6,78.5 265.0,78.1 265.1,78.0 265.5,77.8 266.0,77.8 266.4,78.0 266.5,78.0 267.0,78.4 267.1,78.5 267.5,79.0 267.5,79.0 267.8,79.5 268.0,79.8 268.3,80.0 268.5,80.0 268.6,80.0 269.0,79.8 269.3,79.5 269.5,79.3 269.7,79.0 270.0,78.6 270.1,78.5 270.5,78.2 271.0,78.1 271.5,78.4 271.6,78.5 271.6,79.0 271.5,79.1 271.2,79.5 271.0,79.8 270.8,80.0 270.6,80.5 270.6,81.0 270.7,81.5 270.8,82.0 271.0,82.4 271.1,82.5 271.5,82.8 272.0,83.0 272.5,82.7 272.6,82.5 272.8,82.0 273.0,81.5 273.0,81.5 273.2,81.0 273.5,80.5 273.5,80.5 273.8,80.0 274.0,79.7 274.3,79.5 274.5,79.3 275.0,79.1 275.4,79.0 275.5,79.0 276.0,78.9 276.5,78.8 277.0,78.9 277.1,79.0 277.3,79.5 277.4,80.0 277.3,80.5 277.4,81.0 277.4,81.5 277.4,82.0 277.4,82.5 277.5,82.9 277.6,83.0 277.9,83.5 278.0,83.6 278.5,83.9 278.6,84.0 279.0,84.3 279.1,84.5 279.5,85.0 279.5,85.0 279.8,85.5 280.0,85.7 280.2,86.0 280.5,86.3 280.7,86.5 281.0,86.7 281.3,87.0 281.5,87.2 281.8,87.5 282.0,87.9 282.1,88.0 282.2,88.5 282.2,89.0 282.2,89.5 282.2,90.0 282.5,90.5 282.5,90.5 283.0,90.9 283.3,91.0 283.5,91.1 284.0,91.4 284.1,91.5 284.5,92.0 284.5,92.0 284.7,92.5 284.8,93.0 284.7,93.5 284.5,94.0 284.5,94.1 284.4,94.5 284.3,95.0 284.3,95.5 284.3,96.0 284.4,96.5 284.4,97.0 284.3,97.5 284.2,98.0 284.0,98.5 284.0,98.7 284.0,99.0 284.0,99.3 284.0,99.5 284.3,100.0 284.5,100.3 284.7,100.5 284.9,101.0 284.9,101.5 284.9,102.0 284.9,102.5 285.0,103.0 285.0,103.1 285.5,103.5 286.0,103.4 286.5,103.1 286.7,103.0 287.0,102.7 287.2,102.5 287.5,102.1 287.6,102.0 287.9,101.5 288.0,101.4 288.5,101.3 288.9,101.5 289.0,101.5 289.5,101.9 289.6,102.0 290.0,102.4 290.1,102.5 290.5,102.9 290.7,103.0 291.0,103.2 291.4,103.5 291.5,103.6 292.0,104.0 292.0,104.1 292.3,104.5 292.5,104.9 292.5,105.0 292.7,105.5 292.7,106.0 292.5,106.4 292.3,106.5 292.0,106.6 291.5,106.7 291.0,106.9 290.9,107.0 290.5,107.5 290.5,107.5 290.3,108.0 290.2,108.5 290.3,109.0 290.5,109.5 290.6,109.5 291.0,109.6 291.2,109.5 291.5,109.4 292.0,109.3 292.5,109.2 293.0,109.2 293.5,109.3 294.0,109.4 294.2,109.5 294.5,109.6 295.0,109.9 295.5,110.0 295.5,110.0 296.0,110.1 296.5,110.1 297.0,110.2 297.5,110.5 297.5,110.5 298.0,111.0 298.0,111.1 298.2,111.5 298.5,112.0 298.5,112.0 299.0,112.2 299.5,112.3 300.0,112.4 300.1,112.5 300.5,113.0 300.5,113.0 300.6,113.5 300.7,114.0 300.7,114.5 300.7,115.0 300.7,115.5 300.7,116.0 301.0,116.5 301.0,116.5 301.4,117.0 301.5,117.2 301.7,117.5 302.0,118.0 302.0,118.0 302.2,118.5 302.3,119.0 302.2,119.5 302.0,120.0 302.0,120.1 301.8,120.5 301.7,121.0 301.9,121.5 302.0,121.6 302.3,122.0 302.5,122.2 302.8,122.5 303.0,122.7 303.3,123.0 303.5,123.2 304.0,123.4 304.2,123.5 304.5,123.6 305.0,123.8 305.5,123.9 306.0,124.0 306.0,124.0 306.0,124.2 306.0,124.5 305.6,125.0 305.5,125.1 305.3,125.5 305.1,126.0 305.2,126.5 305.5,126.9 305.6,127.0 306.0,127.3 306.2,127.5 306.0,128.0 306.0,128.0 305.5,128.2 305.1,128.5 305.0,128.6 304.7,129.0 304.6,129.5 304.7,130.0 304.8,130.5 304.9,131.0 304.9,131.5 304.9,132.0 304.8,132.5 304.7,133.0 304.7,133.5 304.7,134.0 304.8,134.5 305.0,134.8 305.1,135.0 305.5,135.4 305.8,135.5 306.0,135.6 306.5,135.8 306.9,136.0 307.0,136.1 307.3,136.5 307.3,137.0 307.2,137.5 307.1,138.0 307.0,138.4 306.9,138.5 306.5,139.0 306.4,139.0 306.0,139.2 305.8,139.5 305.7,140.0 305.8,140.5 305.9,141.0 305.9,141.5 306.0,141.8 306.1,142.0 306.5,142.5 306.6,142.5 307.0,142.9 307.1,143.0 307.1,143.5 307.0,143.6 306.7,144.0 306.5,144.2 306.3,144.5 306.1,145.0 306.0,145.2 305.9,145.5 305.5,146.0 305.5,146.0 305.0,146.5 305.0,146.5 304.6,147.0 304.5,147.2 304.4,147.5 304.3,148.0 304.2,148.5 304.2,149.0 304.0,149.4 304.0,149.5 303.5,150.0 303.5,150.0 303.0,150.5 303.0,150.5 302.9,151.0 303.0,151.2 303.1,151.5 303.5,152.0 303.5,152.0 304.0,152.4 304.1,152.5 304.5,152.8 304.7,153.0 305.0,153.2 305.4,153.5 305.5,153.6 305.8,154.0 305.8,154.5 305.5,154.6 305.0,154.6 304.5,154.6 304.1,154.5 304.0,154.5 303.5,154.4 303.0,154.4 302.5,154.5 302.2,154.5 302.0,154.5 301.5,154.7 301.0,154.8 300.5,154.8 300.0,154.8 299.5,154.9 299.4,155.0 299.2,155.5 299.3,156.0 299.3,156.5 299.3,157.0 299.3,157.5 299.5,158.0 299.5,158.0 300.0,158.5 300.1,158.5 300.5,158.8 300.8,159.0 300.8,159.5 300.5,159.8 300.4,160.0 300.0,160.3 299.8,160.5 299.5,160.7 299.0,160.8 298.5,160.8 298.0,160.7 297.6,160.5 297.5,160.4 297.0,160.1 296.9,160.0 296.5,159.6 296.4,159.5 296.1,159.0 296.0,158.9 295.7,158.5 295.5,158.3 295.0,158.0 295.0,158.0 294.5,157.9 294.0,157.9 293.7,158.0 293.5,158.0 293.0,158.3 292.5,158.5 292.5,158.5 292.0,158.8 291.7,159.0 291.5,159.2 291.1,159.5 291.0,159.8 290.8,160.0 291.0,160.1 291.5,160.3 292.0,160.3 292.5,160.3 293.0,160.3 293.5,160.3 294.0,160.3 294.3,160.5 294.5,160.7 294.7,161.0 295.0,161.5 295.0,161.5 295.2,162.0 295.3,162.5 295.3,163.0 295.2,163.5 295.0,163.9 294.9,164.0 294.5,164.3 294.0,164.4 293.5,164.3 293.0,164.2 292.5,164.2 292.0,164.2 291.5,164.5 291.5,164.5 291.0,164.6 M254.4,107.0 254.5,106.9 254.7,106.5 254.7,106.0 254.5,105.5 254.5,105.5 254.0,105.1 253.5,105.2 253.0,105.3 252.7,105.5 252.5,105.6 252.2,106.0 252.3,106.5 252.5,106.9 252.6,107.0 253.0,107.2 253.5,107.3 254.0,107.2 254.4,107.0 M297.4,115.5 297.5,115.5 298.0,115.1 298.1,115.0 298.3,114.5 298.3,114.0 298.2,113.5 298.1,113.0 298.0,112.7 297.9,112.5 297.5,112.3 297.0,112.1 296.8,112.0 296.5,111.9 296.0,111.7 295.5,111.7 295.0,111.7 294.5,112.0 294.5,112.0 294.0,112.4 293.9,112.5 293.5,112.9 293.4,113.0 293.0,113.4 292.9,113.5 292.8,114.0 293.0,114.2 293.3,114.5 293.5,114.6 294.0,114.8 294.5,115.0 294.5,115.0 295.0,115.2 295.5,115.4 295.8,115.5 296.0,115.5 296.5,115.6 297.0,115.6 297.4,115.5 M263.0,158.0 262.5,158.0 262.0,158.0 262.0,158.0 261.5,157.8 261.2,157.5 261.0,157.2 260.9,157.0 260.9,156.5 261.0,156.3 261.3,156.0 261.5,155.9 262.0,155.7 262.5,155.5 263.0,155.5 263.5,155.6 264.0,155.9 264.0,156.0 264.2,156.5 264.2,157.0 264.1,157.5 264.0,157.6 263.5,157.9 263.1,158.0 263.0,158.0 M279.5,160.0 280.0,159.8 280.2,159.5 280.4,159.0 280.5,158.5 280.5,158.5 280.5,158.5 280.0,158.2 279.5,158.4 279.4,158.5 279.0,159.0 279.0,159.2 279.0,159.5 279.0,159.6 279.5,160.0 279.5,160.0 279.5,160.0 M287.5,165.1 287.0,165.4 286.5,165.2 286.3,165.0 286.1,164.5 286.0,164.3 285.9,164.0 285.7,163.5 285.6,163.0 285.5,162.6 285.5,162.5 285.5,162.4 285.6,162.0 286.0,161.5 286.2,161.5 286.5,161.4 286.8,161.5 287.0,161.6 287.5,161.9 287.6,162.0 288.0,162.5 288.0,162.6 288.1,163.0 288.2,163.5 288.1,164.0 288.0,164.3 287.9,164.5 287.6,165.0 287.5,165.1" fill="none" stroke="#000" stroke-width="0.95" stroke-linejoin="round"/>
<path d="M276.5,163.1 276.0,163.2 275.5,163.2 275.0,163.2 274.5,163.1 274.3,163.0 274.0,162.7 273.9,162.5 273.8,162.0 273.8,161.5 274.0,161.0 274.0,160.9 274.2,160.5 274.2,160.0 274.0,159.7 273.9,159.5 273.5,159.0 273.5,159.0 273.0,158.6 272.5,158.6 272.0,158.9 271.6,159.0 271.5,159.0 271.0,159.0 271.0,159.0 270.5,158.9 270.3,159.0 270.0,159.1 269.7,159.5 269.5,159.9 269.5,160.0 269.3,160.5 269.1,161.0 269.0,161.1 268.5,161.4 268.0,161.5 267.5,161.2 267.3,161.0 267.0,160.6 266.9,160.5 266.7,160.0 266.5,159.5 266.5,159.5 266.5,159.0 266.5,158.8 266.6,158.5 266.8,158.0 266.9,157.5 267.0,157.0 267.0,157.0 267.0,157.0 266.9,156.5 266.7,156.0 266.5,155.8 266.3,155.5 266.0,155.2 265.8,155.0 265.5,154.8 265.2,154.5 265.0,154.4 264.7,154.0 264.5,153.8 264.2,153.5 264.0,153.2 263.8,153.0 263.5,152.7 263.2,152.5 263.0,152.4 262.5,152.1 262.2,152.0 262.0,151.9 261.5,151.6 261.4,151.5 261.0,151.0 261.0,151.0 260.8,150.5 260.8,150.0 260.8,149.5 260.6,149.0 260.5,148.8 260.3,148.5 260.0,148.2 259.8,148.0 259.5,147.6 259.4,147.5 259.2,147.0 259.1,146.5 259.0,146.0 259.0,145.9 258.9,145.5 258.7,145.0 258.5,144.6 258.4,144.5 258.0,144.0 258.0,144.0 257.5,143.5 257.5,143.5 257.2,143.0 257.0,142.7 256.9,142.5 256.6,142.0 256.5,141.7 256.4,141.5 256.2,141.0 256.0,140.5 256.0,140.2 256.0,140.0 256.0,139.9 256.1,139.5 256.5,139.1 256.6,139.0 257.0,138.5 257.0,138.2 257.0,138.0 257.0,137.9 256.8,137.5 256.5,137.1 256.4,137.0 256.2,136.5 256.1,136.0 256.0,135.8 255.9,135.5 255.6,135.0 255.5,134.8 255.3,134.5 255.0,134.2 254.9,134.0 254.7,133.5 254.6,133.0 254.5,132.5 254.5,132.0 254.6,131.5 254.9,131.0 255.0,130.8 255.2,130.5 255.5,130.0 255.5,130.0 256.0,129.5 256.0,129.5 256.5,129.1 256.7,129.0 257.0,128.7 257.2,128.5 257.5,128.0 257.5,128.0 257.5,127.5 257.5,127.5 257.3,127.0 257.0,126.7 256.7,126.5 256.5,126.3 256.0,126.0 256.0,126.0 255.6,125.5 255.5,125.4 255.2,125.0 255.0,124.6 255.0,124.5 255.0,124.0 255.0,124.0 255.3,123.5 255.5,123.4 256.0,123.2 256.5,123.0 256.6,123.0 257.0,122.8 257.5,122.5 257.5,122.5 257.8,122.0 257.8,121.5 257.7,121.0 257.5,120.7 257.1,120.5 257.0,120.4 256.5,120.3 256.0,120.2 255.6,120.0 255.5,119.8 255.4,119.5 255.5,119.0 255.5,118.9 255.6,118.5 255.7,118.0 255.7,117.5 255.7,117.0 255.6,116.5 255.5,116.0 255.5,116.0 255.4,115.5 255.2,115.0 255.0,114.5 255.0,114.5 254.5,114.2 254.0,114.1 253.5,114.0 253.5,114.0 253.0,113.8 252.7,113.5 252.5,113.2 252.4,113.0 252.4,112.5 252.5,112.1 252.5,112.0 252.6,111.5 252.7,111.0 252.6,110.5 252.6,110.0 252.6,109.5 252.9,109.0 253.0,108.9 253.5,108.8 254.0,108.7 254.4,108.5 254.5,108.5 255.0,108.3 255.5,108.0 256.0,108.2 256.2,108.5 256.0,109.0 256.0,109.0 255.7,109.5 255.5,109.9 255.5,110.0 255.5,110.2 255.6,110.5 256.0,110.9 256.5,110.6 256.5,110.5 256.6,110.0 256.6,109.5 256.6,109.0 256.9,108.5 257.0,108.4 257.2,108.0 257.3,107.5 257.1,107.0 257.0,106.9 256.5,106.7 256.3,106.5 256.0,106.2 255.9,106.0 255.7,105.5 255.5,105.1 255.5,105.0 255.3,104.5 255.4,104.0 255.5,103.5 255.5,103.5 255.6,103.0 255.7,102.5 255.7,102.0 255.6,101.5 255.5,101.4 255.3,101.0 255.0,100.5 255.0,100.4 254.9,100.0 254.8,99.5 254.8,99.0 255.0,98.5 255.0,98.5 255.4,98.0 255.5,97.9 256.0,97.8 256.5,97.7 257.0,97.5 257.0,97.5 257.5,97.0 257.5,96.7 257.5,96.5 257.5,96.5 257.1,96.0 257.0,95.9 256.5,95.7 256.0,95.6 255.5,95.6 255.0,95.8 254.6,96.0 254.5,96.1 254.0,96.4 253.7,96.5 253.5,96.6 253.0,96.5 253.0,96.5 252.8,96.0 253.0,95.8 253.2,95.5 253.5,95.2 253.7,95.0 254.0,94.7 254.2,94.5 254.5,94.3 254.9,94.0 255.0,94.0 255.5,93.7 255.7,93.5 256.0,93.2 256.2,93.0 256.4,92.5 256.5,92.1 256.5,92.0 256.5,91.5 256.5,91.0 256.5,90.5 256.7,90.0 257.0,89.6 257.1,89.5 257.5,89.1 257.9,89.0 258.0,89.0 258.5,89.0 258.8,89.0 259.0,89.0 259.1,89.0 259.5,88.8 259.9,88.5 260.0,88.3 260.3,88.0 260.4,87.5 260.3,87.0 260.3,86.5 260.2,86.0 260.2,85.5 260.5,85.1 261.0,85.0 261.5,85.0 262.0,85.0 262.5,85.1 263.0,85.1 263.5,85.3 264.0,85.4 264.5,85.5 264.5,85.5 264.5,85.5 265.0,85.1 265.0,85.0 265.0,84.6 265.0,84.5 265.0,84.5 265.1,84.0 265.5,83.6 265.6,83.5 266.0,83.3 266.5,83.0 266.5,83.0 267.0,82.6 267.2,82.5 267.5,82.3 267.9,82.0 268.0,81.9 268.5,81.7 269.0,81.6 269.5,81.8 269.6,82.0 270.0,82.5 270.0,82.6 270.2,83.0 270.5,83.5 270.5,83.5 271.0,83.8 271.5,83.9 271.9,84.0 272.0,84.0 272.5,84.2 273.0,84.4 273.1,84.5 273.5,84.8 273.9,85.0 274.0,85.1 274.5,85.3 274.9,85.5 275.0,85.5 275.5,85.6 275.9,85.5 276.0,85.5 276.5,85.2 277.0,85.2 277.5,85.2 278.0,85.4 278.1,85.5 278.5,85.7 278.9,86.0 279.0,86.1 279.4,86.5 279.5,86.7 279.8,87.0 280.0,87.4 280.1,87.5 280.2,88.0 280.0,88.2 279.5,88.4 279.3,88.5 279.0,88.6 278.5,88.9 278.3,89.0 278.0,89.3 277.9,89.5 277.7,90.0 277.7,90.5 277.8,91.0 277.9,91.5 278.0,92.0 278.0,92.1 278.2,92.5 278.5,92.7 279.0,92.6 279.1,92.5 279.5,92.1 279.7,92.0 280.0,91.8 280.5,91.7 281.0,91.8 281.5,92.0 281.5,92.0 282.0,92.3 282.2,92.5 282.5,92.7 282.8,93.0 283.0,93.3 283.2,93.5 283.3,94.0 283.2,94.5 283.1,95.0 283.0,95.4 283.0,95.5 282.9,96.0 283.0,96.2 283.1,96.5 283.1,97.0 283.2,97.5 283.1,98.0 283.0,98.5 283.0,98.9 283.0,99.0 283.0,99.1 283.1,99.5 283.2,100.0 283.5,100.5 283.5,100.6 283.7,101.0 283.9,101.5 283.9,102.0 283.9,102.5 283.9,103.0 284.0,103.2 284.1,103.5 284.4,104.0 284.5,104.2 284.8,104.5 285.0,104.8 285.3,105.0 285.5,105.2 286.0,105.3 286.5,105.2 287.0,105.3 287.1,105.5 287.5,105.8 287.8,106.0 288.0,106.1 288.5,106.3 289.0,106.5 289.0,106.5 289.3,107.0 289.3,107.5 289.3,108.0 289.2,108.5 289.2,109.0 289.1,109.5 289.1,110.0 289.2,110.5 289.3,111.0 289.5,111.3 289.6,111.5 289.9,112.0 290.0,112.2 290.3,112.5 290.5,112.8 290.7,113.0 291.0,113.4 291.1,113.5 291.5,114.0 291.5,114.0 291.8,114.5 292.0,114.7 292.3,115.0 292.5,115.1 293.0,115.3 293.5,115.5 293.6,115.5 294.0,115.6 294.5,115.8 295.0,115.9 295.2,116.0 295.5,116.1 296.0,116.2 296.5,116.4 297.0,116.5 297.0,116.5 297.5,116.7 298.0,116.9 298.1,117.0 298.5,117.5 298.5,117.5 299.0,117.8 299.5,117.8 300.0,117.9 300.3,118.0 300.5,118.1 300.9,118.5 301.0,118.9 301.0,119.0 301.0,119.5 301.0,119.5 300.8,120.0 300.5,120.4 300.3,120.5 300.0,120.6 299.5,120.7 299.0,120.7 298.5,120.9 298.5,121.0 298.3,121.5 298.3,122.0 298.5,122.4 298.6,122.5 299.0,122.8 299.3,123.0 299.5,123.1 300.0,123.2 300.5,123.2 301.0,123.3 301.5,123.5 301.5,123.5 302.0,124.0 302.0,124.0 302.4,124.5 302.5,124.6 303.0,125.0 303.0,125.0 303.2,125.5 303.3,126.0 303.5,126.5 303.5,126.6 303.6,127.0 303.7,127.5 303.7,128.0 303.7,128.5 303.7,129.0 303.8,129.5 303.9,130.0 304.0,130.3 304.1,130.5 304.2,131.0 304.2,131.5 304.2,132.0 304.2,132.5 304.1,133.0 304.0,133.5 304.1,134.0 304.1,134.5 304.2,135.0 304.4,135.5 304.5,135.7 304.7,136.0 305.0,136.3 305.2,136.5 305.4,137.0 305.3,137.5 305.0,138.0 305.0,138.0 304.6,138.5 304.5,138.7 304.4,139.0 304.3,139.5 304.3,140.0 304.3,140.5 304.0,140.9 303.9,141.0 303.5,141.2 303.0,141.3 302.5,141.3 302.0,141.3 301.5,141.3 301.2,141.5 301.1,142.0 301.3,142.5 301.5,142.9 301.6,143.0 302.0,143.3 302.3,143.5 302.5,143.6 303.0,143.9 303.1,144.0 303.5,144.5 303.5,144.5 303.7,145.0 303.6,145.5 303.5,145.9 303.5,146.0 303.2,146.5 303.0,146.8 302.8,147.0 302.5,147.4 302.4,147.5 302.0,147.7 301.7,147.5 301.5,147.3 301.4,147.0 301.0,146.5 301.0,146.5 300.5,146.2 300.0,146.2 299.5,146.4 299.3,146.5 299.0,146.8 298.9,147.0 298.8,147.5 299.0,148.0 299.0,148.1 299.2,148.5 299.4,149.0 299.5,149.5 299.5,149.5 299.6,150.0 299.7,150.5 299.8,151.0 300.0,151.5 300.0,151.7 300.1,152.0 300.0,152.2 299.9,152.5 299.5,152.8 299.4,153.0 299.0,153.2 298.5,153.4 298.4,153.5 298.0,153.7 297.6,154.0 297.5,154.2 297.3,154.5 297.4,155.0 297.5,155.1 297.7,155.5 297.9,156.0 298.0,156.4 298.0,156.5 298.0,156.6 297.9,157.0 297.5,157.5 297.5,157.5 297.4,157.5 297.0,157.5 296.5,157.2 296.2,157.0 296.0,156.7 295.8,156.5 295.5,156.0 295.5,156.0 295.0,155.7 294.5,155.9 294.3,156.0 294.0,156.3 293.8,156.5 293.5,156.7 293.2,157.0 293.0,157.2 292.5,157.5 292.5,157.5 292.0,157.7 291.5,157.9 291.1,158.0 291.0,158.0 290.5,158.1 290.0,158.0 289.6,158.0 289.5,158.0 289.0,157.8 288.5,157.6 288.2,157.5 288.0,157.5 287.5,157.5 287.1,157.5 287.0,157.5 286.5,157.6 286.3,157.5 286.0,157.5 285.5,157.0 285.5,157.0 285.1,156.5 285.0,156.4 284.5,156.0 284.5,156.0 284.0,155.7 283.5,155.7 283.0,155.8 282.6,156.0 282.5,156.0 282.0,156.3 281.5,156.4 281.0,156.4 280.9,156.5 280.5,156.6 280.0,156.8 279.7,157.0 279.5,157.1 279.0,157.3 278.7,157.5 278.5,157.7 278.1,158.0 278.0,158.1 277.5,158.5 277.5,158.5 277.0,158.9 276.8,159.0 276.5,159.2 276.1,159.5 276.0,159.6 275.6,160.0 275.8,160.5 276.0,160.7 276.4,161.0 276.5,161.1 277.0,161.3 277.5,161.4 278.0,161.4 278.2,161.5 278.5,161.8 278.6,162.0 278.5,162.2 278.3,162.5 278.0,162.6 277.5,162.8 277.0,162.9 276.8,163.0 276.5,163.1 M281.2,103.5 281.5,103.2 281.7,103.0 281.8,102.5 281.7,102.0 281.5,101.7 281.3,101.5 281.0,101.3 280.5,101.1 280.0,101.3 279.8,101.5 279.7,102.0 279.7,102.5 279.8,103.0 280.0,103.3 280.3,103.5 280.5,103.6 281.0,103.6 281.2,103.5 M272.9,156.5 273.0,156.3 273.1,156.0 273.0,155.5 273.0,155.4 272.5,155.0 272.0,155.0 271.5,155.4 271.4,155.5 271.3,156.0 271.5,156.5 271.5,156.6 272.0,156.9 272.5,157.0 272.9,156.5" fill="none" stroke="#000" stroke-width="1.05" stroke-linejoin="round"/>
<path d="M276.0,158.1 275.5,158.2 275.0,158.2 274.8,158.0 274.6,157.5 274.6,157.0 274.7,156.5 274.8,156.0 274.8,155.5 274.6,155.0 274.5,154.7 274.4,154.5 274.0,154.2 273.7,154.0 273.5,153.9 273.0,153.7 272.5,153.6 272.1,153.5 272.0,153.5 271.5,153.4 271.0,153.3 270.5,153.4 270.0,153.5 269.9,153.5 269.5,153.7 269.0,153.9 268.8,154.0 268.5,154.2 268.0,154.3 267.5,154.2 267.2,154.0 267.0,153.9 266.5,153.5 266.4,153.5 266.0,153.2 265.7,153.0 265.5,152.9 265.0,152.5 265.0,152.5 264.5,152.2 264.3,152.0 264.0,151.9 263.5,151.6 263.3,151.5 263.0,151.3 262.6,151.0 262.5,150.8 262.3,150.5 262.1,150.0 262.0,149.8 261.9,149.5 261.7,149.0 261.5,148.6 261.5,148.5 261.1,148.0 261.0,147.9 260.7,147.5 260.5,147.3 260.2,147.0 260.0,146.6 260.0,146.5 259.9,146.0 259.9,145.5 260.0,145.0 260.0,145.0 260.5,144.6 260.7,144.5 261.0,144.4 261.5,144.1 261.6,144.0 262.0,143.5 262.0,143.3 262.1,143.0 262.0,142.6 262.0,142.5 261.6,142.0 261.5,141.9 261.2,141.5 261.0,141.0 261.0,141.0 260.7,140.5 260.5,140.2 260.0,140.1 259.7,140.5 259.5,141.0 259.5,141.1 259.4,141.5 259.0,142.0 259.0,142.0 258.5,142.1 258.3,142.0 258.0,141.8 257.8,141.5 257.6,141.0 257.5,140.5 257.8,140.0 258.0,139.7 258.2,139.5 258.5,139.0 258.5,138.9 258.6,138.5 258.7,138.0 258.8,137.5 258.8,137.0 258.6,136.5 258.5,136.3 258.2,136.0 258.0,135.5 258.0,135.5 257.9,135.0 257.9,134.5 258.0,134.0 258.0,134.0 258.1,133.5 258.3,133.0 258.5,132.7 259.0,132.8 259.5,132.7 260.0,132.5 260.0,132.5 260.4,132.0 260.5,131.9 260.7,131.5 260.8,131.0 260.7,130.5 260.5,130.1 260.5,130.0 260.1,129.5 260.0,129.4 259.5,129.0 259.5,129.0 259.0,128.6 258.9,128.5 258.6,128.0 258.5,127.6 258.5,127.5 258.3,127.0 258.1,126.5 258.0,126.3 257.8,126.0 257.5,125.5 257.5,125.4 257.3,125.0 257.3,124.5 257.5,124.3 257.7,124.0 258.0,123.8 258.5,123.5 258.5,123.5 259.0,123.1 259.1,123.0 259.3,122.5 259.3,122.0 259.3,121.5 259.2,121.0 259.2,120.5 259.2,120.0 259.0,119.5 259.0,119.5 258.5,119.1 258.1,119.0 258.0,119.0 257.5,118.7 257.3,118.5 257.1,118.0 257.0,117.5 257.1,117.0 257.2,116.5 257.4,116.0 257.5,115.9 258.0,115.7 258.5,115.6 258.7,115.5 259.0,115.4 259.4,115.0 259.4,114.5 259.2,114.0 259.0,113.5 259.0,113.4 258.9,113.0 258.7,112.5 258.5,112.0 258.5,111.9 258.4,111.5 258.3,111.0 258.2,110.5 258.1,110.0 258.2,109.5 258.3,109.0 258.5,108.5 258.5,108.5 258.7,108.0 258.9,107.5 259.0,107.3 259.2,107.0 259.5,106.7 259.9,106.5 260.0,106.5 260.5,106.3 261.0,106.0 261.0,106.0 261.0,105.7 261.0,105.5 260.8,105.0 260.7,104.5 260.5,104.0 260.5,104.0 260.3,103.5 260.2,103.0 260.0,102.5 260.0,102.5 259.9,102.0 259.8,101.5 259.8,101.0 260.0,100.7 260.1,100.5 260.4,100.0 260.5,99.8 260.6,99.5 260.6,99.0 260.5,98.7 260.4,98.5 260.1,98.0 260.0,97.9 259.8,97.5 259.7,97.0 259.8,96.5 259.8,96.0 260.0,95.5 260.0,95.5 260.3,95.0 260.5,94.9 260.9,94.5 261.0,94.4 261.5,94.0 261.6,94.0 262.0,93.6 262.3,93.5 262.5,93.2 262.6,93.0 262.5,92.9 262.0,92.8 261.5,92.5 261.5,92.5 261.0,92.0 261.0,92.0 260.8,91.5 260.8,91.0 261.0,90.8 261.2,90.5 261.5,90.3 262.0,90.1 262.5,90.1 263.0,90.1 263.5,90.2 264.0,90.4 264.2,90.5 264.5,90.6 265.0,90.5 265.1,90.5 265.5,90.3 266.0,90.1 266.1,90.0 266.3,89.5 266.0,89.2 265.6,89.0 265.5,89.0 265.1,88.5 265.1,88.0 265.5,87.5 265.5,87.5 266.0,87.1 266.1,87.0 266.5,86.7 266.7,86.5 267.0,86.2 267.2,86.0 267.5,85.8 268.0,85.6 268.5,85.7 268.8,86.0 269.0,86.2 269.5,86.5 269.5,86.5 270.0,86.5 270.1,86.5 270.4,86.0 270.5,85.9 270.7,85.5 271.0,85.3 271.5,85.2 272.0,85.2 272.5,85.3 272.8,85.5 273.0,85.6 273.5,86.0 273.5,86.0 274.0,86.4 274.1,86.5 274.5,86.8 274.8,87.0 275.0,87.2 275.4,87.5 275.5,87.7 275.7,88.0 275.7,88.5 275.7,89.0 275.7,89.5 275.8,90.0 276.0,90.5 276.0,90.5 276.1,91.0 276.1,91.5 276.0,91.6 275.5,91.8 275.0,91.6 274.7,91.5 274.5,91.4 274.0,91.4 273.5,91.4 273.0,91.4 272.8,91.5 272.5,91.8 272.4,92.0 272.5,92.5 272.5,92.6 272.8,93.0 273.0,93.2 273.5,93.4 273.8,93.5 274.0,93.6 274.5,93.7 275.0,93.9 275.2,94.0 275.5,94.2 276.0,94.5 276.0,94.5 276.5,94.6 277.0,94.7 277.5,94.7 278.0,94.8 278.5,95.0 278.6,95.0 278.9,95.5 278.8,96.0 278.5,96.5 278.5,96.5 278.0,96.9 277.7,97.0 277.5,97.1 277.0,97.3 276.8,97.5 276.7,98.0 277.0,98.3 277.1,98.5 277.5,98.8 277.6,99.0 278.0,99.4 278.1,99.5 278.5,100.0 278.5,100.0 278.8,100.5 278.9,101.0 278.9,101.5 278.9,102.0 279.0,102.5 279.0,103.0 279.0,103.0 279.1,103.5 279.2,104.0 279.5,104.5 279.5,104.6 280.0,104.9 280.2,105.0 280.5,105.2 281.0,105.3 281.5,105.3 282.0,105.1 282.1,105.0 282.5,104.8 283.0,104.8 283.3,105.0 283.5,105.1 283.7,105.5 284.0,105.9 284.0,106.0 284.3,106.5 284.5,106.8 284.7,107.0 285.0,107.3 285.3,107.5 285.5,107.7 286.0,108.0 286.0,108.0 286.5,108.4 286.6,108.5 287.0,109.0 287.0,109.1 287.1,109.5 287.2,110.0 287.4,110.5 287.5,110.7 287.6,111.0 288.0,111.5 288.0,111.6 288.4,112.0 288.5,112.1 288.8,112.5 289.0,112.7 289.3,113.0 289.5,113.3 289.7,113.5 290.0,114.0 290.0,114.0 290.4,114.5 290.5,114.7 290.7,115.0 291.0,115.4 291.1,115.5 291.5,115.7 292.0,116.0 292.1,116.0 292.5,116.1 293.0,116.3 293.5,116.5 293.6,116.5 294.0,116.7 294.5,116.9 294.8,117.0 295.0,117.2 295.5,117.5 295.5,117.5 295.9,118.0 296.0,118.2 296.2,118.5 296.5,119.0 296.5,119.0 296.8,119.5 297.0,119.8 297.1,120.0 297.1,120.5 297.2,121.0 297.2,121.5 297.2,122.0 297.3,122.5 297.5,123.0 297.5,123.0 298.0,123.5 298.0,123.5 298.5,124.0 298.5,124.0 299.0,124.5 299.0,124.5 299.5,124.8 299.7,125.0 300.0,125.2 300.3,125.5 300.5,125.7 300.7,126.0 301.0,126.5 301.0,126.5 301.3,127.0 301.5,127.2 301.7,127.5 302.0,128.0 302.0,128.0 302.3,128.5 302.5,129.0 302.5,129.1 302.6,129.5 302.8,130.0 302.9,130.5 302.9,131.0 302.9,131.5 302.7,132.0 302.6,132.5 302.7,133.0 302.8,133.5 302.9,134.0 302.9,134.5 302.9,135.0 302.9,135.5 302.7,136.0 302.5,136.4 302.4,136.5 302.1,137.0 302.1,137.5 302.2,138.0 302.4,138.5 302.5,139.0 302.0,139.4 301.5,139.4 301.0,139.2 300.6,139.0 300.5,139.0 300.4,139.0 300.0,139.1 299.7,139.5 299.5,139.9 299.5,140.0 299.4,140.5 299.5,140.8 299.5,141.0 299.8,141.5 300.0,142.0 300.0,142.0 300.2,142.5 300.5,143.0 300.5,143.1 300.7,143.5 300.8,144.0 300.7,144.5 300.5,144.7 300.2,145.0 300.0,145.1 299.5,145.4 299.3,145.5 299.0,145.7 298.5,146.0 298.5,146.0 298.0,146.5 298.0,146.5 297.7,147.0 297.6,147.5 297.6,148.0 297.8,148.5 297.9,149.0 298.0,149.3 298.0,149.5 298.1,150.0 298.0,150.4 298.0,150.5 297.8,151.0 297.5,151.5 297.5,151.5 297.0,151.9 296.9,152.0 296.5,152.2 296.1,152.5 296.0,152.6 295.6,153.0 295.5,153.1 295.2,153.5 295.0,153.7 294.5,154.0 294.4,154.0 294.0,154.1 293.5,154.1 293.3,154.0 293.0,153.8 292.8,153.5 292.6,153.0 292.5,152.6 292.4,152.5 292.2,152.0 292.0,151.5 292.0,151.5 291.6,151.0 291.5,150.8 291.2,150.5 291.0,150.2 290.8,150.0 290.5,149.8 290.0,150.0 290.0,150.0 289.5,150.3 289.0,150.5 288.9,150.5 288.5,150.6 288.0,150.7 287.5,150.7 287.0,150.8 286.5,150.8 286.0,150.8 285.5,151.0 285.5,151.0 285.0,151.4 284.9,151.5 284.6,152.0 284.5,152.2 284.4,152.5 284.3,153.0 284.3,153.5 284.0,153.6 283.5,153.7 283.0,153.8 282.5,154.0 282.4,154.0 282.0,154.1 281.5,154.2 281.0,154.3 280.5,154.4 280.4,154.5 280.0,154.7 279.7,155.0 279.5,155.3 279.3,155.5 279.0,155.8 278.8,156.0 278.5,156.2 278.1,156.5 278.0,156.6 277.5,156.9 277.3,157.0 277.0,157.2 276.7,157.5 276.5,157.7 276.1,158.0 276.0,158.1 M258.5,94.1 258.0,94.0 258.0,94.0 257.9,93.5 258.0,93.0 258.0,93.0 258.0,93.0 258.5,93.3 258.6,93.5 258.6,94.0 258.5,94.1 M281.9,107.5 281.9,107.0 281.5,106.5 281.5,106.5 281.4,106.5 281.0,106.7 280.9,107.0 281.0,107.5 281.0,107.5 281.5,107.8 281.9,107.5 M283.5,111.5 283.8,111.0 283.9,110.5 283.8,110.0 283.5,109.7 283.1,109.5 283.0,109.5 282.9,109.5 282.5,109.6 282.2,110.0 282.1,110.5 282.2,111.0 282.5,111.4 282.6,111.5 283.0,111.6 283.5,111.5 283.5,111.5 M261.7,116.0 262.0,115.8 262.2,115.5 262.0,115.3 261.5,115.1 261.0,115.1 260.5,115.4 260.3,115.5 260.5,115.6 261.0,115.9 261.2,116.0 261.5,116.0 261.7,116.0" fill="none" stroke="#000" stroke-width="1.05" stroke-linejoin="round"/>
<path d="M276.5,152.8 276.0,152.8 275.6,152.5 275.5,152.4 275.0,152.0 275.0,152.0 274.5,151.7 274.0,151.6 273.5,151.6 273.2,151.5 273.0,151.4 272.5,151.1 272.4,151.0 272.0,150.6 271.8,150.5 271.5,150.3 271.0,150.3 270.5,150.3 270.0,150.4 269.5,150.4 269.0,150.2 268.6,150.0 268.5,149.9 268.3,149.5 268.1,149.0 268.1,148.5 268.1,148.0 268.2,147.5 268.2,147.0 268.2,146.5 268.0,146.0 268.0,146.0 267.6,145.5 267.5,145.4 267.0,145.1 266.5,145.1 266.1,145.5 266.0,145.6 265.5,146.0 265.5,146.0 265.0,146.3 264.5,146.4 264.1,146.5 264.0,146.5 263.5,146.7 263.0,147.0 263.0,147.0 262.8,147.0 262.5,147.0 262.2,146.5 262.3,146.0 262.5,145.8 262.7,145.5 263.0,145.1 263.0,145.0 263.4,144.5 263.5,144.4 264.0,144.1 264.5,144.0 264.6,144.0 265.0,144.0 265.5,143.9 265.8,143.5 265.7,143.0 265.5,142.7 265.4,142.5 265.0,142.1 264.9,142.0 264.5,141.7 264.1,141.5 264.0,141.4 263.5,141.2 263.0,141.0 263.0,141.0 262.5,140.7 262.4,140.5 262.0,140.0 262.0,140.0 261.7,139.5 261.5,139.2 261.4,139.0 261.0,138.5 261.0,138.5 260.8,138.0 260.8,137.5 260.9,137.0 261.0,136.8 261.1,136.5 261.1,136.0 261.0,135.9 260.8,135.5 260.5,135.1 260.4,135.0 260.3,134.5 260.5,134.0 260.5,133.9 260.7,133.5 261.0,133.0 261.0,132.9 261.2,132.5 261.5,132.1 261.5,132.0 261.8,131.5 262.0,131.0 262.0,131.0 262.0,131.0 262.0,130.5 261.7,130.0 261.5,129.6 261.5,129.5 261.2,129.0 261.0,128.7 260.8,128.5 260.5,128.1 260.4,128.0 260.0,127.6 259.9,127.5 259.5,127.0 259.5,127.0 259.3,126.5 259.3,126.0 259.4,125.5 259.5,125.2 259.7,125.0 260.0,124.7 260.2,124.5 260.5,124.1 260.6,124.0 261.0,123.6 261.1,123.5 261.5,123.0 261.5,123.0 261.8,122.5 262.0,122.2 262.2,122.0 262.5,121.6 262.6,121.5 263.0,121.3 263.5,121.1 263.6,121.0 264.0,120.7 264.2,120.5 264.3,120.0 264.3,119.5 264.2,119.0 264.0,118.5 264.0,118.5 263.8,118.0 263.8,117.5 264.0,117.0 264.0,116.9 264.1,116.5 264.4,116.0 264.5,115.7 264.6,115.5 264.7,115.0 264.5,114.7 264.4,114.5 264.0,114.3 263.5,114.0 263.5,114.0 263.0,113.6 262.8,113.5 262.6,113.0 263.0,112.6 263.1,112.5 263.5,112.2 263.8,112.0 264.0,111.9 264.5,111.9 264.6,112.0 265.0,112.1 265.5,112.2 266.0,112.1 266.1,112.0 266.5,111.6 266.5,111.5 266.8,111.0 266.9,110.5 266.9,110.0 266.8,109.5 266.5,109.0 266.5,109.0 266.1,108.5 266.0,108.3 265.6,108.0 265.5,107.9 265.0,107.6 264.9,107.5 264.6,107.0 264.5,106.9 264.4,106.5 264.3,106.0 264.4,105.5 264.4,105.0 264.3,104.5 264.1,104.0 264.0,103.9 263.5,103.5 263.5,103.5 263.0,103.2 262.7,103.0 262.5,102.6 262.5,102.5 262.5,102.0 262.5,101.5 262.5,101.5 262.5,101.0 262.5,100.5 262.5,100.0 262.6,99.5 262.7,99.0 263.0,98.6 263.1,98.5 263.5,98.3 264.0,98.0 264.1,98.0 264.5,97.9 265.0,97.8 265.5,97.8 266.0,97.9 266.3,98.0 266.5,98.1 266.6,98.0 266.6,97.5 266.5,97.4 266.3,97.0 266.0,96.5 266.0,96.5 265.7,96.0 265.5,95.8 265.3,95.5 265.1,95.0 265.0,94.7 264.9,94.5 264.9,94.0 265.0,93.5 265.0,93.5 265.3,93.0 265.5,92.8 266.0,92.5 266.4,92.5 266.5,92.5 266.5,92.5 267.0,92.6 267.5,92.6 268.0,92.5 268.0,92.5 268.5,92.2 268.9,92.0 269.0,92.0 269.5,91.8 270.0,91.9 270.1,92.0 270.5,92.5 270.5,92.5 270.7,93.0 271.0,93.4 271.1,93.5 271.5,94.0 271.5,94.0 272.0,94.4 272.1,94.5 272.5,94.9 272.6,95.0 272.9,95.5 273.0,96.0 272.8,96.5 272.5,96.9 272.4,97.0 272.0,97.4 272.0,97.5 271.6,98.0 271.5,98.4 271.5,98.5 271.5,99.0 271.5,99.2 271.6,99.5 272.0,99.7 272.5,99.8 273.0,99.8 273.5,99.7 274.0,99.7 274.5,99.7 275.0,99.7 275.5,99.8 276.0,99.9 276.3,100.0 276.5,100.0 277.0,100.3 277.2,100.5 277.5,100.8 277.7,101.0 277.9,101.5 278.0,101.8 278.0,102.0 278.1,102.5 278.1,103.0 278.1,103.5 278.0,104.0 278.0,104.0 277.9,104.5 277.8,105.0 277.7,105.5 277.6,106.0 277.5,106.4 277.5,106.5 277.4,107.0 277.2,107.5 277.0,107.8 276.9,108.0 276.5,108.4 276.4,108.5 276.0,108.9 275.9,109.0 275.5,109.4 275.4,109.5 275.0,110.0 274.9,110.0 274.9,110.5 275.0,110.6 275.5,110.8 276.0,110.8 276.5,110.7 277.0,110.6 277.4,110.5 277.5,110.4 278.0,110.2 278.3,110.0 278.5,109.8 278.9,109.5 279.0,109.4 279.5,109.3 279.7,109.5 279.9,110.0 280.0,110.2 280.1,110.5 280.5,111.0 280.5,111.0 281.0,111.5 281.0,111.5 281.5,111.9 281.6,112.0 282.0,112.3 282.4,112.5 282.5,112.5 283.0,112.7 283.5,112.8 284.0,112.7 284.3,112.5 284.5,112.3 284.8,112.0 285.0,111.7 285.4,111.5 285.5,111.5 285.6,111.5 286.0,111.7 286.3,112.0 286.5,112.3 286.6,112.5 287.0,113.0 287.0,113.0 287.5,113.4 287.7,113.5 288.0,113.6 288.5,113.9 288.6,114.0 289.0,114.5 289.0,114.5 289.3,115.0 289.4,115.5 289.5,115.8 289.5,116.0 289.7,116.5 290.0,116.9 290.2,117.0 290.5,117.2 291.0,117.3 291.5,117.5 291.5,117.5 292.0,117.9 292.0,118.0 292.2,118.5 292.3,119.0 292.4,119.5 292.5,119.6 292.7,120.0 293.0,120.3 293.3,120.5 293.5,120.6 294.0,120.8 294.4,121.0 294.5,121.0 295.0,121.3 295.2,121.5 295.5,122.0 295.5,122.0 295.6,122.5 295.5,123.0 295.5,123.4 295.5,123.5 295.4,124.0 295.4,124.5 295.5,125.0 295.5,125.4 295.5,125.5 296.0,125.9 296.5,125.8 297.0,125.7 297.5,125.7 298.0,125.9 298.3,126.0 298.5,126.1 299.0,126.5 299.0,126.5 299.5,127.0 299.5,127.0 299.8,127.5 300.0,128.0 300.0,128.1 300.0,128.5 300.0,128.5 299.5,128.9 299.0,128.7 298.7,128.5 298.5,128.4 298.0,128.2 297.5,128.3 297.2,128.5 297.0,128.8 296.9,129.0 296.8,129.5 296.5,130.0 296.5,130.0 296.0,130.1 295.5,130.2 295.1,130.5 295.0,130.6 294.8,131.0 294.7,131.5 294.8,132.0 295.0,132.4 295.3,132.5 295.5,132.6 296.0,132.6 296.5,132.5 296.5,132.5 297.0,132.3 297.5,132.2 298.0,132.3 298.1,132.5 298.3,133.0 298.3,133.5 298.1,134.0 298.0,134.2 297.9,134.5 297.8,135.0 297.7,135.5 297.8,136.0 297.9,136.5 298.0,136.7 298.1,137.0 298.1,137.5 298.2,138.0 298.2,138.5 298.1,139.0 298.0,139.5 298.0,139.7 297.9,140.0 297.7,140.5 297.5,140.9 297.4,141.0 297.1,141.5 297.0,141.7 296.8,142.0 296.6,142.5 296.7,143.0 297.0,143.3 297.5,143.4 298.0,143.2 298.5,143.0 299.0,143.3 299.1,143.5 299.0,143.9 298.9,144.0 298.5,144.3 298.0,144.5 298.0,144.5 297.5,144.7 297.0,145.0 297.0,145.0 296.5,145.1 296.0,145.1 295.9,145.0 295.5,144.7 295.3,144.5 295.0,144.2 294.8,144.0 294.5,143.5 294.5,143.5 294.0,143.3 293.6,143.5 293.5,143.5 293.1,144.0 293.0,144.1 292.6,144.5 292.5,144.6 292.2,145.0 292.0,145.3 291.9,145.5 291.5,146.0 291.5,146.0 291.0,146.4 290.9,146.5 290.5,146.7 290.0,146.8 289.5,146.9 289.3,147.0 289.0,147.2 288.7,147.5 288.7,148.0 288.6,148.5 288.5,148.8 288.3,149.0 288.0,149.2 287.5,149.1 287.2,149.0 287.0,148.9 286.5,148.7 286.0,148.5 286.0,148.5 285.5,148.4 285.0,148.1 284.9,148.0 284.5,147.6 284.5,147.5 284.0,147.1 283.8,147.0 283.5,146.9 283.1,147.0 283.0,147.0 282.5,147.3 282.4,147.5 282.0,148.0 282.0,148.0 281.8,148.5 281.5,149.0 281.5,149.1 281.2,149.5 281.0,149.8 280.5,150.0 280.5,150.0 280.0,150.2 279.5,150.4 279.4,150.5 279.0,150.9 278.8,151.0 278.5,151.3 278.1,151.5 278.0,151.5 277.5,151.8 277.2,152.0 277.0,152.2 276.7,152.5 276.5,152.8 M270.7,102.5 271.0,102.4 271.2,102.0 271.2,101.5 271.1,101.0 271.0,100.7 270.5,100.8 270.4,101.0 270.1,101.5 270.1,102.0 270.4,102.5 270.5,102.6 270.7,102.5 M270.5,112.0 271.0,111.5 271.0,111.5 271.3,111.0 271.4,110.5 271.0,110.2 270.5,110.2 270.0,110.2 269.5,110.3 269.1,110.5 269.0,110.7 268.8,111.0 268.9,111.5 269.0,111.8 269.2,112.0 269.5,112.2 270.0,112.3 270.5,112.0 270.5,112.0" fill="none" stroke="#000" stroke-width="1.05" stroke-linejoin="round"/>
<path d="M273.5,149.0 273.4,149.0 273.0,148.9 272.5,148.7 272.1,148.5 272.0,148.4 271.5,148.1 271.4,148.0 271.0,147.7 270.7,147.5 270.5,147.3 270.3,147.0 270.0,146.5 270.0,146.4 269.9,146.0 269.7,145.5 269.6,145.0 269.6,144.5 269.6,144.0 269.7,143.5 269.7,143.0 269.5,142.6 269.4,142.5 269.0,142.4 268.5,142.3 268.0,142.2 267.5,142.0 267.4,142.0 267.0,141.8 266.5,141.5 266.4,141.5 266.0,141.2 265.7,141.0 265.5,140.8 265.2,140.5 265.0,140.1 264.9,140.0 264.6,139.5 264.5,139.4 264.0,139.0 264.0,139.0 263.6,138.5 263.5,138.3 263.4,138.0 263.5,137.5 263.5,137.3 263.6,137.0 264.0,136.5 264.0,136.5 264.5,136.2 265.0,136.1 265.4,136.0 265.5,136.0 266.0,135.6 266.1,135.5 266.3,135.0 266.3,134.5 266.3,134.0 266.2,133.5 266.0,133.0 266.0,133.0 265.5,132.5 265.5,132.5 265.0,132.4 264.5,132.3 264.0,132.0 264.0,132.0 263.9,131.5 263.9,131.0 263.7,130.5 263.5,130.1 263.5,130.0 263.1,129.5 263.0,129.2 262.9,129.0 262.8,128.5 262.8,128.0 263.0,127.6 263.0,127.5 263.5,127.0 263.5,127.0 264.0,126.7 264.4,126.5 264.5,126.5 265.0,126.3 265.5,126.0 265.5,126.0 265.9,125.5 266.0,125.4 266.2,125.0 266.2,124.5 266.1,124.0 266.0,123.9 265.6,123.5 265.5,123.4 265.1,123.0 265.0,122.7 264.9,122.5 265.0,122.2 265.1,122.0 265.4,121.5 265.5,121.3 265.7,121.0 265.9,120.5 266.0,120.0 265.9,119.5 265.7,119.0 265.6,118.5 265.5,118.3 265.4,118.0 265.5,117.5 265.5,117.4 265.6,117.0 266.0,116.6 266.1,116.5 266.5,116.2 267.0,116.1 267.4,116.0 267.5,116.0 267.6,116.0 268.0,116.2 268.3,116.5 268.5,116.8 268.6,117.0 269.0,117.3 269.2,117.5 269.5,117.6 270.0,117.7 270.5,117.7 271.0,117.7 271.5,117.5 271.5,117.5 272.0,117.2 272.2,117.0 272.5,116.8 273.0,116.6 273.4,116.5 273.5,116.5 274.0,116.3 274.5,116.1 274.6,116.0 275.0,115.7 275.2,115.5 275.5,115.2 275.7,115.0 276.0,114.6 276.1,114.5 276.2,114.0 276.3,113.5 276.3,113.0 276.5,112.5 276.5,112.5 277.0,112.1 277.2,112.0 277.5,111.9 278.0,111.9 278.2,112.0 278.5,112.1 279.0,112.5 279.0,112.5 279.5,113.0 279.6,113.0 280.0,113.3 280.5,113.3 281.0,113.4 281.3,113.5 281.5,113.6 282.0,113.8 282.4,114.0 282.5,114.0 283.0,114.2 283.5,114.5 283.6,114.5 284.0,114.8 284.1,115.0 284.3,115.5 284.4,116.0 284.5,116.5 284.5,116.5 284.6,117.0 284.8,117.5 285.0,118.0 285.0,118.0 285.2,118.5 285.5,119.0 285.5,119.0 285.9,119.5 286.0,119.6 286.3,120.0 286.5,120.4 286.6,120.5 287.0,121.0 287.0,121.0 287.5,121.3 287.9,121.5 288.0,121.6 288.4,122.0 288.4,122.5 288.4,123.0 288.3,123.5 288.3,124.0 288.4,124.5 288.5,124.8 288.6,125.0 288.9,125.5 289.0,125.7 289.1,126.0 289.3,126.5 289.5,127.0 289.5,127.0 289.8,127.5 290.0,127.8 290.4,128.0 290.5,128.0 291.0,128.2 291.5,128.3 292.0,128.4 292.2,128.5 292.5,128.6 292.9,129.0 293.0,129.1 293.2,129.5 293.3,130.0 293.2,130.5 293.0,131.0 293.0,131.1 292.8,131.5 292.8,132.0 292.8,132.5 292.8,133.0 292.6,133.5 292.5,133.6 292.3,134.0 292.0,134.4 291.9,134.5 291.7,135.0 291.6,135.5 291.8,136.0 292.0,136.2 292.2,136.5 292.5,136.9 292.5,137.0 292.7,137.5 292.5,137.9 292.5,138.0 292.0,138.4 291.9,138.5 291.5,138.7 291.0,138.8 290.5,139.0 290.5,139.0 290.0,139.1 289.5,139.1 289.4,139.0 289.0,138.6 288.9,138.5 288.6,138.0 288.5,137.9 288.0,137.7 287.5,137.8 287.3,138.0 287.0,138.3 286.8,138.5 286.5,139.0 286.5,139.1 286.4,139.5 286.3,140.0 286.4,140.5 286.4,141.0 286.5,141.5 286.5,141.5 286.5,142.0 286.6,142.5 286.8,143.0 287.0,143.5 287.0,143.7 287.1,144.0 287.0,144.4 287.0,144.5 286.5,145.0 286.5,145.0 286.0,145.3 285.5,145.3 285.0,145.2 284.5,145.0 284.5,145.0 284.0,144.9 283.5,144.9 283.0,144.9 282.6,145.0 282.5,145.0 282.0,145.2 281.5,145.5 281.5,145.5 281.3,146.0 281.1,146.5 281.0,146.8 280.9,147.0 280.7,147.5 280.5,147.7 280.1,148.0 280.0,148.1 279.5,148.2 279.0,148.2 278.5,148.2 278.0,148.1 277.7,148.0 277.5,148.0 277.0,147.9 276.5,147.8 276.0,147.9 275.7,148.0 275.5,148.1 275.0,148.5 275.0,148.5 274.5,148.8 274.0,149.0 274.0,149.0 273.5,149.0" fill="none" stroke="#000" stroke-width="1.05" stroke-linejoin="round"/>
<path d="M278.0,142.7 277.5,142.6 277.3,142.5 277.0,142.3 276.7,142.0 276.5,141.9 276.1,141.5 276.0,141.4 275.5,141.2 275.0,141.2 274.5,141.2 274.0,141.3 273.5,141.4 273.0,141.5 272.5,141.5 272.0,141.3 271.5,141.1 271.4,141.0 271.0,140.7 270.8,140.5 270.6,140.0 270.6,139.5 270.7,139.0 270.9,138.5 271.0,138.2 271.1,138.0 271.3,137.5 271.4,137.0 271.5,136.5 271.4,136.0 271.3,135.5 271.0,135.1 270.9,135.0 270.5,134.8 270.0,134.7 269.5,134.6 269.0,134.6 268.5,134.5 268.4,134.5 268.0,134.3 267.8,134.0 267.6,133.5 267.6,133.0 267.8,132.5 268.0,132.2 268.1,132.0 268.4,131.5 268.5,131.4 268.6,131.0 268.7,130.5 268.7,130.0 268.8,129.5 268.8,129.0 268.8,128.5 268.7,128.0 268.5,127.5 268.5,127.4 268.3,127.0 268.3,126.5 268.5,126.0 268.5,126.0 268.8,125.5 269.0,125.2 269.1,125.0 269.2,124.5 269.2,124.0 269.0,123.5 269.0,123.4 268.9,123.0 268.9,122.5 268.9,122.0 269.0,121.5 269.0,121.4 269.0,121.0 269.1,120.5 269.2,120.0 269.5,119.7 270.0,119.6 270.5,119.6 271.0,119.7 271.5,120.0 271.5,120.0 271.7,120.5 271.6,121.0 271.5,121.3 271.4,121.5 271.1,122.0 271.0,122.2 270.8,122.5 270.8,123.0 271.0,123.3 271.1,123.5 271.5,123.7 272.0,123.8 272.5,123.8 273.0,123.6 273.4,123.5 273.5,123.5 274.0,123.2 274.3,123.0 274.5,122.8 274.7,122.5 274.8,122.0 274.7,121.5 274.5,121.1 274.4,121.0 274.1,120.5 274.0,120.2 273.9,120.0 274.0,119.5 274.0,119.5 274.4,119.0 274.5,118.9 275.0,118.8 275.5,118.7 276.0,118.7 276.5,118.8 277.0,119.0 277.0,119.0 277.5,119.2 278.0,119.4 278.4,119.5 278.5,119.5 279.0,119.7 279.5,119.8 280.0,119.9 280.5,119.8 281.0,119.6 281.5,119.5 282.0,119.6 282.5,119.8 282.7,120.0 283.0,120.2 283.3,120.5 283.5,120.6 283.9,121.0 284.0,121.1 284.4,121.5 284.5,121.7 284.7,122.0 285.0,122.4 285.1,122.5 285.5,123.0 285.5,123.0 285.8,123.5 285.8,124.0 285.5,124.4 285.4,124.5 285.0,125.0 285.0,125.0 284.8,125.5 284.5,125.9 284.4,126.0 284.0,126.5 284.0,126.5 283.5,126.8 283.1,127.0 283.0,127.0 282.5,127.5 282.5,127.5 282.3,128.0 282.2,128.5 282.3,129.0 282.4,129.5 282.5,129.7 282.7,130.0 283.0,130.3 283.4,130.5 283.5,130.5 284.0,130.6 284.5,130.6 285.0,130.7 285.5,130.8 285.9,131.0 286.0,131.0 286.5,131.3 286.8,131.5 287.0,131.6 287.5,132.0 287.5,132.0 288.0,132.5 288.0,132.5 288.3,133.0 288.3,133.5 288.1,134.0 288.0,134.1 287.6,134.5 287.5,134.6 287.1,135.0 287.0,135.1 286.7,135.5 286.5,135.9 286.4,136.0 286.2,136.5 286.0,137.0 286.0,137.0 285.7,137.5 285.5,137.9 285.4,138.0 285.0,138.4 284.8,138.5 284.5,138.7 284.0,138.8 283.5,138.8 283.0,138.7 282.5,138.6 282.0,138.7 281.9,139.0 281.9,139.5 281.8,140.0 281.5,140.3 281.0,140.3 280.5,140.3 280.0,140.3 279.5,140.3 279.0,140.4 278.7,140.5 278.5,140.7 278.2,141.0 278.1,141.5 278.1,142.0 278.1,142.5 278.0,142.7 M273.5,146.7 273.0,146.7 272.7,146.5 272.5,146.2 272.4,146.0 272.3,145.5 272.1,145.0 272.0,144.6 272.0,144.5 271.9,144.0 271.9,143.5 272.0,143.0 272.0,143.0 272.2,142.5 272.4,142.0 272.5,141.7 273.0,141.5 273.5,141.7 273.6,142.0 274.0,142.4 274.1,142.5 274.3,143.0 274.4,143.5 274.4,144.0 274.4,144.5 274.3,145.0 274.2,145.5 274.1,146.0 274.0,146.2 273.8,146.5 273.5,146.7" fill="none" stroke="#000" stroke-width="1.05" stroke-linejoin="round"/>
</g>
<clipPath id="c3"><rect x="375.5" y="20.5" width="136.5" height="135"/></clipPath>
<g clip-path="url(#c3)">
<path d="M449.8,49.3 449.2,49.4 448.8,49.3 448.7,49.2 448.3,48.8 448.4,48.2 448.6,47.8 448.8,47.5 448.9,47.2 449.0,46.8 449.2,46.2 449.2,46.2 449.8,45.9 450.2,46.0 450.4,46.2 450.8,46.7 450.8,46.8 451.0,47.2 451.2,47.7 451.3,47.8 451.3,48.2 451.2,48.4 451.1,48.8 450.8,49.0 450.2,49.2 450.1,49.2 449.8,49.3 M455.8,62.3 455.2,62.3 455.2,62.2 454.8,62.1 454.4,61.8 454.2,61.6 454.1,61.2 453.8,60.8 453.8,60.6 453.5,60.2 453.2,59.8 453.2,59.8 453.0,59.2 453.0,58.8 452.9,58.2 453.0,57.8 453.0,57.2 453.1,56.8 453.2,56.2 452.9,55.8 452.8,55.6 452.4,55.2 452.2,55.1 451.9,54.8 451.8,54.6 451.2,54.3 451.2,54.2 450.8,54.1 450.2,54.2 450.0,54.2 449.8,54.3 449.6,54.2 449.4,53.8 449.8,53.3 449.9,53.2 450.2,53.2 450.8,53.0 450.9,52.8 451.2,52.2 451.2,52.1 451.4,51.8 451.6,51.2 451.8,51.0 452.0,50.8 452.2,50.5 452.8,50.4 453.2,50.5 453.8,50.7 453.8,50.8 454.2,51.2 454.3,51.2 454.7,51.8 454.8,51.8 455.1,52.2 455.2,52.6 455.3,52.8 455.4,53.2 455.3,53.8 455.2,53.9 455.0,54.2 454.8,54.6 454.6,54.8 454.3,55.2 454.2,55.3 454.0,55.8 454.1,56.2 454.2,56.4 454.5,56.8 454.7,57.2 454.8,57.6 454.8,57.8 454.8,58.2 454.9,58.8 455.2,59.1 455.4,59.2 455.8,59.5 456.0,59.8 456.2,59.9 456.5,60.2 456.8,60.7 456.8,60.8 456.9,61.2 456.8,61.5 456.6,61.8 456.2,62.1 455.8,62.2 455.8,62.3 M458.2,57.3 457.8,57.5 457.2,57.6 456.8,57.5 456.2,57.3 456.2,57.2 455.9,56.8 456.1,56.2 456.2,56.1 456.7,55.8 456.8,55.7 457.2,55.5 457.8,55.4 458.2,55.5 458.6,55.8 458.8,56.0 458.8,56.2 458.8,56.7 458.7,56.8 458.3,57.2 458.2,57.3 M459.8,62.1 459.2,62.2 458.8,61.8 458.7,61.8 458.7,61.2 458.8,61.2 458.9,60.8 459.0,60.2 459.2,59.8 459.2,59.7 459.4,59.2 459.8,58.9 460.0,58.8 460.2,58.6 460.8,58.6 461.2,58.7 461.4,58.8 461.8,59.0 461.9,59.2 462.1,59.8 462.0,60.2 461.8,60.6 461.6,60.8 461.2,61.0 460.9,61.2 460.8,61.3 460.2,61.7 460.2,61.8 459.8,62.1 M446.8,61.9 446.4,61.8 446.2,61.7 445.9,61.2 445.8,61.0 445.7,60.8 445.6,60.2 445.8,59.8 445.8,59.8 446.2,59.3 446.3,59.2 446.8,59.1 447.2,59.2 447.2,59.3 447.6,59.8 447.8,60.2 447.8,60.2 447.8,60.8 447.8,60.8 447.6,61.2 447.2,61.7 447.1,61.8 446.8,61.9 M439.2,61.5 438.8,61.7 438.3,61.2 438.8,61.0 439.2,61.0 439.4,61.2 439.2,61.5 M437.2,62.0 436.8,62.0 436.6,61.8 436.8,61.5 437.2,61.3 437.7,61.8 437.2,62.0 M462.2,65.3 461.8,65.3 461.2,65.3 461.2,65.2 460.8,64.8 461.0,64.2 461.2,64.1 461.8,63.8 462.1,63.8 462.2,63.7 462.8,63.7 463.2,63.7 463.3,63.8 463.6,64.2 463.4,64.8 463.2,64.9 462.8,65.1 462.4,65.2 462.2,65.3 M452.2,146.8 451.8,146.8 451.5,146.8 451.2,146.7 450.8,146.3 450.7,146.2 450.4,145.8 450.3,145.2 450.2,145.1 450.2,144.8 450.2,144.2 450.2,143.8 450.2,143.3 450.3,143.2 450.2,143.2 450.2,142.8 450.0,142.2 449.8,141.8 449.7,141.8 449.5,141.2 449.3,140.8 449.2,140.6 449.1,140.2 449.0,139.8 448.9,139.2 448.8,139.1 448.5,138.8 448.2,138.4 448.1,138.2 447.8,137.8 447.8,137.4 447.7,137.2 447.7,136.8 447.8,136.6 447.9,136.2 448.2,135.8 448.2,135.7 448.5,135.2 448.7,134.8 448.7,134.2 448.5,133.8 448.2,133.3 448.2,133.2 447.8,132.8 447.7,132.8 447.2,132.6 446.8,132.5 446.2,132.5 445.8,132.6 445.2,132.5 444.8,132.4 444.5,132.2 444.2,132.1 443.8,131.8 443.8,131.7 443.3,131.2 443.2,131.2 443.0,130.8 442.9,130.2 442.9,129.8 443.0,129.2 443.0,128.8 442.8,128.6 442.2,128.4 441.8,128.4 441.2,128.5 440.8,128.7 440.2,128.6 439.9,128.2 440.1,127.8 440.2,127.6 440.7,127.2 440.8,127.2 441.2,126.8 441.2,126.7 441.4,126.2 441.5,125.8 441.4,125.2 441.4,124.8 441.3,124.2 441.4,123.8 441.5,123.2 441.6,122.8 441.5,122.2 441.2,121.9 441.1,121.8 441.0,121.2 441.2,120.8 441.2,120.7 441.8,120.3 441.8,120.2 441.9,119.8 441.9,119.2 441.8,119.0 441.6,118.8 441.2,118.3 441.2,118.2 441.1,117.8 441.1,117.2 441.2,116.8 441.2,116.2 440.8,115.8 440.8,115.7 440.2,115.4 440.0,115.2 439.8,115.0 439.5,114.8 439.2,114.4 439.2,114.2 439.0,113.8 438.9,113.2 438.9,112.8 439.2,112.3 439.3,112.2 439.8,112.0 440.2,111.8 440.2,111.7 440.8,111.3 440.8,111.2 441.1,110.8 441.2,110.5 441.4,110.2 441.6,109.8 441.4,109.2 441.2,109.1 440.8,108.8 440.8,108.5 440.7,108.2 440.8,108.2 440.9,107.8 441.0,107.2 441.1,106.8 441.2,106.2 441.2,105.8 441.2,105.7 441.3,105.2 441.3,104.8 441.2,104.7 441.0,104.2 440.8,104.1 440.4,103.8 440.2,103.5 440.1,103.2 439.9,102.8 439.8,102.3 439.7,102.2 439.2,102.0 438.8,101.9 438.3,101.8 438.2,101.7 437.8,101.3 437.7,101.2 437.5,100.8 437.5,100.2 437.7,99.8 437.8,99.6 438.1,99.2 438.2,99.0 438.5,98.8 438.6,98.2 438.5,97.8 438.5,97.2 438.4,96.8 438.5,96.2 438.5,95.8 438.6,95.2 438.8,95.1 439.0,94.8 439.2,94.5 439.8,94.3 439.8,94.2 440.2,94.1 440.8,93.9 441.0,93.8 441.2,93.6 441.8,93.4 442.2,93.4 442.8,93.4 443.2,93.6 443.8,93.7 444.2,93.3 444.3,93.2 444.7,92.8 444.8,92.6 444.9,92.2 444.9,91.8 445.0,91.2 445.2,90.8 445.3,90.8 445.8,90.3 445.8,90.2 446.2,90.0 446.6,89.8 446.8,89.7 447.2,89.4 447.7,89.2 447.8,89.2 448.2,89.2 448.5,89.2 448.8,89.3 449.2,89.4 449.8,89.3 449.8,89.2 450.2,88.8 450.2,88.6 450.5,88.2 450.8,88.0 451.0,87.8 451.2,87.5 451.7,87.2 451.8,87.2 452.2,87.0 452.7,86.8 452.8,86.6 452.8,86.2 452.8,85.8 452.8,85.3 452.7,85.2 452.7,84.8 452.8,84.7 452.8,84.2 452.9,83.8 453.0,83.2 452.8,83.0 452.5,82.8 452.2,82.5 452.0,82.2 451.8,81.8 451.7,81.8 451.6,81.2 451.4,80.8 451.2,80.4 451.2,80.2 450.8,79.8 450.7,79.8 450.4,79.2 450.2,79.0 450.1,78.8 449.8,78.2 449.8,78.2 449.5,77.8 449.4,77.2 449.8,76.9 450.2,76.8 450.8,76.8 451.1,76.8 451.2,76.7 451.8,76.3 451.8,76.2 452.0,75.8 452.0,75.2 451.9,74.8 451.8,74.2 451.8,74.1 451.6,73.8 451.6,73.2 451.8,72.9 451.8,72.8 452.1,72.2 452.2,72.0 452.4,71.8 452.4,71.2 452.2,71.0 452.1,70.8 451.9,70.2 451.8,69.8 451.9,69.2 452.1,68.8 452.2,68.6 452.8,68.3 453.0,68.2 453.2,68.2 453.8,68.1 454.2,68.0 454.8,67.8 454.8,67.8 455.2,67.4 455.4,67.2 455.8,66.9 455.9,66.8 456.2,66.5 456.6,66.2 456.8,66.2 457.2,66.0 457.8,65.9 458.2,66.0 458.7,66.2 458.8,66.4 458.9,66.8 458.8,67.2 458.8,67.3 458.5,67.8 458.2,68.0 458.0,68.2 457.8,68.5 457.6,68.8 457.2,69.1 457.1,69.2 456.8,69.7 456.7,69.8 456.2,70.2 456.2,70.2 455.8,70.8 455.8,70.8 455.4,71.2 455.2,71.6 455.1,71.8 455.0,72.2 455.2,72.8 455.2,72.9 455.6,73.2 455.8,73.4 456.2,73.6 456.8,73.7 456.8,73.8 457.2,74.2 457.2,74.6 457.3,74.8 457.2,74.9 457.1,75.2 456.8,75.6 456.6,75.8 456.5,76.2 456.2,76.4 456.2,76.8 455.9,77.2 455.8,77.5 455.6,77.8 455.3,78.2 455.2,78.3 455.1,78.8 455.1,79.2 455.1,79.8 455.1,80.2 454.9,80.8 454.8,81.0 454.6,81.2 454.4,81.8 454.2,81.9 454.1,82.2 453.9,82.8 454.1,83.2 454.2,83.3 454.8,83.6 455.1,83.8 455.2,83.8 455.8,83.8 455.8,83.8 456.2,83.3 456.3,83.2 456.7,82.8 456.8,82.6 457.1,82.2 457.2,81.8 457.3,81.8 457.2,81.7 457.1,81.2 457.0,80.8 456.9,80.2 456.9,79.8 457.0,79.2 457.1,78.8 457.2,78.2 457.2,77.8 457.1,77.2 456.9,76.8 456.9,76.2 457.2,75.8 457.8,76.0 458.1,76.2 458.2,76.4 458.6,76.8 458.8,76.9 459.1,77.2 459.2,77.3 459.8,77.6 459.9,77.8 460.2,78.0 460.5,78.2 460.8,78.6 460.9,78.8 461.1,79.2 461.2,79.8 461.2,79.8 461.4,80.2 461.6,80.8 461.8,81.0 461.9,81.2 462.2,81.7 462.3,81.8 462.8,82.0 463.2,82.0 463.8,81.9 464.2,81.8 464.8,81.8 465.2,81.9 465.8,81.8 465.9,81.8 466.2,81.5 466.8,81.3 467.2,81.3 467.8,81.3 468.0,81.2 468.2,81.2 468.8,81.1 469.2,80.9 469.8,80.9 470.2,81.0 470.8,81.2 470.9,81.2 471.2,81.5 471.6,81.8 471.8,81.9 472.2,82.2 472.2,82.3 472.5,82.8 472.7,83.2 472.7,83.8 472.6,84.2 472.2,84.7 472.2,84.8 471.8,85.2 471.2,85.2 470.8,85.2 470.2,84.9 469.9,84.8 469.8,84.7 469.2,84.5 468.9,84.2 468.8,84.2 468.2,83.8 468.2,83.8 467.8,83.2 467.8,83.2 467.3,82.8 467.2,82.7 466.8,82.6 466.2,82.7 466.2,82.8 465.9,83.2 465.8,83.5 465.7,83.8 465.3,84.2 465.2,84.4 464.8,84.8 464.8,84.8 464.2,85.1 463.9,85.2 463.8,85.3 463.2,85.6 463.1,85.8 463.0,86.2 463.2,86.8 463.2,86.9 463.4,87.2 463.7,87.8 463.8,87.8 464.2,88.2 464.2,88.3 464.8,88.3 464.8,88.2 465.2,88.1 465.8,87.8 465.8,87.8 466.2,87.3 466.3,87.2 466.8,86.8 466.9,86.8 467.2,86.7 467.8,86.7 467.8,86.8 468.2,87.0 468.8,87.2 468.8,87.2 469.2,87.3 469.5,87.2 469.8,87.2 470.2,86.9 470.5,86.8 470.8,86.6 471.2,86.4 471.8,86.3 472.2,86.4 472.8,86.5 473.2,86.7 473.4,86.8 473.8,86.9 474.1,87.2 474.2,87.4 474.5,87.8 474.8,88.1 474.9,88.2 475.2,88.8 475.2,88.9 475.5,89.2 475.8,89.7 475.8,89.8 476.1,90.2 476.2,90.8 476.2,90.8 476.4,91.2 476.5,91.8 476.6,92.2 476.8,92.6 476.8,92.8 477.2,93.2 477.2,93.4 477.7,93.8 477.8,93.8 478.2,94.2 478.3,94.2 478.7,94.8 478.8,94.9 479.2,95.2 479.2,95.3 479.3,95.2 479.8,95.2 480.2,95.0 480.8,94.8 481.2,94.9 481.8,95.0 482.1,95.2 482.2,95.4 482.7,95.8 482.8,95.9 483.0,96.2 483.2,96.8 483.2,97.2 483.2,97.8 483.2,98.2 483.1,98.8 483.0,99.2 482.9,99.8 483.0,100.2 483.0,100.8 483.0,101.2 482.9,101.8 482.8,102.2 482.7,102.2 482.5,102.8 482.2,103.1 482.2,103.2 481.8,103.7 481.7,103.8 481.2,104.0 480.8,104.1 480.5,104.2 480.3,104.8 480.4,105.2 480.4,105.8 480.4,106.2 480.2,106.5 480.1,106.8 479.8,107.0 479.2,107.2 479.2,107.2 478.8,107.6 478.7,107.8 478.7,108.2 478.8,108.3 479.1,108.8 479.2,108.9 479.6,109.2 479.8,109.3 480.2,109.4 480.8,109.4 481.0,109.2 481.2,109.1 481.8,108.8 481.9,108.8 482.2,108.4 482.5,108.2 482.8,107.9 482.8,107.8 482.8,107.2 482.9,106.8 483.0,106.2 483.2,105.8 483.2,105.6 483.6,105.2 483.8,105.1 484.2,104.8 484.2,104.7 484.8,104.3 484.8,104.2 485.2,103.8 485.2,103.7 485.8,103.5 486.2,103.7 486.3,103.8 486.5,104.2 486.8,104.4 487.2,104.5 487.8,104.5 488.2,104.6 488.5,104.8 488.8,104.9 489.1,105.2 489.2,105.6 489.3,105.8 489.3,106.2 489.2,106.4 489.1,106.8 488.9,107.2 488.8,107.4 488.5,107.8 488.2,108.0 488.0,108.2 487.8,108.5 487.4,108.8 487.2,108.9 486.8,109.1 486.2,109.1 485.8,109.1 485.2,109.2 485.1,109.2 485.1,109.8 485.1,110.2 485.1,110.8 485.0,111.2 484.8,111.8 484.8,111.9 484.6,112.2 484.4,112.8 484.4,113.2 484.4,113.8 484.3,114.2 484.2,114.3 483.9,114.8 483.8,115.0 483.6,115.2 483.4,115.8 483.3,116.2 483.2,116.4 483.2,116.8 483.2,117.2 483.1,117.8 483.0,118.2 482.9,118.8 482.8,119.2 482.8,119.8 482.8,120.2 482.8,120.6 482.7,120.8 482.7,121.2 482.6,121.8 482.4,122.2 482.3,122.8 482.3,123.2 482.3,123.8 482.4,124.2 482.7,124.8 482.8,124.8 483.1,125.2 483.2,125.5 483.4,125.8 483.6,126.2 483.5,126.8 483.2,127.2 483.2,127.2 482.8,127.6 482.4,127.8 482.2,127.8 481.8,128.0 481.2,128.1 481.0,128.2 480.8,128.5 480.5,128.8 480.3,129.2 480.2,129.5 480.2,129.8 480.1,130.2 480.1,130.8 480.1,131.2 480.1,131.8 480.2,132.1 480.3,132.2 480.6,132.8 480.8,132.9 481.0,133.2 481.2,133.8 481.2,134.0 481.3,134.2 481.4,134.8 481.2,135.0 480.8,135.2 480.2,135.2 480.1,135.2 479.8,135.3 479.6,135.2 479.2,135.2 478.8,135.0 478.4,134.8 478.2,134.6 477.8,134.2 477.8,134.2 477.2,134.0 476.8,133.8 476.6,133.8 476.2,133.6 475.8,133.5 475.2,133.5 474.8,133.7 474.7,133.8 474.4,134.2 474.4,134.8 474.4,135.2 474.4,135.8 474.4,136.2 474.4,136.8 474.4,137.2 474.3,137.8 474.2,137.8 474.1,138.2 474.0,138.8 473.9,139.2 474.1,139.8 474.2,140.0 474.4,140.2 474.7,140.8 474.8,141.0 474.8,141.2 474.8,141.8 474.8,142.0 474.5,142.2 474.2,142.4 473.8,142.4 473.6,142.2 473.2,141.9 473.1,141.8 472.8,141.2 472.8,141.2 472.5,140.8 472.2,140.4 472.1,140.2 471.8,140.0 471.2,139.8 470.8,139.8 470.3,140.2 470.4,140.8 470.4,141.2 470.3,141.8 470.2,142.2 470.2,142.2 470.2,142.8 470.0,143.2 469.8,143.6 469.6,143.8 469.2,143.9 468.8,144.0 468.2,143.9 467.8,143.9 467.2,144.1 467.0,144.2 466.8,144.4 466.2,144.6 465.8,144.6 465.2,144.6 464.8,144.5 464.2,144.4 463.8,144.3 463.2,144.3 462.8,144.3 462.7,144.2 462.2,143.8 462.2,143.8 462.2,143.2 462.2,143.1 462.5,142.8 462.8,142.5 463.0,142.2 463.2,141.9 463.3,141.8 463.2,141.5 463.2,141.2 462.9,140.8 462.8,140.6 462.4,140.2 462.2,140.1 461.8,140.0 461.2,140.1 460.9,140.2 460.8,140.4 460.2,140.6 459.8,140.7 459.2,140.7 458.8,140.6 458.3,140.2 458.2,140.2 457.9,139.8 457.8,139.4 457.5,139.2 457.2,139.1 456.8,139.2 456.7,139.2 456.2,139.7 456.2,139.8 455.9,140.2 455.8,140.5 455.3,140.8 455.2,140.8 454.8,141.0 454.4,141.2 454.2,141.3 453.8,141.7 453.7,141.8 453.2,142.2 453.1,142.2 452.8,142.7 452.7,142.8 452.6,143.2 452.8,143.7 452.8,143.8 453.1,144.2 453.2,144.7 453.3,144.8 453.4,145.2 453.3,145.8 453.2,145.9 453.0,146.2 452.8,146.5 452.3,146.8 452.2,146.8 M467.8,78.9 467.2,79.0 466.8,79.0 466.2,78.9 466.1,78.8 465.8,78.5 465.5,78.2 465.2,77.9 465.2,77.8 464.8,77.2 464.8,77.1 464.2,76.8 464.2,76.8 464.0,76.2 464.2,75.8 464.8,75.8 465.2,76.0 465.8,76.0 466.2,75.9 466.8,75.8 467.2,75.8 467.8,75.9 468.2,76.2 468.2,76.3 468.6,76.8 468.8,77.2 468.8,77.2 468.8,77.3 468.7,77.8 468.5,78.2 468.2,78.5 467.9,78.8 467.8,78.9 M446.2,82.7 446.0,82.2 446.0,81.8 446.2,81.6 446.5,81.8 446.7,82.2 446.2,82.7 M446.8,84.4 446.5,84.2 446.3,83.8 446.8,83.3 447.0,83.8 447.0,84.2 446.8,84.4 M459.6,86.8 459.8,86.5 459.8,86.2 459.8,85.9 459.7,85.8 459.2,85.4 458.8,85.3 458.2,85.6 458.2,85.8 458.2,86.2 458.2,86.5 458.4,86.8 458.8,87.0 459.2,87.0 459.6,86.8 M479.8,89.3 479.2,89.5 478.8,89.5 478.2,89.5 477.8,89.4 477.5,89.2 477.3,88.8 477.6,88.2 477.8,88.1 478.2,88.0 478.8,88.0 479.2,88.0 479.8,88.2 479.9,88.2 480.2,88.8 479.9,89.2 479.8,89.3 M467.9,92.8 468.2,92.6 468.6,92.2 468.6,91.8 468.2,91.5 467.8,91.6 467.6,91.8 467.4,92.2 467.7,92.8 467.8,92.8 467.9,92.8 M449.3,96.2 449.2,96.2 449.2,95.8 449.0,95.2 448.8,94.9 448.2,95.1 448.2,95.2 448.1,95.8 448.2,96.1 448.5,96.2 448.8,96.4 449.2,96.3 449.3,96.2 M443.9,102.2 444.2,102.0 444.6,101.8 444.8,101.6 445.0,101.2 445.2,100.8 445.2,100.2 445.0,99.8 444.8,99.2 444.8,99.1 444.2,98.8 443.8,98.8 443.2,99.0 442.8,99.1 442.4,99.2 442.2,99.3 441.8,99.6 441.3,99.8 441.2,99.8 440.8,100.2 440.8,100.4 440.7,100.8 440.8,100.8 441.2,101.2 441.3,101.2 441.8,101.5 442.1,101.8 442.2,101.9 442.5,102.2 442.8,102.5 443.2,102.6 443.8,102.4 443.9,102.2 M430.8,109.0 430.2,109.2 429.8,109.2 429.4,108.8 429.6,108.2 429.8,108.1 430.1,107.8 430.2,107.6 430.5,107.2 430.8,106.8 430.8,106.8 430.9,106.2 431.1,105.8 431.2,105.6 431.8,105.3 432.2,105.6 432.4,105.8 432.5,106.2 432.6,106.8 432.5,107.2 432.4,107.8 432.2,108.1 432.1,108.2 431.8,108.5 431.2,108.7 431.2,108.8 430.8,109.0 M438.2,112.3 437.8,112.3 437.7,112.2 437.2,111.9 437.2,111.8 437.2,111.2 437.2,111.2 437.4,110.8 437.4,110.2 437.4,109.8 437.5,109.2 437.6,108.8 437.8,108.4 437.9,108.2 438.2,108.0 438.8,107.9 439.2,108.0 439.8,108.2 440.0,108.2 440.2,108.6 440.6,108.8 440.3,109.2 440.2,109.3 440.1,109.8 439.8,110.2 439.8,110.3 439.4,110.8 439.2,111.0 439.1,111.2 438.9,111.8 438.8,112.0 438.3,112.2 438.2,112.3 M428.2,112.0 427.8,112.0 427.6,111.8 427.8,111.6 428.2,111.7 428.4,111.8 428.2,112.0 M430.2,112.9 429.8,112.8 429.7,112.8 429.8,112.6 430.2,112.5 430.4,112.8 430.2,112.9 M437.8,119.0 437.2,119.2 436.8,119.1 436.2,118.9 435.8,118.8 435.8,118.7 435.2,118.5 434.8,118.2 434.8,118.2 434.3,117.8 434.2,117.7 434.0,117.2 434.0,116.8 434.2,116.2 434.2,116.1 434.8,115.8 435.2,115.8 435.2,115.7 435.3,115.8 435.8,115.8 436.2,115.9 436.8,116.0 437.2,116.1 437.6,116.2 437.8,116.3 438.2,116.6 438.5,116.8 438.7,117.2 438.7,117.8 438.6,118.2 438.2,118.7 438.2,118.8 437.8,119.0 M488.2,122.1 487.8,121.9 487.6,121.8 487.3,121.2 487.2,121.1 487.1,120.8 486.9,120.2 486.9,119.8 487.2,119.4 487.8,119.6 487.9,119.8 488.2,120.2 488.2,120.4 488.4,120.8 488.6,121.2 488.6,121.8 488.2,122.1 M434.2,125.6 433.8,125.6 433.2,125.3 433.2,125.2 432.8,124.8 432.7,124.8 432.4,124.2 432.3,123.8 432.7,123.2 432.8,123.2 433.0,123.2 433.2,123.3 433.8,123.7 433.8,123.8 434.2,124.2 434.3,124.2 434.6,124.8 434.6,125.2 434.2,125.6 M478.3,124.8 478.6,124.2 478.8,124.0 478.9,123.8 478.8,123.3 478.7,123.2 478.2,123.1 477.8,123.2 477.5,123.2 477.2,123.5 477.2,123.8 477.1,124.2 477.1,124.8 477.2,125.2 477.8,125.2 478.2,124.8 478.3,124.8 M436.2,129.8 436.1,129.8 436.0,129.2 436.2,129.1 436.4,129.2 436.3,129.8 436.2,129.8 M435.2,131.9 435.1,131.8 435.2,131.2 435.2,131.2 435.4,131.2 435.5,131.8 435.2,131.9 M485.2,133.5 484.8,133.5 484.2,133.4 484.1,133.2 483.8,132.8 483.8,132.2 484.0,131.8 484.2,131.4 484.4,131.2 484.8,131.0 485.2,131.0 485.8,131.2 485.8,131.2 486.1,131.8 486.2,132.2 486.0,132.8 485.8,133.1 485.6,133.2 485.2,133.5 M445.8,137.3 445.2,137.3 445.0,137.2 444.8,137.2 444.2,136.9 444.1,136.8 443.8,136.5 443.5,136.2 443.2,136.1 442.8,135.9 442.4,135.8 442.2,135.7 441.8,135.5 441.4,135.2 441.2,135.1 441.1,134.8 441.0,134.2 441.1,133.8 441.2,133.5 441.5,133.2 441.8,133.1 442.2,132.9 442.8,133.0 443.2,133.2 443.2,133.3 443.6,133.8 443.8,133.9 444.0,134.2 444.2,134.6 444.4,134.8 444.8,135.0 445.2,135.2 445.2,135.3 445.8,135.7 445.8,135.8 446.2,136.2 446.3,136.2 446.4,136.8 446.2,137.0 446.0,137.2 445.8,137.3 M458.2,145.4 457.8,145.7 457.2,145.7 456.8,145.6 456.2,145.3 456.2,145.2 455.8,144.8 455.8,144.5 455.6,144.2 455.5,143.8 455.5,143.2 455.6,142.8 455.8,142.3 455.8,142.2 456.0,141.8 456.2,141.4 456.6,141.2 456.8,141.2 457.2,141.0 457.8,141.0 458.2,141.2 458.3,141.2 458.6,141.8 458.7,142.2 458.7,142.8 458.7,143.2 458.7,143.8 458.8,144.0 458.8,144.2 458.8,144.3 458.7,144.8 458.5,145.2 458.2,145.4 M463.2,147.1 462.8,147.1 462.2,146.9 461.8,146.8 461.8,146.7 461.2,146.4 461.1,146.2 460.8,145.8 461.1,145.2 461.2,145.1 461.8,145.0 462.2,145.1 462.4,145.2 462.8,145.5 463.0,145.8 463.2,146.0 463.5,146.2 463.6,146.8 463.2,147.1 M439.7,159.8 439.8,159.7 439.9,159.2 440.2,158.8 440.4,158.8 440.8,158.6 441.1,158.8 441.2,158.8 441.6,159.2 441.8,159.7 441.8,159.8 M446.6,159.8 446.4,159.2 446.5,158.8 446.8,158.6 447.0,158.8 447.1,159.2 446.9,159.8" fill="none" stroke="#000" stroke-width="1.0" stroke-linejoin="round"/>
<path d="M453.2,52.9 452.8,52.8 452.7,52.8 452.8,52.5 453.2,52.3 453.3,52.8 453.2,52.9 M454.2,70.8 453.8,70.8 453.7,70.8 453.2,70.3 453.2,70.2 453.2,69.8 453.2,69.6 453.7,69.2 453.8,69.2 454.2,69.2 454.8,69.2 454.8,69.2 455.0,69.8 454.8,70.2 454.8,70.3 454.3,70.8 454.2,70.8 M454.2,77.8 453.8,78.0 453.2,78.0 452.9,77.8 452.8,77.6 452.6,77.2 452.7,76.8 452.8,76.5 452.8,76.2 453.0,75.8 453.1,75.2 453.1,74.8 452.9,74.2 452.8,73.8 452.7,73.8 452.8,73.7 452.9,73.2 453.2,73.0 453.8,73.1 453.9,73.2 454.2,73.7 454.3,73.8 454.4,74.2 454.5,74.8 454.7,75.2 454.8,75.3 455.0,75.8 455.1,76.2 455.1,76.8 454.8,77.2 454.8,77.4 454.3,77.8 454.2,77.8 M467.2,77.9 466.8,77.9 466.5,77.8 466.4,77.2 466.8,76.9 467.2,76.9 467.6,77.2 467.5,77.8 467.2,77.9 M460.2,81.6 459.8,81.7 459.2,81.7 458.8,81.5 458.4,81.2 458.2,81.2 457.9,80.8 457.8,80.4 457.7,80.2 457.7,79.8 457.8,79.6 457.9,79.2 458.2,78.8 458.2,78.7 458.8,78.4 459.2,78.4 459.8,78.7 459.8,78.8 460.2,79.2 460.2,79.4 460.4,79.8 460.5,80.2 460.5,80.8 460.5,81.2 460.2,81.6 M470.8,83.5 470.2,83.5 469.8,83.4 469.3,83.2 469.2,83.2 469.0,82.8 469.1,82.2 469.2,82.1 469.8,82.0 470.2,82.1 470.4,82.2 470.8,82.6 470.9,82.8 471.1,83.2 470.8,83.5 M464.2,83.8 463.8,84.0 463.4,83.8 463.6,83.2 463.8,83.1 464.2,83.1 464.4,83.2 464.3,83.8 464.2,83.8 M456.8,88.1 456.2,88.2 455.8,88.1 455.2,87.9 455.0,87.8 454.8,87.5 454.5,87.2 454.2,86.9 454.2,86.8 453.9,86.2 453.8,85.8 453.9,85.2 454.2,84.9 454.8,84.9 455.2,85.0 455.8,85.1 456.2,85.2 456.4,85.2 456.8,85.5 457.0,85.8 457.2,86.2 457.2,86.3 457.4,86.8 457.4,87.2 457.2,87.7 457.2,87.8 456.8,88.1 M452.2,141.8 451.8,142.0 451.2,142.0 450.9,141.8 450.8,141.6 450.5,141.2 450.2,140.9 450.2,140.8 450.0,140.2 449.9,139.8 449.9,139.2 449.8,138.8 449.7,138.8 449.4,138.2 449.2,138.1 449.0,137.8 448.8,137.3 448.7,137.2 448.7,136.8 448.8,136.7 449.0,136.2 449.2,135.9 449.4,135.8 449.8,135.3 449.8,135.2 450.0,134.8 450.0,134.2 449.8,133.8 449.8,133.7 449.5,133.2 449.2,132.9 449.2,132.8 448.9,132.2 448.9,131.8 448.9,131.2 449.2,130.8 449.2,130.6 449.4,130.2 449.2,130.0 449.1,129.8 448.8,129.4 448.4,129.2 448.2,129.0 448.2,129.2 448.0,129.8 447.9,130.2 447.8,130.5 447.7,130.8 447.2,131.1 447.1,131.2 446.8,131.4 446.2,131.6 445.8,131.7 445.2,131.6 444.8,131.4 444.5,131.2 444.2,130.9 444.1,130.8 444.0,130.2 444.1,129.8 444.2,129.4 444.3,129.2 444.6,128.8 444.8,128.5 445.0,128.2 445.2,128.0 445.8,127.8 446.2,127.8 446.8,127.9 447.2,128.1 447.7,128.2 447.8,128.3 448.1,128.2 448.2,128.1 448.3,127.8 448.2,127.6 448.2,127.2 448.1,126.8 447.9,126.2 447.9,125.8 447.8,125.2 447.8,124.8 447.8,124.7 447.2,124.3 446.8,124.5 446.5,124.8 446.2,125.0 445.9,125.2 445.8,125.3 445.2,125.6 444.8,125.7 444.7,125.8 444.2,126.0 443.8,126.2 443.3,126.2 443.2,126.3 443.2,126.2 442.8,126.0 442.6,125.8 442.3,125.2 442.2,125.1 442.2,124.8 442.1,124.2 442.2,123.8 442.2,123.7 442.4,123.2 442.7,122.8 442.8,122.7 443.0,122.2 443.2,121.8 443.3,121.8 443.3,121.2 443.2,120.8 443.2,120.8 443.2,120.2 443.2,119.8 443.2,119.5 443.3,119.2 443.7,118.8 443.8,118.7 444.2,118.6 444.8,118.6 445.2,118.7 445.7,118.8 445.8,118.8 445.8,118.8 446.2,118.7 446.5,118.2 446.6,117.8 446.5,117.2 446.2,116.9 446.1,116.8 445.8,116.6 445.2,116.5 444.8,116.3 444.4,116.2 444.2,116.2 443.8,116.1 443.2,116.0 442.9,115.8 442.8,115.7 442.3,115.2 442.2,115.2 441.8,114.9 441.3,114.8 441.2,114.7 440.8,114.5 440.4,114.2 440.2,114.1 440.1,113.8 440.2,113.2 440.2,113.2 440.8,112.8 440.8,112.8 441.2,112.5 441.6,112.2 441.8,112.1 442.1,111.8 442.2,111.6 442.8,111.6 443.0,111.8 443.2,112.1 443.4,112.2 443.8,112.5 444.2,112.5 444.8,112.4 445.1,112.2 445.2,112.0 445.3,111.8 445.2,111.5 445.2,111.2 445.1,110.8 445.0,110.2 444.9,109.8 444.9,109.2 444.8,108.8 444.7,108.8 444.4,108.2 444.2,108.0 444.0,107.8 443.8,107.6 443.2,107.3 443.1,107.2 442.8,107.0 442.6,106.8 442.3,106.2 442.3,105.8 442.4,105.2 442.6,104.8 442.8,104.5 442.9,104.2 443.2,103.9 443.4,103.8 443.8,103.4 444.0,103.2 444.2,103.0 444.6,102.8 444.8,102.6 445.2,102.3 445.3,102.2 445.8,101.9 446.0,101.8 446.2,101.3 446.3,101.2 446.3,100.8 446.2,100.6 446.2,100.2 446.0,99.8 445.8,99.2 445.8,98.8 445.9,98.2 446.2,97.8 446.6,97.8 446.8,97.7 446.9,97.8 447.2,97.8 447.8,97.9 448.2,98.2 448.3,98.2 448.8,98.5 449.2,98.8 449.2,98.8 449.8,98.9 450.2,98.9 450.8,98.8 450.8,98.8 451.1,98.2 451.2,97.8 451.0,97.2 450.8,96.8 450.7,96.8 450.4,96.2 450.2,95.8 450.2,95.8 450.1,95.2 450.0,94.8 449.8,94.2 449.8,94.1 449.5,93.8 449.2,93.5 448.8,93.3 448.2,93.3 447.9,93.2 447.8,93.2 447.2,93.0 447.1,92.8 446.9,92.2 446.8,91.8 447.0,91.2 447.2,90.9 447.4,90.8 447.8,90.5 448.2,90.3 448.8,90.5 449.2,90.8 449.2,90.8 449.6,91.2 449.8,91.4 450.2,91.7 450.7,91.8 450.8,91.8 450.8,91.8 451.2,91.5 451.4,91.2 451.4,90.8 451.3,90.2 451.2,90.2 451.1,89.8 451.1,89.2 451.2,88.8 451.3,88.8 451.8,88.3 451.8,88.2 452.2,88.1 452.8,88.1 453.1,88.2 453.2,88.3 453.7,88.8 453.8,88.8 454.2,89.2 454.2,89.3 454.8,89.5 455.2,89.7 455.4,89.8 455.8,89.9 456.2,90.0 456.6,90.2 456.8,90.3 457.2,90.7 457.3,90.8 457.8,91.1 458.1,91.2 458.2,91.3 458.6,91.2 458.8,91.1 458.9,90.8 458.8,90.2 458.8,90.0 458.7,89.8 458.6,89.2 458.8,89.1 459.0,88.8 459.2,88.6 459.8,88.4 460.2,88.3 460.6,88.2 460.8,88.2 461.2,88.2 461.2,88.3 461.8,88.5 461.9,88.8 462.2,89.2 462.2,89.3 462.6,89.8 462.8,89.9 463.2,90.2 463.8,90.2 464.2,90.1 464.8,89.9 465.2,89.8 465.2,89.7 465.8,89.5 466.2,89.2 466.2,89.2 466.7,88.8 466.8,88.7 467.2,88.4 467.8,88.3 468.2,88.4 468.8,88.5 469.2,88.7 469.5,88.8 469.8,89.2 469.8,89.2 469.8,89.3 469.6,89.8 469.2,90.1 468.8,90.2 468.2,90.2 467.8,90.2 467.2,90.2 467.1,90.2 466.8,90.6 466.7,90.8 466.6,91.2 466.5,91.8 466.3,92.2 466.2,92.3 466.0,92.8 465.8,93.2 465.7,93.2 465.8,93.4 466.2,93.8 466.2,93.8 466.8,93.8 467.2,93.8 467.8,93.8 468.1,93.8 468.2,93.7 468.8,93.6 469.2,93.5 469.8,93.5 470.2,93.6 470.6,93.8 470.8,93.8 471.2,93.9 471.8,93.8 471.8,93.8 472.2,93.5 472.5,93.2 472.6,92.8 472.2,92.5 471.8,92.2 471.8,92.2 471.4,91.8 471.3,91.2 471.3,90.8 471.4,90.2 471.5,89.8 471.4,89.2 471.3,88.8 471.2,88.4 471.2,88.2 471.2,88.2 471.5,87.8 471.8,87.6 472.2,87.4 472.8,87.4 473.2,87.6 473.5,87.8 473.8,88.0 473.9,88.2 474.2,88.7 474.3,88.8 474.6,89.2 474.8,89.6 474.9,89.8 475.1,90.2 475.2,90.5 475.4,90.8 475.5,91.2 475.6,91.8 475.7,92.2 475.8,92.4 475.9,92.8 476.1,93.2 476.2,93.6 476.4,93.8 476.6,94.2 476.8,94.6 476.8,94.8 477.0,95.2 476.9,95.8 476.8,96.2 476.7,96.2 476.4,96.8 476.2,97.1 476.2,97.2 476.1,97.8 476.1,98.2 476.2,98.8 476.2,98.9 476.4,99.2 476.5,99.8 476.4,100.2 476.2,100.5 476.1,100.8 475.8,101.2 475.7,101.2 475.3,101.8 475.2,102.0 475.2,102.2 475.1,102.8 474.9,103.2 474.9,103.8 475.2,103.9 475.8,103.9 476.2,103.8 476.6,103.8 476.8,103.7 477.2,103.5 477.8,103.5 478.2,103.7 478.3,103.8 478.7,104.2 478.8,104.4 478.9,104.8 479.0,105.2 478.8,105.8 478.8,105.8 478.4,106.2 478.2,106.4 477.9,106.8 477.8,106.9 477.6,107.2 477.4,107.8 477.5,108.2 477.8,108.5 477.9,108.8 478.2,109.1 478.4,109.2 478.8,109.6 478.9,109.8 479.2,110.1 479.5,110.2 479.8,110.4 480.2,110.4 480.8,110.3 480.9,110.2 481.2,110.1 481.8,109.8 481.8,109.8 482.2,109.5 482.8,109.3 482.9,109.2 483.2,109.2 483.3,109.2 483.8,109.4 484.0,109.8 484.2,110.2 484.2,110.3 484.3,110.8 484.2,110.8 484.1,111.2 483.8,111.7 483.7,111.8 483.2,112.0 482.8,112.2 482.5,112.2 482.2,112.3 481.8,112.6 481.5,112.8 481.2,113.0 481.0,113.2 481.0,113.8 481.2,114.2 481.2,114.4 481.5,114.8 481.8,115.0 481.9,115.2 482.1,115.8 482.2,116.2 482.2,116.6 482.3,116.8 482.3,117.2 482.2,117.3 482.2,117.8 482.1,118.2 482.1,118.8 482.0,119.2 482.0,119.8 481.9,120.2 481.8,120.8 481.8,121.1 481.7,121.2 481.4,121.8 481.2,121.9 480.8,122.0 480.4,121.8 480.2,121.6 479.9,121.2 479.8,121.2 479.2,121.1 478.8,121.2 478.7,121.2 478.2,121.5 477.8,121.6 477.2,121.6 476.8,121.6 476.2,121.6 475.8,121.7 475.7,121.8 475.3,122.2 475.6,122.8 475.8,122.9 476.0,123.2 476.1,123.8 476.2,124.2 476.1,124.8 475.9,125.2 475.8,125.7 475.7,125.8 475.8,126.1 475.8,126.2 476.2,126.4 476.8,126.7 477.0,126.8 477.2,126.9 477.8,127.1 478.2,127.1 478.7,126.8 478.8,126.7 479.0,126.2 479.2,125.8 479.3,125.8 479.7,125.2 479.8,125.2 480.2,125.0 480.8,125.1 480.8,125.2 481.2,125.8 481.2,125.8 481.4,126.2 481.2,126.4 480.8,126.7 480.7,126.8 480.2,126.9 479.8,127.2 479.6,127.2 479.2,127.4 478.8,127.7 478.7,127.8 478.2,127.9 477.8,128.2 477.8,128.3 477.2,128.6 477.1,128.8 476.9,129.2 476.9,129.8 477.0,130.2 477.1,130.8 477.2,131.0 477.4,131.2 477.6,131.8 477.6,132.2 477.2,132.6 476.8,132.6 476.2,132.5 475.8,132.3 475.5,132.2 475.2,132.2 474.8,132.2 474.6,132.2 474.2,132.4 473.9,132.8 473.8,132.9 473.5,133.2 473.3,133.8 473.4,134.2 473.5,134.8 473.5,135.2 473.6,135.8 473.5,136.2 473.5,136.8 473.5,137.2 473.3,137.8 473.2,137.9 473.1,138.2 472.8,138.6 472.5,138.8 472.2,138.9 471.8,139.0 471.2,138.9 470.8,138.8 470.8,138.7 470.2,138.5 470.0,138.2 469.8,137.8 469.7,137.8 469.5,137.2 469.4,136.8 469.3,136.2 469.2,136.2 469.2,136.2 469.0,136.8 468.8,136.9 468.6,137.2 468.3,137.8 468.2,137.8 467.9,138.2 467.8,138.4 467.3,138.8 467.2,138.8 466.8,139.1 466.6,139.2 466.2,139.5 466.0,139.8 465.8,140.0 465.4,140.2 465.2,140.4 464.8,140.5 464.2,140.3 464.2,140.2 463.8,139.8 463.8,139.6 463.5,139.2 463.2,139.1 462.8,139.0 462.2,138.9 461.8,138.8 461.6,138.8 461.2,138.7 460.8,138.6 460.2,138.4 460.1,138.2 459.8,138.0 459.5,137.8 459.2,137.5 458.8,137.3 458.5,137.2 458.2,137.2 458.0,137.2 457.8,137.3 457.2,137.5 456.8,137.7 456.2,137.7 455.8,137.7 455.5,137.8 455.2,137.8 455.0,138.2 454.8,138.8 454.8,139.0 454.7,139.2 454.4,139.8 454.2,140.0 454.1,140.2 453.8,140.6 453.6,140.8 453.2,141.1 453.1,141.2 452.8,141.5 452.4,141.8 452.2,141.8 M445.8,95.9 445.5,95.8 445.2,95.5 445.1,95.2 445.2,94.8 445.2,94.7 445.7,94.2 445.8,94.2 446.2,94.2 446.3,94.2 446.5,94.8 446.4,95.2 446.2,95.6 446.0,95.8 445.8,95.9 M442.8,98.3 442.2,98.4 441.8,98.5 441.2,98.5 440.8,98.3 440.6,98.2 440.2,97.8 440.2,97.8 440.0,97.2 439.9,96.8 439.9,96.2 440.0,95.8 440.2,95.4 440.4,95.2 440.8,95.0 441.2,94.8 441.2,94.7 441.8,94.6 442.2,94.5 442.8,94.7 442.8,94.8 443.2,95.1 443.5,95.2 443.8,95.6 443.9,95.8 444.1,96.2 444.2,96.8 444.1,97.2 443.8,97.7 443.7,97.8 443.2,98.1 442.8,98.2 442.8,98.3 M472.7,98.8 472.8,98.6 472.9,98.2 473.2,97.8 473.2,97.7 473.6,97.2 473.8,96.9 473.9,96.8 474.1,96.2 474.0,95.8 473.8,95.6 473.2,95.5 472.8,95.6 472.5,95.8 472.2,95.9 472.0,96.2 471.8,96.5 471.6,96.8 471.2,97.1 471.0,97.2 470.8,97.6 470.6,97.8 470.6,98.2 470.8,98.4 471.1,98.8 471.2,98.9 471.8,99.1 472.2,99.1 472.7,98.8 M481.8,98.7 481.2,98.7 480.8,98.2 480.8,98.2 480.5,97.8 480.3,97.2 480.3,96.8 480.6,96.2 480.8,96.1 481.2,96.0 481.8,96.1 481.9,96.2 482.2,96.7 482.3,96.8 482.4,97.2 482.4,97.8 482.2,98.1 482.1,98.2 481.8,98.7 M480.2,102.4 479.8,102.4 479.2,102.5 478.8,102.5 478.2,102.4 478.0,102.2 477.8,102.1 477.5,101.8 477.4,101.2 477.4,100.8 477.6,100.2 477.8,100.0 477.9,99.8 478.2,99.5 478.8,99.3 479.2,99.3 479.8,99.4 480.2,99.6 480.6,99.8 480.8,99.8 481.1,100.2 481.2,100.6 481.3,100.8 481.4,101.2 481.2,101.6 481.2,101.8 480.8,102.2 480.7,102.2 480.2,102.4 M487.2,107.9 486.8,108.2 486.2,108.2 485.8,108.0 485.4,107.8 485.2,107.3 485.2,107.2 485.2,107.2 485.4,106.8 485.8,106.4 486.0,106.2 486.2,106.1 486.8,105.9 487.2,105.8 487.8,105.8 488.1,106.2 488.0,106.8 487.8,107.2 487.8,107.3 487.4,107.8 487.2,107.9 M479.0,113.2 479.0,112.8 478.8,112.4 478.4,112.2 478.2,112.2 478.0,112.2 477.8,112.3 477.3,112.8 477.2,112.8 477.2,113.2 477.2,113.3 477.8,113.6 478.2,113.7 478.8,113.5 479.0,113.2 M468.8,142.5 468.2,142.6 467.8,142.5 467.2,142.3 467.2,142.2 466.9,141.8 467.1,141.2 467.2,141.1 467.7,140.8 467.8,140.7 468.2,140.6 468.8,140.6 469.0,140.8 469.2,141.1 469.3,141.2 469.3,141.8 469.2,141.8 469.0,142.2 468.8,142.5" fill="none" stroke="#000" stroke-width="1.0" stroke-linejoin="round"/>
<path d="M456.2,86.8 455.8,86.9 455.6,86.8 455.8,86.3 456.2,86.7 456.3,86.8 456.2,86.8 M473.8,91.4 473.2,91.3 473.1,91.2 472.8,90.9 472.6,90.8 472.6,90.2 472.6,89.8 472.7,89.2 472.8,89.2 473.2,89.1 473.4,89.2 473.8,89.6 473.8,89.8 474.1,90.2 474.2,90.6 474.3,90.8 474.2,91.0 474.1,91.2 473.8,91.4 M467.2,137.9 466.8,138.1 466.2,138.2 465.8,137.8 465.8,137.6 465.6,137.2 465.5,136.8 465.5,136.2 465.6,135.8 465.5,135.2 465.2,135.1 464.8,134.8 464.6,134.8 464.2,134.6 463.8,134.5 463.2,134.7 463.1,134.8 462.8,135.0 462.3,135.2 462.2,135.3 461.8,135.6 461.2,135.7 460.8,135.5 460.2,135.4 459.8,135.6 459.4,135.8 459.2,135.8 458.8,135.9 458.2,135.8 458.1,135.8 457.8,135.2 457.8,135.2 457.6,134.8 457.4,134.2 457.2,134.0 457.0,133.8 456.8,133.6 456.2,133.6 455.9,133.8 455.8,133.8 455.2,134.0 454.8,134.1 454.2,133.9 454.1,133.8 453.9,133.2 453.8,132.8 453.8,132.5 453.7,132.2 453.5,131.8 453.3,131.2 453.3,130.8 453.3,130.2 453.3,129.8 453.2,129.6 453.1,129.2 452.8,129.1 452.2,128.9 451.9,128.8 451.8,128.7 451.2,128.4 451.0,128.2 450.8,128.1 450.4,127.8 450.2,127.6 449.9,127.2 449.8,127.0 449.5,126.8 449.2,126.3 449.2,126.2 449.1,125.8 449.0,125.2 448.8,124.8 448.8,124.5 448.7,124.2 448.5,123.8 448.3,123.2 448.4,122.8 448.7,122.2 448.8,122.1 449.0,121.8 449.1,121.2 449.0,120.8 448.8,120.3 448.7,120.2 448.4,119.8 448.2,119.5 448.0,119.2 447.8,118.8 447.8,118.5 447.7,118.2 447.5,117.8 447.4,117.2 447.2,116.9 447.2,116.8 447.0,116.2 446.8,115.9 446.5,115.8 446.2,115.6 445.8,115.6 445.2,115.5 444.8,115.4 444.5,115.2 444.2,115.0 444.0,114.8 444.0,114.2 444.2,114.0 444.6,113.8 444.8,113.7 445.2,113.6 445.7,113.8 445.8,113.8 446.2,114.0 446.8,114.2 446.9,114.2 447.2,114.3 447.3,114.2 447.8,114.1 448.2,113.8 448.4,113.8 448.8,113.5 449.2,113.2 449.2,113.2 449.7,112.8 449.8,112.7 450.1,112.2 450.2,112.0 450.3,111.8 450.4,111.2 450.2,110.8 450.2,110.8 449.9,110.2 449.8,110.1 449.5,109.8 449.2,109.4 449.2,109.2 448.8,108.8 448.8,108.6 448.5,108.2 448.4,107.8 448.3,107.2 448.2,107.1 448.2,106.8 448.0,106.2 447.8,105.8 447.7,105.8 447.3,105.2 447.2,105.2 446.8,104.8 446.6,104.8 446.2,104.5 445.8,104.5 445.2,104.6 445.1,104.8 444.8,104.9 444.2,105.2 444.1,104.8 444.2,104.6 444.5,104.2 444.8,104.1 445.2,103.8 445.2,103.7 445.8,103.5 446.2,103.5 446.8,103.5 447.2,103.5 447.8,103.3 447.9,103.2 448.2,103.1 448.8,103.0 449.2,102.9 449.8,102.9 450.2,102.9 450.8,102.8 450.8,102.8 451.2,102.5 451.8,102.4 452.2,102.4 452.8,102.5 453.2,102.6 453.8,102.5 453.9,102.2 453.9,101.8 453.9,101.2 454.0,100.8 454.1,100.2 454.0,99.8 453.8,99.5 453.2,99.4 452.8,99.5 452.2,99.3 452.2,99.2 452.2,98.8 452.2,98.2 452.2,97.8 452.2,97.4 452.3,97.2 452.2,97.2 452.2,96.8 451.8,96.2 452.2,95.9 452.8,96.2 453.2,96.0 453.4,95.8 453.8,95.4 453.8,95.2 454.2,94.8 454.2,94.6 454.5,94.2 454.8,93.8 454.8,93.8 454.8,93.5 454.5,93.2 454.2,93.2 454.0,93.2 453.8,93.3 453.2,93.4 452.8,93.7 452.7,93.8 452.3,94.2 452.2,94.3 452.0,94.8 452.0,95.2 452.2,95.8 451.8,96.2 451.4,95.8 451.2,95.5 451.2,95.2 451.0,94.8 450.8,94.2 450.8,93.9 450.7,93.8 450.8,93.5 450.8,93.2 451.2,92.9 451.4,92.8 451.8,92.6 452.1,92.2 452.2,91.9 452.3,91.8 452.4,91.2 452.5,90.8 452.7,90.2 452.8,90.0 453.2,89.9 453.8,90.0 454.2,90.2 454.3,90.2 454.8,90.4 455.2,90.7 455.4,90.8 455.8,91.0 456.1,91.2 456.2,91.4 456.7,91.8 456.8,91.8 457.2,92.1 457.5,92.2 457.8,92.4 458.2,92.7 458.5,92.8 458.8,92.9 459.2,92.9 459.5,92.8 459.8,92.5 459.9,92.2 460.1,91.8 460.2,91.5 460.4,91.2 460.8,90.9 461.2,90.8 461.8,91.0 462.2,91.2 462.5,91.2 462.8,91.3 463.2,91.4 463.8,91.4 464.2,91.3 464.8,91.3 465.1,91.8 464.8,92.2 464.8,92.3 464.4,92.8 464.2,93.0 464.2,93.2 464.2,93.8 464.2,94.2 464.2,94.8 464.0,95.2 463.9,95.8 463.9,96.2 464.1,96.8 464.2,97.2 464.3,97.2 464.5,97.8 464.8,98.0 465.2,98.0 465.5,97.8 465.8,97.6 466.0,97.2 466.2,97.0 466.5,96.8 466.8,96.3 466.8,96.2 466.9,95.8 467.1,95.2 467.2,95.1 467.7,94.8 467.8,94.7 468.2,94.5 468.8,94.4 469.2,94.4 469.8,94.4 470.2,94.6 470.5,94.8 470.8,94.9 471.0,95.2 471.1,95.8 470.9,96.2 470.8,96.5 470.4,96.8 470.2,96.9 469.8,97.2 469.7,97.2 469.6,97.8 469.7,98.2 469.8,98.4 470.0,98.8 470.2,99.1 470.5,99.2 470.8,99.4 471.2,99.7 471.3,99.8 471.8,100.0 472.2,100.0 472.8,100.0 473.2,99.8 473.2,99.7 473.5,99.2 473.7,98.8 473.8,98.6 474.0,98.2 474.2,98.0 474.8,97.9 475.1,98.2 475.2,98.5 475.3,98.8 475.5,99.2 475.5,99.8 475.3,100.2 475.2,100.3 474.9,100.8 474.8,101.0 474.6,101.2 474.5,101.8 474.5,102.2 474.3,102.8 474.2,102.8 473.9,103.2 473.8,103.4 473.2,103.7 473.1,103.8 472.8,104.0 472.6,104.2 472.5,104.8 472.5,105.2 472.7,105.8 472.8,105.8 473.2,106.1 473.8,106.1 474.2,106.1 474.8,105.8 474.8,105.8 475.2,105.5 475.6,105.2 475.8,105.2 476.2,105.1 476.7,105.2 476.8,105.4 476.8,105.8 476.8,105.9 476.5,106.2 476.2,106.5 475.8,106.8 475.8,106.8 475.2,106.8 474.8,106.9 474.3,107.2 474.2,107.3 473.9,107.8 473.8,108.0 473.7,108.2 473.6,108.8 473.7,109.2 473.8,109.4 474.0,109.8 474.2,110.0 474.5,110.2 474.8,110.5 475.0,110.8 475.1,111.2 474.8,111.8 474.8,111.8 474.2,112.2 474.2,112.2 473.8,112.8 473.8,112.9 473.6,113.2 473.4,113.8 473.4,114.2 473.6,114.8 473.8,115.0 473.9,115.2 474.2,115.8 474.2,115.9 474.8,115.8 474.8,115.8 475.2,115.2 475.2,115.2 475.8,114.8 475.8,114.8 476.2,114.5 476.8,114.5 477.2,114.5 477.8,114.7 478.0,114.8 478.2,114.9 478.6,115.2 478.8,115.6 478.8,115.8 478.8,116.2 478.8,116.8 479.2,117.2 479.3,117.2 479.8,117.4 480.2,117.5 480.7,117.8 480.8,117.8 481.1,118.2 481.2,118.8 481.1,119.2 480.8,119.7 480.6,119.8 480.2,119.8 479.8,119.8 479.6,119.8 479.2,119.6 478.8,119.3 478.7,119.2 478.4,118.8 478.4,118.2 478.2,117.8 478.2,117.8 477.8,117.6 477.2,117.7 477.2,117.8 476.8,118.2 476.8,118.8 476.8,119.2 476.8,119.8 476.8,119.8 476.6,120.2 476.2,120.5 475.9,120.8 475.8,120.8 475.2,121.1 474.9,121.2 474.8,121.4 474.2,121.7 474.2,121.8 473.8,122.2 473.7,122.2 473.2,122.5 472.8,122.7 472.2,122.7 471.8,122.6 471.2,122.5 471.0,122.8 470.8,123.0 470.7,123.2 470.6,123.8 470.6,124.2 470.5,124.8 470.2,125.2 470.2,125.2 470.1,125.8 470.0,126.2 470.1,126.8 470.2,126.9 470.5,127.2 470.8,127.4 471.1,127.8 471.2,127.8 471.8,128.2 471.9,128.2 472.2,128.4 472.8,128.5 473.2,128.7 473.4,128.8 473.8,128.9 474.2,129.2 474.3,129.2 474.6,129.8 474.5,130.2 474.2,130.6 474.2,130.8 473.8,131.2 473.8,131.3 473.3,131.8 473.2,131.8 472.8,132.2 472.8,132.3 472.2,132.6 471.8,132.7 471.2,132.6 470.8,132.6 470.2,132.6 469.9,132.8 469.8,132.8 469.2,133.0 468.8,133.2 468.6,133.2 468.2,133.4 467.8,133.8 467.8,133.8 467.4,134.2 467.3,134.8 467.6,135.2 467.8,135.5 467.9,135.8 468.0,136.2 467.9,136.8 467.8,137.2 467.8,137.3 467.4,137.8 467.2,137.9 M458.5,95.2 458.7,94.8 458.2,94.3 457.8,94.6 457.7,94.8 457.7,95.2 457.8,95.3 458.2,95.7 458.5,95.2 M442.8,96.9 442.2,97.2 441.8,97.1 441.5,96.8 441.5,96.2 441.8,96.0 442.2,95.9 442.7,96.2 442.8,96.3 442.8,96.8 442.8,96.9 M449.8,100.8 449.2,100.8 448.8,100.8 448.8,100.7 448.2,100.5 447.8,100.2 447.8,99.8 447.7,99.8 447.8,99.7 448.2,99.6 448.8,99.7 448.9,99.8 449.2,99.9 449.8,100.0 450.2,100.1 450.8,100.2 450.9,100.2 450.8,100.4 450.2,100.7 450.1,100.8 449.8,100.8 M477.8,110.8 477.2,111.0 476.8,110.9 476.5,110.8 476.4,110.2 476.7,109.8 476.8,109.7 477.2,109.7 477.4,109.8 477.8,110.0 477.9,110.2 477.8,110.8 477.8,110.8 M470.9,117.2 470.8,117.1 470.2,117.2 470.2,117.2 470.2,117.3 470.8,117.5 470.9,117.2 M445.8,123.8 445.2,123.9 444.8,123.9 444.2,123.9 443.8,123.9 443.7,123.8 443.8,123.7 444.0,123.2 444.2,122.8 444.2,122.7 444.4,122.2 444.6,121.8 444.8,121.4 444.8,121.2 445.2,121.0 445.8,121.0 446.2,121.2 446.2,121.3 446.7,121.8 446.8,121.8 447.0,122.2 447.0,122.8 446.8,123.1 446.6,123.2 446.2,123.6 445.9,123.8 445.8,123.8 M472.8,126.3 472.7,126.2 472.4,125.8 472.5,125.2 472.8,125.0 473.1,124.8 473.2,124.6 473.7,124.2 473.8,124.2 474.2,124.0 474.8,124.0 474.9,124.2 474.8,124.6 474.7,124.8 474.2,125.1 474.1,125.2 473.8,125.7 473.7,125.8 473.2,126.2 473.0,126.2 472.8,126.3 M459.6,129.2 459.7,128.8 459.2,128.5 458.8,128.6 458.3,128.8 458.3,129.2 458.8,129.4 459.2,129.4 459.6,129.2 M451.8,132.8 451.5,132.8 451.2,132.7 450.8,132.5 450.6,132.2 450.7,131.8 450.8,131.7 451.2,131.7 451.4,131.8 451.8,132.0 452.0,132.2 451.8,132.8 451.8,132.8 M452.2,140.8 451.8,140.9 451.5,140.8 451.2,140.6 451.0,140.2 450.8,139.8 450.8,139.2 450.8,138.8 450.8,138.2 450.8,138.0 450.7,137.8 450.6,137.2 450.6,136.8 450.8,136.5 450.9,136.2 451.2,135.9 451.8,135.8 452.2,136.0 452.4,136.2 452.8,136.7 452.8,136.8 453.2,137.2 453.2,137.3 453.6,137.8 453.8,138.2 453.8,138.2 453.8,138.7 453.7,138.8 453.6,139.2 453.3,139.8 453.2,139.9 452.9,140.2 452.8,140.4 452.3,140.8 452.2,140.8 M461.8,137.4 461.2,137.3 461.2,137.2 460.9,136.8 461.1,136.2 461.2,136.0 461.7,136.2 461.8,136.3 462.1,136.8 462.0,137.2 461.8,137.4 M471.8,137.8 471.2,137.8 471.2,137.8 471.0,137.2 471.2,136.8 471.3,136.8 471.8,136.7 471.8,136.8 472.1,137.2 471.8,137.8 471.8,137.8" fill="none" stroke="#000" stroke-width="1.0" stroke-linejoin="round"/>
<path d="M462.8,94.3 462.7,94.2 462.2,93.8 462.2,93.8 462.2,93.7 462.8,93.7 462.8,93.8 462.8,94.2 462.8,94.3 M463.8,132.3 463.2,132.5 462.8,132.7 462.2,132.7 462.1,132.2 461.8,131.8 461.7,131.8 461.3,131.2 461.2,131.2 461.0,130.8 460.9,130.2 461.0,129.8 461.2,129.2 461.2,129.1 461.3,128.8 461.3,128.2 461.2,128.2 461.0,127.8 460.8,127.3 460.7,127.2 460.6,126.8 460.7,126.2 460.6,125.8 460.2,125.4 459.8,125.4 459.4,125.8 459.2,126.1 459.2,126.2 458.8,126.8 458.8,126.8 458.2,127.0 457.8,127.1 457.2,127.1 456.8,127.2 456.8,127.3 456.2,127.5 455.8,127.7 455.6,127.8 455.2,127.9 454.8,127.9 454.2,127.9 453.8,127.9 453.2,127.9 452.8,127.8 452.7,127.8 452.2,127.5 452.0,127.2 451.8,127.0 451.6,126.8 451.2,126.3 451.2,126.2 450.8,125.8 450.7,125.8 450.3,125.2 450.2,125.1 450.1,124.8 449.8,124.2 449.8,124.1 449.6,123.8 449.5,123.2 449.6,122.8 449.8,122.6 450.2,122.2 450.2,122.2 450.8,122.0 451.2,122.0 451.6,121.8 451.6,121.2 451.2,121.2 450.8,121.1 450.2,120.8 450.2,120.8 449.8,120.3 449.7,120.2 449.4,119.8 449.2,119.5 449.1,119.2 449.0,118.8 448.8,118.2 448.8,118.0 448.7,117.8 448.4,117.2 448.2,116.9 448.2,116.8 448.1,116.2 448.2,115.8 448.2,115.6 448.7,115.2 448.8,115.2 449.2,115.1 449.5,115.2 449.8,115.4 450.1,115.8 450.2,116.0 450.6,116.2 450.8,116.4 451.2,116.4 451.7,116.2 451.8,116.2 452.2,116.0 452.5,115.8 452.8,115.5 452.9,115.2 453.0,114.8 453.1,114.2 453.1,113.8 453.1,113.2 452.8,113.0 452.2,112.8 452.2,112.8 451.8,112.2 451.8,112.1 451.7,111.8 451.6,111.2 451.3,110.8 451.2,110.7 450.9,110.2 450.8,110.0 450.6,109.8 450.3,109.2 450.2,109.0 450.2,108.8 450.1,108.2 450.0,107.8 449.8,107.2 449.8,107.2 449.5,106.8 449.3,106.2 449.2,106.2 449.1,105.8 448.9,105.2 448.8,104.8 449.0,104.2 449.2,104.1 449.8,104.0 450.2,103.9 450.5,103.8 450.8,103.7 451.2,103.4 451.8,103.3 452.2,103.3 452.8,103.4 453.2,103.7 453.6,103.8 453.8,103.8 454.1,103.8 454.2,103.7 454.8,103.3 454.8,103.2 455.0,102.8 455.1,102.2 455.0,101.8 455.0,101.2 455.1,100.8 455.2,100.4 455.3,100.2 455.5,99.8 455.5,99.2 455.2,98.8 455.2,98.8 454.8,98.4 454.6,98.2 454.2,97.8 454.2,97.8 454.0,97.2 454.0,96.8 454.1,96.2 454.2,95.9 454.3,95.8 454.7,95.2 454.8,95.2 455.2,94.8 455.3,94.8 455.8,94.6 456.2,94.8 456.2,94.8 456.6,95.2 456.8,95.5 456.9,95.8 457.0,96.2 457.1,96.8 457.1,97.2 457.2,97.8 457.2,97.8 457.7,98.2 457.8,98.3 458.2,98.3 458.6,98.2 458.8,98.2 459.2,97.8 459.3,97.8 459.4,97.2 459.5,96.8 459.5,96.2 459.7,95.8 459.8,95.7 460.2,95.3 460.6,95.2 460.8,95.2 460.8,95.2 461.2,95.3 461.8,95.5 462.1,95.8 462.2,95.8 462.7,96.2 462.8,96.3 463.0,96.8 463.2,97.1 463.3,97.2 463.5,97.8 463.5,98.2 463.6,98.8 463.6,99.2 463.8,99.7 463.8,99.8 464.2,100.2 464.2,100.4 464.5,100.8 464.5,101.2 464.4,101.8 464.2,101.9 463.8,102.2 463.2,102.2 462.8,101.8 462.7,101.8 462.4,101.2 462.2,101.1 461.8,100.9 461.2,101.1 461.1,101.2 460.8,101.6 460.7,101.8 460.5,102.2 460.8,102.4 461.2,102.5 461.8,102.5 462.2,102.6 462.5,102.8 462.8,102.9 462.9,103.2 463.1,103.8 463.2,104.1 463.3,104.2 463.4,104.8 463.6,105.2 463.7,105.8 463.8,105.8 464.2,106.0 464.8,105.8 464.8,105.8 465.1,105.2 465.2,105.0 465.3,104.8 465.5,104.2 465.7,103.8 465.8,103.6 465.9,103.2 466.2,102.9 466.4,102.8 466.8,102.4 467.1,102.2 467.2,102.2 467.8,101.9 468.0,101.8 468.2,101.3 468.3,101.2 468.2,101.2 468.0,100.8 467.8,100.6 467.2,100.3 467.2,100.2 466.8,99.9 466.5,99.8 466.3,99.2 466.4,98.8 466.7,98.2 466.8,98.1 467.2,97.8 467.2,97.7 467.8,97.5 468.2,97.6 468.4,97.8 468.8,98.2 468.8,98.2 469.0,98.8 469.2,99.2 469.2,99.4 469.5,99.8 469.8,100.0 470.2,100.2 470.2,100.3 470.8,100.7 471.0,100.8 471.2,100.9 471.8,101.0 472.2,100.9 472.8,101.0 473.2,101.1 473.4,101.2 473.6,101.8 473.5,102.2 473.2,102.6 472.9,102.8 472.8,102.8 472.2,102.8 472.1,102.8 471.8,102.6 471.2,102.3 471.2,102.2 470.8,102.0 470.2,102.1 470.0,102.2 470.2,102.7 470.3,102.8 470.8,103.2 470.8,103.2 471.0,103.8 471.0,104.2 470.9,104.8 470.8,105.2 470.8,105.6 470.7,105.8 470.8,105.8 470.8,106.2 470.8,106.8 470.8,107.2 470.9,107.8 471.2,108.2 471.2,108.3 471.8,108.5 472.0,108.8 472.2,109.1 472.3,109.2 472.5,109.8 472.7,110.2 472.8,110.4 472.9,110.8 473.0,111.2 472.9,111.8 472.8,112.0 472.5,112.2 472.2,112.7 472.1,112.8 471.8,113.2 471.3,113.2 471.2,113.3 471.2,113.2 471.0,112.8 470.8,112.5 470.5,112.2 470.2,112.1 469.8,111.9 469.4,111.8 469.2,111.7 468.8,111.7 468.5,111.8 468.2,111.8 467.8,112.2 467.7,112.2 467.5,112.8 467.6,113.2 467.8,113.4 468.2,113.6 468.8,113.7 468.8,113.8 469.2,113.9 469.8,114.1 470.0,114.2 470.1,114.8 469.9,115.2 469.8,115.6 469.7,115.8 469.4,116.2 469.2,116.4 469.1,116.8 468.9,117.2 468.8,117.8 468.8,118.2 468.9,118.8 469.1,119.2 469.2,119.5 469.4,119.8 469.6,120.2 469.6,120.8 469.6,121.2 469.6,121.8 469.5,122.2 469.2,122.7 469.2,122.8 468.8,123.1 468.2,123.0 467.8,122.8 467.8,122.7 467.2,122.3 467.2,122.2 466.8,122.0 466.4,122.2 466.2,122.4 466.2,122.8 466.0,123.2 465.8,123.7 465.7,123.8 465.4,124.2 465.2,124.5 465.0,124.8 464.8,125.0 464.3,125.2 464.2,125.3 463.8,125.7 463.7,125.8 463.3,126.2 463.3,126.8 463.3,127.2 463.5,127.8 463.8,128.1 463.8,128.2 464.2,128.7 464.3,128.8 464.7,129.2 464.8,129.3 465.0,129.8 465.1,130.2 465.2,130.8 465.1,131.2 464.8,131.8 464.8,131.8 464.2,132.1 464.0,132.2 463.8,132.3 M459.8,105.2 460.0,104.8 460.0,104.2 460.0,103.8 460.0,103.2 459.9,102.8 459.8,102.7 459.2,102.7 459.1,102.8 458.8,102.9 458.2,103.1 457.8,103.2 457.7,103.2 457.2,103.5 456.9,103.8 456.8,103.9 456.5,104.2 456.2,104.7 456.2,104.8 456.2,104.8 456.8,105.1 457.0,105.2 457.2,105.3 457.8,105.4 458.2,105.6 458.8,105.7 459.2,105.7 459.8,105.4 459.8,105.2 M474.2,120.8 473.8,121.1 473.2,121.2 472.8,121.2 472.4,120.8 472.2,120.4 472.2,120.2 472.1,119.8 472.2,119.2 472.2,119.2 472.8,118.8 473.0,118.8 473.2,118.6 473.8,118.5 474.2,118.5 474.8,118.4 475.2,118.4 475.7,118.8 475.8,118.9 475.9,119.2 475.8,119.8 475.8,119.8 475.3,120.2 475.2,120.3 474.8,120.6 474.4,120.8 474.2,120.8 M468.2,127.3 467.8,127.5 467.2,127.5 466.8,127.5 466.4,127.2 466.2,126.9 466.2,126.8 466.2,126.6 466.4,126.2 466.7,125.8 466.8,125.7 467.2,125.3 467.4,125.2 467.8,125.1 468.2,125.0 468.7,125.2 468.8,125.4 468.8,125.8 468.8,126.0 468.7,126.2 468.6,126.8 468.3,127.2 468.2,127.3 M471.2,131.4 470.8,131.5 470.2,131.5 469.8,131.5 469.2,131.5 468.8,131.4 468.3,131.2 468.3,130.8 468.5,130.2 468.6,129.8 468.6,129.2 468.7,128.8 468.8,128.4 468.8,128.2 469.2,127.9 469.8,128.0 470.2,128.2 470.3,128.2 470.8,128.6 470.9,128.8 471.2,129.0 471.5,129.2 471.8,129.5 472.1,129.8 472.2,130.0 472.4,130.2 472.2,130.6 472.2,130.8 471.8,131.2 471.6,131.2 471.2,131.4 M459.2,133.5 458.8,133.5 458.4,133.2 458.2,133.0 458.1,132.8 458.0,132.2 457.9,131.8 458.2,131.6 458.8,131.7 459.0,131.8 459.2,131.9 459.5,132.2 459.8,132.7 459.8,132.8 459.8,133.0 459.7,133.2 459.2,133.5 M466.2,133.5 465.8,133.5 465.5,133.2 465.5,132.8 465.8,132.4 466.2,132.2 466.2,132.2 466.8,132.2 466.9,132.2 466.9,132.8 466.8,133.0 466.6,133.2 466.2,133.5" fill="none" stroke="#000" stroke-width="1.0" stroke-linejoin="round"/>
<path d="M455.8,97.3 455.4,97.2 455.2,97.2 455.0,96.8 455.1,96.2 455.2,96.0 455.8,95.9 456.0,96.2 456.1,96.8 455.8,97.2 455.8,97.3 M457.8,102.3 457.2,102.3 456.8,102.3 456.7,102.2 456.2,101.9 456.2,101.8 456.0,101.2 456.1,100.8 456.2,100.5 456.4,100.2 456.8,99.9 456.9,99.8 457.2,99.6 457.8,99.4 458.2,99.4 458.8,99.3 459.2,99.3 459.5,99.2 459.8,99.2 460.2,98.8 460.2,98.7 460.4,98.2 460.6,97.8 460.8,97.3 460.8,97.2 461.2,96.9 461.8,97.0 462.1,97.2 462.2,97.4 462.4,97.8 462.4,98.2 462.2,98.7 462.2,98.8 461.8,99.2 461.8,99.3 461.2,99.5 460.9,99.8 460.8,99.8 460.4,100.2 460.2,100.4 459.9,100.8 459.8,101.0 459.5,101.2 459.2,101.4 458.9,101.8 458.8,101.8 458.2,102.1 457.9,102.2 457.8,102.3 M467.2,106.5 466.8,106.7 466.2,106.3 466.2,106.2 466.1,105.8 466.1,105.2 466.2,104.8 466.2,104.7 466.5,104.2 466.8,103.9 467.0,103.8 467.2,103.6 467.8,103.7 467.8,103.8 468.2,104.2 468.3,104.2 468.4,104.8 468.3,105.2 468.2,105.3 467.9,105.8 467.8,106.0 467.4,106.2 467.2,106.5 M454.8,126.3 454.2,126.5 453.8,126.5 453.2,126.3 453.2,126.2 453.2,126.2 453.5,125.8 453.8,125.6 454.0,125.2 454.2,124.8 454.2,124.2 454.2,124.0 454.3,123.8 454.4,123.2 454.5,122.8 454.8,122.4 454.9,122.2 455.2,121.8 455.2,121.6 455.4,121.2 455.8,120.8 455.8,120.8 456.2,120.2 456.2,120.2 456.6,119.8 456.8,119.6 457.1,119.2 457.2,119.2 457.8,118.9 458.1,118.8 458.2,118.7 458.8,118.4 459.2,118.3 459.3,118.2 459.8,118.1 460.2,117.9 460.4,117.8 460.2,117.6 460.1,117.2 459.9,116.8 459.9,116.2 459.9,115.8 460.1,115.2 460.2,114.9 460.4,114.8 460.8,114.5 461.0,114.2 461.0,113.8 460.8,113.4 460.2,113.4 460.1,113.8 459.8,114.1 459.6,114.2 459.2,114.4 458.8,114.5 458.2,114.6 457.8,114.7 457.5,114.8 457.2,114.9 456.8,115.2 456.8,115.3 456.4,115.8 456.2,116.0 456.1,116.2 455.9,116.8 455.8,117.0 455.6,117.2 455.3,117.8 455.2,117.8 454.8,118.1 454.4,118.2 454.2,118.3 453.8,118.5 453.2,118.7 453.1,118.8 452.8,118.9 452.2,119.2 452.0,119.2 451.8,119.3 451.2,119.3 451.0,119.2 450.8,118.8 450.9,118.2 451.2,117.9 451.4,117.8 451.8,117.5 452.1,117.2 452.2,117.2 452.8,117.0 453.1,116.8 453.2,116.7 453.6,116.2 453.8,116.1 453.9,115.8 454.2,115.2 454.2,115.2 454.8,114.8 454.9,114.8 455.2,114.5 455.4,114.2 455.6,113.8 455.6,113.2 455.6,112.8 455.8,112.4 455.8,112.2 456.2,111.8 456.3,111.8 456.8,111.5 457.2,111.4 457.8,111.3 458.0,111.2 458.2,111.2 458.8,111.1 459.2,111.1 459.8,111.1 460.2,111.2 460.8,110.9 460.8,110.8 460.9,110.2 460.9,109.8 460.8,109.5 460.6,109.2 460.2,108.8 460.2,108.8 459.8,108.6 459.2,108.7 459.0,108.8 458.8,108.8 458.2,108.9 457.8,108.9 457.2,108.8 457.2,108.8 456.8,108.2 456.8,108.2 456.6,107.8 456.6,107.2 456.7,106.8 456.8,106.7 457.2,106.3 457.4,106.2 457.8,106.2 458.0,106.2 458.2,106.3 458.8,106.4 459.2,106.5 459.8,106.6 460.2,106.4 460.4,106.2 460.8,105.9 460.9,105.8 461.1,105.2 461.1,104.8 461.2,104.3 461.3,104.2 461.8,104.1 461.9,104.2 462.2,104.8 462.2,105.2 462.0,105.8 462.0,106.2 462.2,106.8 462.2,106.8 462.6,107.2 462.8,107.5 463.0,107.8 463.2,108.1 463.3,108.2 463.7,108.8 463.8,108.8 464.2,109.2 464.2,109.3 464.7,109.8 464.8,109.8 465.2,110.2 465.2,110.3 465.7,110.8 465.8,110.8 465.9,110.8 466.2,110.7 466.8,110.3 466.8,110.2 467.2,109.8 467.3,109.8 467.8,109.4 468.0,109.2 468.2,109.1 468.8,108.9 469.2,109.1 469.5,109.2 469.8,109.4 470.2,109.6 470.5,109.8 470.8,110.2 470.8,110.2 470.8,110.3 470.2,110.6 469.8,110.5 469.2,110.5 468.8,110.5 468.2,110.6 467.8,110.8 467.8,110.8 467.2,111.0 466.9,111.2 466.8,111.4 466.2,111.6 465.9,111.8 465.8,111.8 465.3,112.2 465.2,112.3 465.1,112.8 465.0,113.2 465.2,113.5 465.5,113.8 465.8,113.8 466.2,114.2 466.4,114.2 466.8,114.5 467.2,114.7 467.4,114.8 467.8,114.9 468.2,115.2 468.3,115.2 468.2,115.6 468.2,115.8 468.0,116.2 467.9,116.8 467.9,117.2 467.9,117.8 467.8,118.2 467.8,118.8 467.8,119.0 467.7,119.2 467.7,119.8 467.4,120.2 467.2,120.3 466.8,120.4 466.2,120.5 465.8,120.5 465.2,120.7 465.1,120.8 464.8,121.1 464.7,121.2 464.7,121.8 464.8,121.9 464.9,122.2 465.0,122.8 465.0,123.2 464.8,123.8 464.8,123.8 464.4,124.2 464.2,124.4 463.8,124.6 463.4,124.8 463.2,124.8 462.8,124.9 462.2,124.9 461.8,124.8 461.7,124.8 461.2,124.6 460.8,124.3 460.7,124.2 460.2,123.9 460.0,123.8 459.8,123.4 459.4,123.2 459.2,123.1 459.1,123.2 458.8,123.6 458.7,123.8 458.4,124.2 458.2,124.4 457.9,124.8 457.8,124.8 457.2,125.1 456.8,125.2 456.7,125.2 456.2,125.5 455.8,125.8 455.8,125.8 455.2,126.1 454.9,126.2 454.8,126.3 M452.8,106.8 452.2,106.8 452.2,106.8 451.8,106.6 451.2,106.4 451.0,106.2 450.8,106.0 450.6,105.8 450.6,105.2 450.8,105.0 450.9,104.8 451.2,104.5 451.8,104.3 452.2,104.3 452.8,104.5 453.1,104.8 453.2,104.9 453.5,105.2 453.6,105.8 453.5,106.2 453.2,106.5 452.8,106.8 452.8,106.8 M463.8,131.3 463.2,131.4 462.8,131.4 462.5,131.2 462.2,131.0 462.0,130.8 461.8,130.2 461.9,129.8 462.2,129.2 462.2,129.2 462.8,128.9 463.2,129.0 463.6,129.2 463.8,129.3 464.1,129.8 464.2,130.2 464.2,130.8 463.8,131.2 463.8,131.3" fill="none" stroke="#000" stroke-width="1.0" stroke-linejoin="round"/>
</g>
<path d="M74 323h1v1h-1zM75 315h1v1h-1zM75 325h1v1h-1zM75 336h1v1h-1zM76 304h1v1h-1zM76 315h1v1h-1zM76 318h1v1h-1zM76 322h1v1h-1zM76 325h1v1h-1zM76 329h1v1h-1zM76 330h1v1h-1zM76 332h1v1h-1zM76 334h1v1h-1zM76 335h1v1h-1zM77 292h1v1h-1zM77 293h1v1h-1zM77 295h1v1h-1zM77 298h1v1h-1zM77 301h1v1h-1zM77 302h1v1h-1zM77 303h1v1h-1zM77 306h1v1h-1zM77 308h1v1h-1zM77 309h1v1h-1zM77 312h1v1h-1zM77 316h1v1h-1zM77 318h1v1h-1zM77 319h1v1h-1zM77 321h1v1h-1zM77 322h1v1h-1zM77 323h1v1h-1zM77 325h1v1h-1zM77 326h1v1h-1zM77 330h1v1h-1zM77 331h1v1h-1zM77 332h1v1h-1zM77 333h1v1h-1zM77 334h1v1h-1zM77 335h1v1h-1zM77 336h1v1h-1zM77 337h1v1h-1zM77 338h1v1h-1zM78 289h1v1h-1zM78 290h1v1h-1zM78 292h1v1h-1zM78 294h1v1h-1zM78 295h1v1h-1zM78 296h1v1h-1zM78 297h1v1h-1zM78 300h1v1h-1zM78 303h1v1h-1zM78 304h1v1h-1zM78 306h1v1h-1zM78 310h1v1h-1zM78 311h1v1h-1zM78 312h1v1h-1zM78 313h1v1h-1zM78 316h1v1h-1zM78 320h1v1h-1zM78 321h1v1h-1zM78 322h1v1h-1zM78 324h1v1h-1zM78 325h1v1h-1zM78 327h1v1h-1zM78 328h1v1h-1zM78 329h1v1h-1zM78 331h1v1h-1zM78 332h1v1h-1zM78 333h1v1h-1zM78 335h1v1h-1zM78 336h1v1h-1zM78 337h1v1h-1zM78 338h1v1h-1zM79 290h1v1h-1zM79 292h1v1h-1zM79 293h1v1h-1zM79 294h1v1h-1zM79 296h1v1h-1zM79 297h1v1h-1zM79 298h1v1h-1zM79 299h1v1h-1zM79 300h1v1h-1zM79 301h1v1h-1zM79 302h1v1h-1zM79 303h1v1h-1zM79 304h1v1h-1zM79 307h1v1h-1zM79 308h1v1h-1zM79 309h1v1h-1zM79 310h1v1h-1zM79 311h1v1h-1zM79 312h1v1h-1zM79 313h1v1h-1zM79 314h1v1h-1zM79 315h1v1h-1zM79 316h1v1h-1zM79 317h1v1h-1zM79 318h1v1h-1zM79 319h1v1h-1zM79 320h1v1h-1zM79 321h1v1h-1zM79 322h1v1h-1zM79 323h1v1h-1zM79 324h1v1h-1zM79 325h1v1h-1zM79 326h1v1h-1zM79 327h1v1h-1zM79 328h1v1h-1zM79 329h1v1h-1zM79 330h1v1h-1zM79 331h1v1h-1zM79 332h1v1h-1zM79 333h1v1h-1zM79 334h1v1h-1zM79 335h1v1h-1zM79 336h1v1h-1zM79 337h1v1h-1zM79 338h1v1h-1zM79 339h1v1h-1zM80 289h1v1h-1zM80 293h1v1h-1zM80 294h1v1h-1zM80 297h1v1h-1zM80 298h1v1h-1zM80 299h1v1h-1zM80 300h1v1h-1zM80 301h1v1h-1zM80 303h1v1h-1zM80 304h1v1h-1zM80 305h1v1h-1zM80 306h1v1h-1zM80 307h1v1h-1zM80 308h1v1h-1zM80 309h1v1h-1zM80 310h1v1h-1zM80 312h1v1h-1zM80 313h1v1h-1zM80 314h1v1h-1zM80 315h1v1h-1zM80 316h1v1h-1zM80 317h1v1h-1zM80 318h1v1h-1zM80 319h1v1h-1zM80 320h1v1h-1zM80 321h1v1h-1zM80 322h1v1h-1zM80 323h1v1h-1zM80 324h1v1h-1zM80 325h1v1h-1zM80 326h1v1h-1zM80 327h1v1h-1zM80 328h1v1h-1zM80 329h1v1h-1zM80 330h1v1h-1zM80 331h1v1h-1zM80 332h1v1h-1zM80 333h1v1h-1zM80 334h1v1h-1zM80 335h1v1h-1zM80 336h1v1h-1zM80 337h1v1h-1zM80 338h1v1h-1zM81 290h1v1h-1zM81 291h1v1h-1zM81 292h1v1h-1zM81 293h1v1h-1zM81 294h1v1h-1zM81 296h1v1h-1zM81 297h1v1h-1zM81 298h1v1h-1zM81 299h1v1h-1zM81 300h1v1h-1zM81 301h1v1h-1zM81 302h1v1h-1zM81 303h1v1h-1zM81 305h1v1h-1zM81 306h1v1h-1zM81 307h1v1h-1zM81 308h1v1h-1zM81 309h1v1h-1zM81 310h1v1h-1zM81 311h1v1h-1zM81 312h1v1h-1zM81 313h1v1h-1zM81 314h1v1h-1zM81 315h1v1h-1zM81 316h1v1h-1zM81 317h1v1h-1zM81 318h1v1h-1zM81 319h1v1h-1zM81 320h1v1h-1zM81 321h1v1h-1zM81 322h1v1h-1zM81 323h1v1h-1zM81 324h1v1h-1zM81 325h1v1h-1zM81 326h1v1h-1zM81 327h1v1h-1zM81 328h1v1h-1zM81 329h1v1h-1zM81 330h1v1h-1zM81 331h1v1h-1zM81 332h1v1h-1zM81 333h1v1h-1zM81 334h1v1h-1zM81 335h1v1h-1zM81 336h1v1h-1zM81 337h1v1h-1zM82 289h1v1h-1zM82 290h1v1h-1zM82 291h1v1h-1zM82 292h1v1h-1zM82 293h1v1h-1zM82 294h1v1h-1zM82 295h1v1h-1zM82 297h1v1h-1zM82 298h1v1h-1zM82 299h1v1h-1zM82 300h1v1h-1zM82 301h1v1h-1zM82 302h1v1h-1zM82 303h1v1h-1zM82 304h1v1h-1zM82 305h1v1h-1zM82 306h1v1h-1zM82 307h1v1h-1zM82 308h1v1h-1zM82 309h1v1h-1zM82 310h1v1h-1zM82 311h1v1h-1zM82 312h1v1h-1zM82 313h1v1h-1zM82 314h1v1h-1zM82 315h1v1h-1zM82 316h1v1h-1zM82 318h1v1h-1zM82 319h1v1h-1zM82 320h1v1h-1zM82 321h1v1h-1zM82 322h1v1h-1zM82 323h1v1h-1zM82 324h1v1h-1zM82 325h1v1h-1zM82 326h1v1h-1zM82 327h1v1h-1zM82 328h1v1h-1zM82 329h1v1h-1zM82 330h1v1h-1zM82 331h1v1h-1zM82 332h1v1h-1zM82 333h1v1h-1zM82 334h1v1h-1zM82 335h1v1h-1zM82 336h1v1h-1zM82 337h1v1h-1zM82 338h1v1h-1zM83 289h1v1h-1zM83 290h1v1h-1zM83 291h1v1h-1zM83 292h1v1h-1zM83 294h1v1h-1zM83 295h1v1h-1zM83 296h1v1h-1zM83 297h1v1h-1zM83 298h1v1h-1zM83 301h1v1h-1zM83 302h1v1h-1zM83 304h1v1h-1zM83 305h1v1h-1zM83 307h1v1h-1zM83 308h1v1h-1zM83 309h1v1h-1zM83 310h1v1h-1zM83 311h1v1h-1zM83 313h1v1h-1zM83 314h1v1h-1zM83 315h1v1h-1zM83 317h1v1h-1zM83 318h1v1h-1zM83 320h1v1h-1zM83 321h1v1h-1zM83 322h1v1h-1zM83 323h1v1h-1zM83 324h1v1h-1zM83 325h1v1h-1zM83 326h1v1h-1zM83 327h1v1h-1zM83 328h1v1h-1zM83 329h1v1h-1zM83 330h1v1h-1zM83 331h1v1h-1zM83 332h1v1h-1zM83 333h1v1h-1zM83 334h1v1h-1zM83 335h1v1h-1zM83 336h1v1h-1zM83 337h1v1h-1zM83 338h1v1h-1zM83 339h1v1h-1zM84 289h1v1h-1zM84 290h1v1h-1zM84 294h1v1h-1zM84 295h1v1h-1zM84 299h1v1h-1zM84 301h1v1h-1zM84 303h1v1h-1zM84 304h1v1h-1zM84 306h1v1h-1zM84 307h1v1h-1zM84 308h1v1h-1zM84 310h1v1h-1zM84 311h1v1h-1zM84 312h1v1h-1zM84 314h1v1h-1zM84 315h1v1h-1zM84 316h1v1h-1zM84 318h1v1h-1zM84 319h1v1h-1zM84 321h1v1h-1zM84 322h1v1h-1zM84 323h1v1h-1zM84 324h1v1h-1zM84 325h1v1h-1zM84 326h1v1h-1zM84 328h1v1h-1zM84 329h1v1h-1zM84 330h1v1h-1zM84 333h1v1h-1zM84 334h1v1h-1zM84 336h1v1h-1zM84 337h1v1h-1zM84 338h1v1h-1zM84 339h1v1h-1zM85 293h1v1h-1zM85 297h1v1h-1zM85 298h1v1h-1zM85 300h1v1h-1zM85 304h1v1h-1zM85 308h1v1h-1zM85 309h1v1h-1zM85 317h1v1h-1zM85 319h1v1h-1zM85 320h1v1h-1zM85 322h1v1h-1zM85 324h1v1h-1zM85 325h1v1h-1zM85 328h1v1h-1zM85 329h1v1h-1zM85 331h1v1h-1zM85 332h1v1h-1zM85 334h1v1h-1zM85 335h1v1h-1zM85 337h1v1h-1zM86 295h1v1h-1zM86 312h1v1h-1zM86 313h1v1h-1zM86 324h1v1h-1zM86 328h1v1h-1zM86 330h1v1h-1zM86 335h1v1h-1zM86 339h1v1h-1zM87 314h1v1h-1zM87 322h1v1h-1zM89 311h1v1h-1zM89 314h1v1h-1zM89 322h1v1h-1zM90 310h1v1h-1zM90 318h1v1h-1zM90 321h1v1h-1zM91 311h1v1h-1zM91 312h1v1h-1zM91 313h1v1h-1zM91 317h1v1h-1zM91 327h1v1h-1zM92 311h1v1h-1zM92 315h1v1h-1zM92 322h1v1h-1zM92 324h1v1h-1zM93 295h1v1h-1zM93 299h1v1h-1zM93 309h1v1h-1zM93 311h1v1h-1zM93 320h1v1h-1zM93 323h1v1h-1zM93 329h1v1h-1zM94 289h1v1h-1zM94 291h1v1h-1zM94 306h1v1h-1zM94 307h1v1h-1zM94 308h1v1h-1zM94 310h1v1h-1zM94 323h1v1h-1zM95 303h1v1h-1zM95 312h1v1h-1zM95 319h1v1h-1zM95 323h1v1h-1zM96 310h1v1h-1zM96 312h1v1h-1zM96 313h1v1h-1zM96 314h1v1h-1zM97 305h1v1h-1zM97 310h1v1h-1zM97 313h1v1h-1zM98 306h1v1h-1zM98 310h1v1h-1zM98 313h1v1h-1zM98 314h1v1h-1zM98 325h1v1h-1zM98 328h1v1h-1zM99 315h1v1h-1zM100 301h1v1h-1zM100 307h1v1h-1zM100 315h1v1h-1zM100 316h1v1h-1zM100 326h1v1h-1zM101 314h1v1h-1zM102 312h1v1h-1zM102 314h1v1h-1zM102 322h1v1h-1zM103 283h1v1h-1zM103 285h1v1h-1zM103 308h1v1h-1zM103 312h1v1h-1zM103 322h1v1h-1zM104 296h1v1h-1zM104 310h1v1h-1zM105 302h1v1h-1zM105 305h1v1h-1zM105 307h1v1h-1zM105 311h1v1h-1zM105 312h1v1h-1zM105 313h1v1h-1zM105 316h1v1h-1zM105 322h1v1h-1zM105 326h1v1h-1zM106 288h1v1h-1zM106 293h1v1h-1zM106 303h1v1h-1zM106 312h1v1h-1zM106 324h1v1h-1zM107 289h1v1h-1zM107 295h1v1h-1zM107 308h1v1h-1zM107 312h1v1h-1zM107 313h1v1h-1zM107 315h1v1h-1zM107 318h1v1h-1zM108 309h1v1h-1zM108 317h1v1h-1zM108 321h1v1h-1zM108 324h1v1h-1zM109 300h1v1h-1zM109 312h1v1h-1zM109 315h1v1h-1zM109 327h1v1h-1zM110 306h1v1h-1zM110 313h1v1h-1zM110 318h1v1h-1zM110 327h1v1h-1zM111 295h1v1h-1zM111 307h1v1h-1zM111 309h1v1h-1zM111 311h1v1h-1zM111 321h1v1h-1zM111 324h1v1h-1zM112 296h1v1h-1zM112 299h1v1h-1zM112 302h1v1h-1zM112 312h1v1h-1zM112 314h1v1h-1zM112 316h1v1h-1zM112 320h1v1h-1zM113 311h1v1h-1zM113 320h1v1h-1zM113 326h1v1h-1zM114 283h1v1h-1zM114 311h1v1h-1zM114 313h1v1h-1zM115 288h1v1h-1zM115 292h1v1h-1zM115 306h1v1h-1zM115 313h1v1h-1zM115 319h1v1h-1zM116 293h1v1h-1zM116 297h1v1h-1zM116 313h1v1h-1zM116 317h1v1h-1zM116 331h1v1h-1zM117 291h1v1h-1zM117 311h1v1h-1zM117 313h1v1h-1zM117 319h1v1h-1zM118 303h1v1h-1zM118 319h1v1h-1zM119 289h1v1h-1zM119 291h1v1h-1zM119 307h1v1h-1zM119 316h1v1h-1zM119 323h1v1h-1zM120 288h1v1h-1zM120 298h1v1h-1zM120 299h1v1h-1zM120 319h1v1h-1zM121 305h1v1h-1zM121 308h1v1h-1zM121 309h1v1h-1zM121 311h1v1h-1zM121 322h1v1h-1zM122 287h1v1h-1zM122 304h1v1h-1zM122 306h1v1h-1zM122 315h1v1h-1zM122 316h1v1h-1zM122 318h1v1h-1zM122 321h1v1h-1zM123 312h1v1h-1zM123 313h1v1h-1zM123 314h1v1h-1zM123 319h1v1h-1zM123 325h1v1h-1zM124 291h1v1h-1zM124 294h1v1h-1zM124 299h1v1h-1zM124 312h1v1h-1zM124 319h1v1h-1zM124 320h1v1h-1zM125 282h1v1h-1zM125 291h1v1h-1zM125 295h1v1h-1zM125 311h1v1h-1zM125 313h1v1h-1zM125 317h1v1h-1zM125 318h1v1h-1zM126 309h1v1h-1zM126 312h1v1h-1zM126 313h1v1h-1zM126 316h1v1h-1zM126 317h1v1h-1zM127 288h1v1h-1zM127 309h1v1h-1zM127 310h1v1h-1zM127 313h1v1h-1zM127 324h1v1h-1zM128 302h1v1h-1zM128 313h1v1h-1zM129 288h1v1h-1zM129 310h1v1h-1zM129 313h1v1h-1zM131 283h1v1h-1zM132 303h1v1h-1zM134 293h1v1h-1zM135 302h1v1h-1zM135 304h1v1h-1zM138 287h1v1h-1zM139 291h1v1h-1zM140 301h1v1h-1zM141 293h1v1h-1z" fill="#1a1a1a"/>
<path d="M255.8,342.0 L255.8,342.0 L256.0,336.0 L256.6,330.0 L257.4,322.0 L257.6,312.0 L258.0,300.0 L258.4,288.0 L258.6,275.0 L258.9,262.0 L259.2,254.0 L260.0,242.0 L260.4,230.0 L261.9,229.6 L262.1,240.0 L262.3,252.0 L262.4,262.0 L262.6,275.0 L262.8,288.0 L263.0,300.0 L263.6,312.0 L263.9,320.0 L264.4,330.0 L264.7,336.0 L265.0,342.0 L265,342.0 Z" fill="#111"/>
<path d="M424.8,343.5 L424.8,343.5 L425.3,330.0 L426.0,310.0 L426.5,298.0 L427.0,280.0 L427.4,262.0 L428.2,250.0 L429.0,240.0 L429.6,235.0 L430.6,234.7 L431.3,240.0 L431.8,252.0 L432.2,262.0 L432.8,280.0 L433.2,292.0 L433.4,300.0 L433.4,318.0 L434.5,322.0 L435.0,330.0 L435.6,335.0 L436.0,343.5 L436,343.5 Z" fill="#111"/>
<path d="M435.50,336.7V343.5 M436.25,334.3V343.5 M437.00,337.2V343.5 M437.75,333.4V343.5 M438.50,338.6V343.5 M439.25,338.0V343.5 M440.00,338.4V343.5 M440.75,341.1V343.5 M441.50,336.8V343.5 M442.25,338.3V343.5 M443.00,339.3V343.5 M443.75,341.9V343.5 M444.50,339.4V343.5 M445.25,341.1V343.5 M446.00,337.0V343.5 M446.75,331.6V343.5 M447.50,335.3V343.5 M448.25,335.7V343.5 M449.00,338.9V343.5 M449.75,340.9V343.5 M450.50,336.3V343.5 M451.25,337.8V343.5 M452.00,339.3V343.5 M452.75,336.7V343.5 M453.50,337.6V343.5 M454.25,338.2V343.5 M455.00,336.7V343.5 M455.75,336.8V343.5 M456.50,337.4V343.5 M457.25,340.1V343.5 M458.00,341.0V343.5 M458.75,337.5V343.5 M459.50,336.4V343.5 M460.25,338.7V343.5 M461.00,337.3V343.5 M461.75,335.6V343.5 M462.50,331.5V343.5 M463.25,335.8V343.5 M464.00,337.9V343.5 M464.75,333.1V343.5 M465.50,337.0V343.5 M466.25,334.6V343.5 M467.00,332.8V343.5 M467.75,330.7V343.5 M468.50,331.8V343.5 M469.25,331.2V343.5 M470.00,328.9V343.5 M470.75,325.2V343.5 M471.50,322.6V343.5 M472.25,325.3V343.5 M473.00,326.9V343.5 M473.75,331.9V343.5 M474.50,335.2V343.5 M475.25,337.1V343.5 M476.00,340.3V343.5 M476.75,338.9V343.5 M477.50,339.5V343.5 M478.25,338.9V343.5 M479.00,341.4V343.5 M479.75,342.0V343.5 M480.50,340.9V343.5 M481.25,342.5V343.5" stroke="#111" stroke-width="0.9" fill="none"/>
<path d="M436,343.5 L436,339 L445,339.5 L455,338.5 L465,337 L470,334 L473,333 L477,339 L480,341.5 L482,343.5 Z" fill="#1a1a1a"/>
<path d="M447.2,331V343.5 M462.6,332.5V343.5 M490,340.5V343.5 M486,341V343.5" stroke="#111" stroke-width="0.9"/>
<rect x="242.3" y="308.3" width="1.2" height="1.2" fill="#333"/>
<path d="M282.0 98.0h1.2v1.2h-1.2zM253.1 118.8h1.2v1.2h-1.2zM287.7 137.1h1.2v1.2h-1.2zM271.3 60.7h1.2v1.2h-1.2zM222.9 131.6h1.2v1.2h-1.2zM300.0 135.2h1.2v1.2h-1.2zM267.1 95.4h1.2v1.2h-1.2zM325.1 69.4h1.2v1.2h-1.2zM278.1 78.2h1.2v1.2h-1.2zM237.8 115.3h1.2v1.2h-1.2zM249.6 72.8h1.2v1.2h-1.2zM300.5 155.7h1.2v1.2h-1.2zM226.3 107.9h1.2v1.2h-1.2zM281.3 57.8h1.2v1.2h-1.2zM235.5 62.0h1.2v1.2h-1.2zM275.1 153.4h1.2v1.2h-1.2zM286.7 58.1h1.2v1.2h-1.2zM246.8 143.0h1.2v1.2h-1.2zM255.6 67.7h1.2v1.2h-1.2zM286.3 110.6h1.2v1.2h-1.2zM231.0 146.6h1.2v1.2h-1.2zM243.6 97.6h1.2v1.2h-1.2zM298.6 54.1h1.2v1.2h-1.2zM272.6 80.5h1.2v1.2h-1.2zM227.5 145.5h1.2v1.2h-1.2zM270.3 107.8h1.2v1.2h-1.2zM328.2 128.3h1.2v1.2h-1.2zM224.6 103.5h1.2v1.2h-1.2zM294.5 111.6h1.2v1.2h-1.2zM292.8 92.5h1.2v1.2h-1.2zM264.7 59.5h1.2v1.2h-1.2zM288.2 121.9h1.2v1.2h-1.2zM249.8 107.5h1.2v1.2h-1.2zM321.6 100.4h1.2v1.2h-1.2zM243.6 139.0h1.2v1.2h-1.2zM274.0 45.9h1.2v1.2h-1.2zM251.2 104.7h1.2v1.2h-1.2zM280.6 122.5h1.2v1.2h-1.2zM238.9 130.5h1.2v1.2h-1.2zM287.3 72.2h1.2v1.2h-1.2zM261.0 120.6h1.2v1.2h-1.2z" fill="#666"/>
<path d="M254.7 37.0h1.2v1.2h-1.2zM251.8 45.4h1.2v1.2h-1.2zM272.8 37.7h1.2v1.2h-1.2zM255.4 58.6h1.2v1.2h-1.2zM272.7 43.1h1.2v1.2h-1.2zM263.0 58.9h1.2v1.2h-1.2zM288.0 56.6h1.2v1.2h-1.2zM307.1 37.6h1.2v1.2h-1.2zM263.1 40.1h1.2v1.2h-1.2zM246.7 37.2h1.2v1.2h-1.2zM259.3 38.2h1.2v1.2h-1.2z" fill="#666"/>
<path d="M442.0 64.5h1.2v1.2h-1.2zM444.5 75.8h1.2v1.2h-1.2zM434.9 62.4h1.2v1.2h-1.2zM490.0 128.0h1.2v1.2h-1.2zM445.9 135.7h1.2v1.2h-1.2zM451.0 89.7h1.2v1.2h-1.2zM433.2 152.2h1.2v1.2h-1.2zM435.2 82.9h1.2v1.2h-1.2zM438.0 118.5h1.2v1.2h-1.2zM403.8 92.5h1.2v1.2h-1.2zM413.5 77.1h1.2v1.2h-1.2zM459.3 83.1h1.2v1.2h-1.2zM473.5 91.1h1.2v1.2h-1.2zM412.9 54.4h1.2v1.2h-1.2zM458.6 96.5h1.2v1.2h-1.2zM459.1 127.4h1.2v1.2h-1.2z" fill="#666"/>
<text transform="translate(95.74,44.70) scale(0.976,1)" font-family="Liberation Sans" font-weight="bold" font-size="15.14" fill="#111" stroke="#111" stroke-width="0.45">R2</text>
<text transform="translate(90.22,151.10) scale(0.893,1)" font-family="Liberation Sans" font-weight="bold" font-size="15.22" fill="#111" stroke="#111" stroke-width="0.45">R1</text>
<text transform="translate(271.93,12.70) scale(0.890,1)" font-family="Liberation Sans" font-weight="bold" font-size="15.07" fill="#111" stroke="#111" stroke-width="0.45">R1</text>
<text transform="translate(441.26,11.80) scale(0.960,1)" font-family="Liberation Sans" font-weight="bold" font-size="15.14" fill="#111" stroke="#111" stroke-width="0.45">R2</text>
<text transform="translate(273.16,222.36) scale(1.007,1)" font-family="Liberation Sans" font-weight="bold" font-size="14.37" fill="#111" stroke="#111" stroke-width="0.45">R3</text>
<text transform="translate(442.13,221.70) scale(0.967,1)" font-family="Liberation Sans" font-weight="bold" font-size="15.36" fill="#111" stroke="#111" stroke-width="0.45">R4</text>
<text transform="translate(46.78,300.50) scale(1.024,1)" font-family="Liberation Sans" font-weight="bold" font-size="12.32" fill="#111" stroke="#111" stroke-width="0.45">R4</text>
<text transform="translate(46.97,337.88) scale(1.042,1)" font-family="Liberation Sans" font-weight="bold" font-size="12.25" fill="#111" stroke="#111" stroke-width="0.45">R3</text>
<text transform="translate(221.54,38.00) scale(1.012,1)" font-family="Liberation Sans" font-weight="bold" font-size="10.28" fill="#111" stroke="#111" stroke-width="0.45">2.5%</text>
<text transform="translate(222.39,150.30) scale(1.000,1)" font-family="Liberation Sans" font-weight="bold" font-size="10.28" fill="#111" stroke="#111" stroke-width="0.45">52%</text>
<text transform="translate(310.08,149.50) scale(1.023,1)" font-family="Liberation Sans" font-weight="bold" font-size="10.28" fill="#111" stroke="#111" stroke-width="0.45">5.8%</text>
<text transform="translate(478.69,36.79) scale(0.949,1)" font-family="Liberation Sans" font-weight="bold" font-size="10.85" fill="#111" stroke="#111" stroke-width="0.45">0.2%</text>
<text transform="translate(385.57,149.49) scale(0.955,1)" font-family="Liberation Sans" font-weight="bold" font-size="10.92" fill="#111" stroke="#111" stroke-width="0.45">1.5%</text>
<text transform="translate(485.69,148.70) scale(1.014,1)" font-family="Liberation Sans" font-weight="bold" font-size="10.28" fill="#111" stroke="#111" stroke-width="0.45">8.5%</text>
<text transform="translate(286.71,293.16) scale(0.975,1)" font-family="Liberation Sans" font-weight="bold" font-size="14.23" fill="#111" stroke="#111" stroke-width="0.45">2%</text>
<text transform="translate(450.10,291.76) scale(1.006,1)" font-family="Liberation Sans" font-weight="bold" font-size="14.08" fill="#111" stroke="#111" stroke-width="0.45">25%</text>
<text transform="translate(9.88,152.15) rotate(-90) scale(0.952,1)" font-family="Liberation Sans" font-weight="bold" font-size="12.39" fill="#111" stroke="#111" stroke-width="0.45">SSC</text>
<text transform="translate(43.97,186.07) scale(0.997,1)" font-family="Liberation Sans" font-weight="bold" font-size="12.82" fill="#111" stroke="#111" stroke-width="0.45">FSC</text>
<text transform="translate(196.72,146.71) rotate(-90) scale(1.030,1)" font-family="Liberation Sans" font-weight="bold" font-size="16.56" fill="#111" stroke="#111" stroke-width="0.45">IgM</text>
<text transform="translate(224.82,187.13) scale(1.022,1)" font-family="Liberation Sans" font-weight="bold" font-size="16.50" fill="#111" stroke="#111" stroke-width="0.45">VpreB</text>
<text transform="translate(15.76,344.77) rotate(-90) scale(0.933,1)" font-family="Liberation Sans" font-weight="bold" font-size="15.44" fill="#111" stroke="#111" stroke-width="0.45">VpreB</text>
<text transform="translate(47.10,375.09) scale(1.015,1)" font-family="Liberation Sans" font-weight="bold" font-size="15.20" fill="#111" stroke="#111" stroke-width="0.45">PI</text>
<line x1="7.80" y1="125.00" x2="7.80" y2="34.00" stroke="#111" stroke-width="1.6" />
<path d="M7.8,27.0 L4.6,35.0 L7.8,33.5 L11.0,35.0 Z" fill="#111" stroke="none" stroke-width="1.0" />
<line x1="71.00" y1="182.10" x2="153.20" y2="182.10" stroke="#111" stroke-width="1.6" />
<path d="M160.0,182.1 L152.2,178.9 L153.7,182.1 L152.2,185.3 Z" fill="#111" stroke="none" stroke-width="1.0" />
<line x1="190.40" y1="107.00" x2="190.40" y2="26.20" stroke="#111" stroke-width="1.6" />
<path d="M190.4,19.3 L187.1,27.2 L190.4,25.7 L193.7,27.2 Z" fill="#111" stroke="none" stroke-width="1.0" />
<line x1="291.50" y1="173.80" x2="497.90" y2="173.80" stroke="#111" stroke-width="1.6" />
<path d="M504.4,173.8 L496.9,170.4 L498.4,173.8 L496.9,177.2 Z" fill="#111" stroke="none" stroke-width="1.0" />
<line x1="14.70" y1="294.70" x2="14.70" y2="214.00" stroke="#111" stroke-width="1.6" />
<path d="M14.7,207.8 L11.5,215.0 L14.7,213.5 L17.9,215.0 Z" fill="#111" stroke="none" stroke-width="1.0" />
<line x1="65.80" y1="368.80" x2="147.80" y2="368.80" stroke="#111" stroke-width="1.6" />
<path d="M153.9,368.8 L146.8,365.6 L148.3,368.8 L146.8,372.0 Z" fill="#111" stroke="none" stroke-width="1.0" />
<line x1="30.40" y1="160.50" x2="167.00" y2="160.50" stroke="#111" stroke-width="1.25" />
<line x1="30.40" y1="23.80" x2="30.40" y2="160.50" stroke="#111" stroke-width="1.25" />
<line x1="30.40" y1="23.80" x2="167.00" y2="23.80" stroke="#111" stroke-width="1.25" />
<line x1="167.00" y1="23.80" x2="167.00" y2="160.50" stroke="#111" stroke-width="1.25" />
<line x1="212.20" y1="160.00" x2="349.30" y2="160.00" stroke="#111" stroke-width="1.25" />
<line x1="212.20" y1="23.50" x2="212.20" y2="160.00" stroke="#111" stroke-width="1.25" />
<line x1="212.20" y1="23.50" x2="349.30" y2="23.50" stroke="#111" stroke-width="1.25" />
<line x1="349.30" y1="23.50" x2="349.30" y2="160.00" stroke="#111" stroke-width="1.25" />
<line x1="375.40" y1="156.00" x2="512.00" y2="156.00" stroke="#111" stroke-width="1.25" />
<line x1="375.40" y1="19.50" x2="375.40" y2="156.00" stroke="#111" stroke-width="1.25" />
<line x1="375.40" y1="19.50" x2="512.00" y2="19.50" stroke="#111" stroke-width="1.25" />
<line x1="512.00" y1="19.50" x2="512.00" y2="156.00" stroke="#111" stroke-width="1.25" />
<line x1="33.50" y1="343.00" x2="162.30" y2="343.00" stroke="#111" stroke-width="1.25" />
<line x1="33.50" y1="215.80" x2="33.50" y2="343.00" stroke="#111" stroke-width="1.25" />
<line x1="33.50" y1="215.80" x2="162.30" y2="215.80" stroke="#111" stroke-width="1.25" />
<line x1="162.30" y1="215.80" x2="162.30" y2="343.00" stroke="#111" stroke-width="1.25" />
<line x1="287.60" y1="23.50" x2="287.60" y2="160.00" stroke="#1a1a1a" stroke-width="1.0" />
<line x1="212.20" y1="83.60" x2="349.30" y2="83.60" stroke="#666" stroke-width="1.4" stroke-dasharray="1.1 0.6"/>
<line x1="450.40" y1="19.50" x2="450.40" y2="156.00" stroke="#1a1a1a" stroke-width="1.0" />
<line x1="375.40" y1="80.40" x2="512.00" y2="80.40" stroke="#666" stroke-width="1.4" stroke-dasharray="1.1 0.6"/>
<line x1="87.80" y1="215.80" x2="87.80" y2="343.00" stroke="#1a1a1a" stroke-width="1.0" />
<line x1="33.50" y1="310.20" x2="162.30" y2="310.20" stroke="#1a1a1a" stroke-width="1.0" />
<rect x="45.8" y="276.5" width="106.2" height="29" fill="none" stroke="#1a1a1a" stroke-width="1.1"/>
<rect x="45.8" y="316.7" width="106.2" height="24.6" fill="none" stroke="#1a1a1a" stroke-width="1.1"/>
<line x1="213.80" y1="211.30" x2="213.80" y2="342.00" stroke="#111" stroke-width="1.25" />
<line x1="213.80" y1="342.00" x2="343.00" y2="342.00" stroke="#111" stroke-width="1.25" />
<line x1="381.20" y1="211.30" x2="381.20" y2="343.50" stroke="#111" stroke-width="1.25" />
<line x1="381.20" y1="343.50" x2="510.00" y2="343.50" stroke="#111" stroke-width="1.25" />
<path d="M30.40,160.50v1.6 M35.86,160.50v1.6 M41.33,160.50v1.6 M46.79,160.50v1.6 M52.26,160.50v1.6 M57.72,160.50v1.6 M63.18,160.50v1.6 M68.65,160.50v1.6 M74.11,160.50v1.6 M79.58,160.50v1.6 M85.04,160.50v1.6 M90.50,160.50v1.6 M95.97,160.50v1.6 M101.43,160.50v1.6 M106.90,160.50v1.6 M112.36,160.50v1.6 M117.82,160.50v1.6 M123.29,160.50v1.6 M128.75,160.50v1.6 M134.22,160.50v1.6 M139.68,160.50v1.6 M145.14,160.50v1.6 M150.61,160.50v1.6 M156.07,160.50v1.6 M161.54,160.50v1.6 M167.00,160.50v1.6 M30.40,160.50v3 M57.72,160.50v3 M85.04,160.50v3 M112.36,160.50v3 M139.68,160.50v3 M167.00,160.50v3 M30.40,160.50h-1.6 M30.40,155.03h-1.6 M30.40,149.56h-1.6 M30.40,144.10h-1.6 M30.40,138.63h-1.6 M30.40,133.16h-1.6 M30.40,127.69h-1.6 M30.40,122.22h-1.6 M30.40,116.76h-1.6 M30.40,111.29h-1.6 M30.40,105.82h-1.6 M30.40,100.35h-1.6 M30.40,94.88h-1.6 M30.40,89.42h-1.6 M30.40,83.95h-1.6 M30.40,78.48h-1.6 M30.40,73.01h-1.6 M30.40,67.54h-1.6 M30.40,62.08h-1.6 M30.40,56.61h-1.6 M30.40,51.14h-1.6 M30.40,45.67h-1.6 M30.40,40.20h-1.6 M30.40,34.74h-1.6 M30.40,29.27h-1.6 M30.40,23.80h-1.6 M30.40,160.50h-3 M30.40,133.16h-3 M30.40,105.82h-3 M30.40,78.48h-3 M30.40,51.14h-3 M30.40,23.80h-3 M222.52,160.00v1.6 M228.55,160.00v1.6 M232.84,160.00v1.6 M236.16,160.00v1.6 M238.87,160.00v1.6 M241.17,160.00v1.6 M243.15,160.00v1.6 M244.91,160.00v1.6 M256.79,160.00v1.6 M262.83,160.00v1.6 M267.11,160.00v1.6 M270.43,160.00v1.6 M273.15,160.00v1.6 M275.44,160.00v1.6 M277.43,160.00v1.6 M279.18,160.00v1.6 M291.07,160.00v1.6 M297.10,160.00v1.6 M301.39,160.00v1.6 M304.71,160.00v1.6 M307.42,160.00v1.6 M309.72,160.00v1.6 M311.70,160.00v1.6 M313.46,160.00v1.6 M325.34,160.00v1.6 M331.38,160.00v1.6 M335.66,160.00v1.6 M338.98,160.00v1.6 M341.70,160.00v1.6 M343.99,160.00v1.6 M345.98,160.00v1.6 M347.73,160.00v1.6 M212.20,160.00v3 M246.47,160.00v3 M280.75,160.00v3 M315.02,160.00v3 M349.30,160.00v3 M212.20,149.73h-1.6 M212.20,143.72h-1.6 M212.20,139.45h-1.6 M212.20,136.15h-1.6 M212.20,133.45h-1.6 M212.20,131.16h-1.6 M212.20,129.18h-1.6 M212.20,127.44h-1.6 M212.20,115.60h-1.6 M212.20,109.59h-1.6 M212.20,105.33h-1.6 M212.20,102.02h-1.6 M212.20,99.32h-1.6 M212.20,97.04h-1.6 M212.20,95.06h-1.6 M212.20,93.31h-1.6 M212.20,81.48h-1.6 M212.20,75.47h-1.6 M212.20,71.20h-1.6 M212.20,67.90h-1.6 M212.20,65.20h-1.6 M212.20,62.91h-1.6 M212.20,60.93h-1.6 M212.20,59.19h-1.6 M212.20,47.35h-1.6 M212.20,41.34h-1.6 M212.20,37.08h-1.6 M212.20,33.77h-1.6 M212.20,31.07h-1.6 M212.20,28.79h-1.6 M212.20,26.81h-1.6 M212.20,25.06h-1.6 M212.20,160.00h-3 M212.20,125.88h-3 M212.20,91.75h-3 M212.20,57.62h-3 M212.20,23.50h-3 M385.68,156.00v1.6 M391.69,156.00v1.6 M395.96,156.00v1.6 M399.27,156.00v1.6 M401.97,156.00v1.6 M404.26,156.00v1.6 M406.24,156.00v1.6 M407.99,156.00v1.6 M419.83,156.00v1.6 M425.84,156.00v1.6 M430.11,156.00v1.6 M433.42,156.00v1.6 M436.12,156.00v1.6 M438.41,156.00v1.6 M440.39,156.00v1.6 M442.14,156.00v1.6 M453.98,156.00v1.6 M459.99,156.00v1.6 M464.26,156.00v1.6 M467.57,156.00v1.6 M470.27,156.00v1.6 M472.56,156.00v1.6 M474.54,156.00v1.6 M476.29,156.00v1.6 M488.13,156.00v1.6 M494.14,156.00v1.6 M498.41,156.00v1.6 M501.72,156.00v1.6 M504.42,156.00v1.6 M506.71,156.00v1.6 M508.69,156.00v1.6 M510.44,156.00v1.6 M375.40,156.00v3 M409.55,156.00v3 M443.70,156.00v3 M477.85,156.00v3 M512.00,156.00v3 M375.40,145.73h-1.6 M375.40,139.72h-1.6 M375.40,135.45h-1.6 M375.40,132.15h-1.6 M375.40,129.45h-1.6 M375.40,127.16h-1.6 M375.40,125.18h-1.6 M375.40,123.44h-1.6 M375.40,111.60h-1.6 M375.40,105.59h-1.6 M375.40,101.33h-1.6 M375.40,98.02h-1.6 M375.40,95.32h-1.6 M375.40,93.04h-1.6 M375.40,91.06h-1.6 M375.40,89.31h-1.6 M375.40,77.48h-1.6 M375.40,71.47h-1.6 M375.40,67.20h-1.6 M375.40,63.90h-1.6 M375.40,61.20h-1.6 M375.40,58.91h-1.6 M375.40,56.93h-1.6 M375.40,55.19h-1.6 M375.40,43.35h-1.6 M375.40,37.34h-1.6 M375.40,33.08h-1.6 M375.40,29.77h-1.6 M375.40,27.07h-1.6 M375.40,24.79h-1.6 M375.40,22.81h-1.6 M375.40,21.06h-1.6 M375.40,156.00h-3 M375.40,121.88h-3 M375.40,87.75h-3 M375.40,53.62h-3 M375.40,19.50h-3 M33.50,343.00v1.6 M38.65,343.00v1.6 M43.80,343.00v1.6 M48.96,343.00v1.6 M54.11,343.00v1.6 M59.26,343.00v1.6 M64.41,343.00v1.6 M69.56,343.00v1.6 M74.72,343.00v1.6 M79.87,343.00v1.6 M85.02,343.00v1.6 M90.17,343.00v1.6 M95.32,343.00v1.6 M100.48,343.00v1.6 M105.63,343.00v1.6 M110.78,343.00v1.6 M115.93,343.00v1.6 M121.08,343.00v1.6 M126.24,343.00v1.6 M131.39,343.00v1.6 M136.54,343.00v1.6 M141.69,343.00v1.6 M146.84,343.00v1.6 M152.00,343.00v1.6 M157.15,343.00v1.6 M162.30,343.00v1.6 M33.50,343.00v3 M59.26,343.00v3 M85.02,343.00v3 M110.78,343.00v3 M136.54,343.00v3 M162.30,343.00v3 M33.50,333.43h-1.6 M33.50,327.83h-1.6 M33.50,323.85h-1.6 M33.50,320.77h-1.6 M33.50,318.25h-1.6 M33.50,316.13h-1.6 M33.50,314.28h-1.6 M33.50,312.66h-1.6 M33.50,301.63h-1.6 M33.50,296.03h-1.6 M33.50,292.05h-1.6 M33.50,288.97h-1.6 M33.50,286.45h-1.6 M33.50,284.33h-1.6 M33.50,282.48h-1.6 M33.50,280.86h-1.6 M33.50,269.83h-1.6 M33.50,264.23h-1.6 M33.50,260.25h-1.6 M33.50,257.17h-1.6 M33.50,254.65h-1.6 M33.50,252.53h-1.6 M33.50,250.68h-1.6 M33.50,249.06h-1.6 M33.50,238.03h-1.6 M33.50,232.43h-1.6 M33.50,228.45h-1.6 M33.50,225.37h-1.6 M33.50,222.85h-1.6 M33.50,220.73h-1.6 M33.50,218.88h-1.6 M33.50,217.26h-1.6 M33.50,343.00h-3 M33.50,311.20h-3 M33.50,279.40h-3 M33.50,247.60h-3 M33.50,215.80h-3 M213.80,342.00v1.6 M218.76,342.00v1.6 M223.72,342.00v1.6 M228.68,342.00v1.6 M233.64,342.00v1.6 M238.60,342.00v1.6 M243.56,342.00v1.6 M248.52,342.00v1.6 M253.48,342.00v1.6 M258.44,342.00v1.6 M263.40,342.00v1.6 M268.36,342.00v1.6 M273.32,342.00v1.6 M278.28,342.00v1.6 M283.24,342.00v1.6 M288.20,342.00v1.6 M293.16,342.00v1.6 M298.12,342.00v1.6 M303.08,342.00v1.6 M308.04,342.00v1.6 M313.00,342.00v1.6 M317.96,342.00v1.6 M322.92,342.00v1.6 M327.88,342.00v1.6 M332.84,342.00v1.6 M337.80,342.00v1.6 M213.80,342.00v3 M238.60,342.00v3 M263.40,342.00v3 M288.20,342.00v3 M313.00,342.00v3 M337.80,342.00v3 M213.80,342.00h-1.6 M213.80,336.77h-1.6 M213.80,331.54h-1.6 M213.80,326.32h-1.6 M213.80,321.09h-1.6 M213.80,315.86h-1.6 M213.80,310.63h-1.6 M213.80,305.40h-1.6 M213.80,300.18h-1.6 M213.80,294.95h-1.6 M213.80,289.72h-1.6 M213.80,284.49h-1.6 M213.80,279.26h-1.6 M213.80,274.04h-1.6 M213.80,268.81h-1.6 M213.80,263.58h-1.6 M213.80,258.35h-1.6 M213.80,253.12h-1.6 M213.80,247.90h-1.6 M213.80,242.67h-1.6 M213.80,237.44h-1.6 M213.80,232.21h-1.6 M213.80,226.98h-1.6 M213.80,221.76h-1.6 M213.80,216.53h-1.6 M213.80,211.30h-1.6 M213.80,342.00h-3 M213.80,315.86h-3 M213.80,289.72h-3 M213.80,263.58h-3 M213.80,237.44h-3 M213.80,211.30h-3 M381.20,343.50v1.6 M386.18,343.50v1.6 M391.16,343.50v1.6 M396.14,343.50v1.6 M401.12,343.50v1.6 M406.10,343.50v1.6 M411.08,343.50v1.6 M416.06,343.50v1.6 M421.04,343.50v1.6 M426.02,343.50v1.6 M431.00,343.50v1.6 M435.98,343.50v1.6 M440.96,343.50v1.6 M445.94,343.50v1.6 M450.92,343.50v1.6 M455.90,343.50v1.6 M460.88,343.50v1.6 M465.86,343.50v1.6 M470.84,343.50v1.6 M475.82,343.50v1.6 M480.80,343.50v1.6 M485.78,343.50v1.6 M490.76,343.50v1.6 M495.74,343.50v1.6 M500.72,343.50v1.6 M505.70,343.50v1.6 M381.20,343.50v3 M406.10,343.50v3 M431.00,343.50v3 M455.90,343.50v3 M480.80,343.50v3 M505.70,343.50v3 M381.20,343.50h-1.6 M381.20,334.70h-1.6 M381.20,325.90h-1.6 M381.20,317.10h-1.6 M381.20,308.30h-1.6 M381.20,299.50h-1.6 M381.20,290.70h-1.6 M381.20,281.90h-1.6 M381.20,273.10h-1.6 M381.20,264.30h-1.6 M381.20,255.50h-1.6 M381.20,246.70h-1.6 M381.20,237.90h-1.6 M381.20,229.10h-1.6 M381.20,220.30h-1.6 M381.20,211.50h-1.6 M381.20,343.50h-3 M381.20,299.50h-3 M381.20,255.50h-3 M381.20,211.50h-3" stroke="#1a1a1a" stroke-width="1" fill="none"/>
<text transform="translate(28.43,170.11) scale(0.885,1)" font-family="Liberation Mono" font-weight="bold" font-size="8.53" fill="#1a1a1a" stroke="#1a1a1a" stroke-width="0.2">0</text>
<text transform="translate(26.21,163.27) rotate(-90) scale(0.885,1)" font-family="Liberation Mono" font-weight="bold" font-size="8.53" fill="#1a1a1a" stroke="#1a1a1a" stroke-width="0.2">0</text>
<text transform="translate(52.77,170.11) scale(0.889,1)" font-family="Liberation Mono" font-weight="bold" font-size="8.53" fill="#1a1a1a" stroke="#1a1a1a" stroke-width="0.2">50</text>
<text transform="translate(26.21,138.33) rotate(-90) scale(0.889,1)" font-family="Liberation Mono" font-weight="bold" font-size="8.53" fill="#1a1a1a" stroke="#1a1a1a" stroke-width="0.2">50</text>
<text transform="translate(76.95,170.11) scale(0.900,1)" font-family="Liberation Mono" font-weight="bold" font-size="8.53" fill="#1a1a1a" stroke="#1a1a1a" stroke-width="0.2">100</text>
<text transform="translate(26.21,113.55) rotate(-90) scale(0.900,1)" font-family="Liberation Mono" font-weight="bold" font-size="8.53" fill="#1a1a1a" stroke="#1a1a1a" stroke-width="0.2">100</text>
<text transform="translate(103.55,170.11) scale(0.900,1)" font-family="Liberation Mono" font-weight="bold" font-size="8.53" fill="#1a1a1a" stroke="#1a1a1a" stroke-width="0.2">150</text>
<text transform="translate(26.21,86.35) rotate(-90) scale(0.900,1)" font-family="Liberation Mono" font-weight="bold" font-size="8.53" fill="#1a1a1a" stroke="#1a1a1a" stroke-width="0.2">150</text>
<text transform="translate(130.19,170.11) scale(0.898,1)" font-family="Liberation Mono" font-weight="bold" font-size="8.53" fill="#1a1a1a" stroke="#1a1a1a" stroke-width="0.2">200</text>
<text transform="translate(26.21,59.11) rotate(-90) scale(0.898,1)" font-family="Liberation Mono" font-weight="bold" font-size="8.53" fill="#1a1a1a" stroke="#1a1a1a" stroke-width="0.2">200</text>
<text transform="translate(156.79,170.11) scale(0.898,1)" font-family="Liberation Mono" font-weight="bold" font-size="8.53" fill="#1a1a1a" stroke="#1a1a1a" stroke-width="0.2">250</text>
<text transform="translate(26.21,31.91) rotate(-90) scale(0.898,1)" font-family="Liberation Mono" font-weight="bold" font-size="8.53" fill="#1a1a1a" stroke="#1a1a1a" stroke-width="0.2">250</text>
<text transform="translate(205.27,169.82) scale(1.026,1)" font-family="Liberation Mono" font-weight="bold" font-size="7.94" fill="#1a1a1a" stroke="#1a1a1a" stroke-width="0.2">10</text>
<text transform="translate(215.08,167.44) scale(0.894,1)" font-family="Liberation Sans" font-weight="normal" font-size="6.06" fill="#1a1a1a" stroke="#1a1a1a" stroke-width="0.2">0</text>
<text transform="translate(368.57,165.32) scale(1.026,1)" font-family="Liberation Mono" font-weight="bold" font-size="7.94" fill="#1a1a1a" stroke="#1a1a1a" stroke-width="0.2">10</text>
<text transform="translate(378.38,162.94) scale(0.894,1)" font-family="Liberation Sans" font-weight="normal" font-size="6.06" fill="#1a1a1a" stroke="#1a1a1a" stroke-width="0.2">0</text>
<text transform="translate(208.12,166.63) rotate(-90) scale(1.026,1)" font-family="Liberation Mono" font-weight="bold" font-size="7.94" fill="#1a1a1a" stroke="#1a1a1a" stroke-width="0.2">10</text>
<text transform="translate(205.74,156.82) rotate(-90) scale(0.894,1)" font-family="Liberation Sans" font-weight="normal" font-size="6.06" fill="#1a1a1a" stroke="#1a1a1a" stroke-width="0.2">0</text>
<text transform="translate(371.12,162.63) rotate(-90) scale(1.026,1)" font-family="Liberation Mono" font-weight="bold" font-size="7.94" fill="#1a1a1a" stroke="#1a1a1a" stroke-width="0.2">10</text>
<text transform="translate(368.74,152.82) rotate(-90) scale(0.894,1)" font-family="Liberation Sans" font-weight="normal" font-size="6.06" fill="#1a1a1a" stroke="#1a1a1a" stroke-width="0.2">0</text>
<text transform="translate(239.54,169.82) scale(1.026,1)" font-family="Liberation Mono" font-weight="bold" font-size="7.94" fill="#1a1a1a" stroke="#1a1a1a" stroke-width="0.2">10</text>
<text transform="translate(249.12,167.50) scale(0.959,1)" font-family="Liberation Sans" font-weight="normal" font-size="6.23" fill="#1a1a1a" stroke="#1a1a1a" stroke-width="0.2">1</text>
<text transform="translate(402.72,165.32) scale(1.026,1)" font-family="Liberation Mono" font-weight="bold" font-size="7.94" fill="#1a1a1a" stroke="#1a1a1a" stroke-width="0.2">10</text>
<text transform="translate(412.30,163.00) scale(0.959,1)" font-family="Liberation Sans" font-weight="normal" font-size="6.23" fill="#1a1a1a" stroke="#1a1a1a" stroke-width="0.2">1</text>
<text transform="translate(208.12,132.53) rotate(-90) scale(1.026,1)" font-family="Liberation Mono" font-weight="bold" font-size="7.94" fill="#1a1a1a" stroke="#1a1a1a" stroke-width="0.2">10</text>
<text transform="translate(205.80,122.95) rotate(-90) scale(0.959,1)" font-family="Liberation Sans" font-weight="normal" font-size="6.23" fill="#1a1a1a" stroke="#1a1a1a" stroke-width="0.2">1</text>
<text transform="translate(371.12,128.53) rotate(-90) scale(1.026,1)" font-family="Liberation Mono" font-weight="bold" font-size="7.94" fill="#1a1a1a" stroke="#1a1a1a" stroke-width="0.2">10</text>
<text transform="translate(368.80,118.95) rotate(-90) scale(0.959,1)" font-family="Liberation Sans" font-weight="normal" font-size="6.23" fill="#1a1a1a" stroke="#1a1a1a" stroke-width="0.2">1</text>
<text transform="translate(273.81,169.82) scale(1.026,1)" font-family="Liberation Mono" font-weight="bold" font-size="7.94" fill="#1a1a1a" stroke="#1a1a1a" stroke-width="0.2">10</text>
<text transform="translate(283.55,167.50) scale(0.930,1)" font-family="Liberation Sans" font-weight="normal" font-size="6.14" fill="#1a1a1a" stroke="#1a1a1a" stroke-width="0.2">2</text>
<text transform="translate(436.87,165.32) scale(1.026,1)" font-family="Liberation Mono" font-weight="bold" font-size="7.94" fill="#1a1a1a" stroke="#1a1a1a" stroke-width="0.2">10</text>
<text transform="translate(446.61,163.00) scale(0.930,1)" font-family="Liberation Sans" font-weight="normal" font-size="6.14" fill="#1a1a1a" stroke="#1a1a1a" stroke-width="0.2">2</text>
<text transform="translate(208.12,98.43) rotate(-90) scale(1.026,1)" font-family="Liberation Mono" font-weight="bold" font-size="7.94" fill="#1a1a1a" stroke="#1a1a1a" stroke-width="0.2">10</text>
<text transform="translate(205.80,88.69) rotate(-90) scale(0.930,1)" font-family="Liberation Sans" font-weight="normal" font-size="6.14" fill="#1a1a1a" stroke="#1a1a1a" stroke-width="0.2">2</text>
<text transform="translate(371.12,94.43) rotate(-90) scale(1.026,1)" font-family="Liberation Mono" font-weight="bold" font-size="7.94" fill="#1a1a1a" stroke="#1a1a1a" stroke-width="0.2">10</text>
<text transform="translate(368.80,84.69) rotate(-90) scale(0.930,1)" font-family="Liberation Sans" font-weight="normal" font-size="6.14" fill="#1a1a1a" stroke="#1a1a1a" stroke-width="0.2">2</text>
<text transform="translate(308.08,169.82) scale(1.026,1)" font-family="Liberation Mono" font-weight="bold" font-size="7.94" fill="#1a1a1a" stroke="#1a1a1a" stroke-width="0.2">10</text>
<text transform="translate(317.89,167.44) scale(0.904,1)" font-family="Liberation Sans" font-weight="normal" font-size="6.06" fill="#1a1a1a" stroke="#1a1a1a" stroke-width="0.2">3</text>
<text transform="translate(471.02,165.32) scale(1.026,1)" font-family="Liberation Mono" font-weight="bold" font-size="7.94" fill="#1a1a1a" stroke="#1a1a1a" stroke-width="0.2">10</text>
<text transform="translate(480.83,162.94) scale(0.904,1)" font-family="Liberation Sans" font-weight="normal" font-size="6.06" fill="#1a1a1a" stroke="#1a1a1a" stroke-width="0.2">3</text>
<text transform="translate(208.12,64.33) rotate(-90) scale(1.026,1)" font-family="Liberation Mono" font-weight="bold" font-size="7.94" fill="#1a1a1a" stroke="#1a1a1a" stroke-width="0.2">10</text>
<text transform="translate(205.74,54.52) rotate(-90) scale(0.904,1)" font-family="Liberation Sans" font-weight="normal" font-size="6.06" fill="#1a1a1a" stroke="#1a1a1a" stroke-width="0.2">3</text>
<text transform="translate(371.12,60.33) rotate(-90) scale(1.026,1)" font-family="Liberation Mono" font-weight="bold" font-size="7.94" fill="#1a1a1a" stroke="#1a1a1a" stroke-width="0.2">10</text>
<text transform="translate(368.74,50.52) rotate(-90) scale(0.904,1)" font-family="Liberation Sans" font-weight="normal" font-size="6.06" fill="#1a1a1a" stroke="#1a1a1a" stroke-width="0.2">3</text>
<text transform="translate(342.35,169.82) scale(1.026,1)" font-family="Liberation Mono" font-weight="bold" font-size="7.94" fill="#1a1a1a" stroke="#1a1a1a" stroke-width="0.2">10</text>
<text transform="translate(352.28,167.50) scale(0.826,1)" font-family="Liberation Sans" font-weight="normal" font-size="6.23" fill="#1a1a1a" stroke="#1a1a1a" stroke-width="0.2">4</text>
<text transform="translate(505.17,165.32) scale(1.026,1)" font-family="Liberation Mono" font-weight="bold" font-size="7.94" fill="#1a1a1a" stroke="#1a1a1a" stroke-width="0.2">10</text>
<text transform="translate(515.10,163.00) scale(0.826,1)" font-family="Liberation Sans" font-weight="normal" font-size="6.23" fill="#1a1a1a" stroke="#1a1a1a" stroke-width="0.2">4</text>
<text transform="translate(208.12,30.23) rotate(-90) scale(1.026,1)" font-family="Liberation Mono" font-weight="bold" font-size="7.94" fill="#1a1a1a" stroke="#1a1a1a" stroke-width="0.2">10</text>
<text transform="translate(205.80,20.30) rotate(-90) scale(0.826,1)" font-family="Liberation Sans" font-weight="normal" font-size="6.23" fill="#1a1a1a" stroke="#1a1a1a" stroke-width="0.2">4</text>
<text transform="translate(371.12,26.23) rotate(-90) scale(1.026,1)" font-family="Liberation Mono" font-weight="bold" font-size="7.94" fill="#1a1a1a" stroke="#1a1a1a" stroke-width="0.2">10</text>
<text transform="translate(368.80,16.30) rotate(-90) scale(0.826,1)" font-family="Liberation Sans" font-weight="normal" font-size="6.23" fill="#1a1a1a" stroke="#1a1a1a" stroke-width="0.2">4</text>
<text transform="translate(31.03,354.21) scale(0.971,1)" font-family="Liberation Mono" font-weight="bold" font-size="8.82" fill="#1a1a1a" stroke="#1a1a1a" stroke-width="0.2">0</text>
<text transform="translate(53.78,354.21) scale(0.963,1)" font-family="Liberation Mono" font-weight="bold" font-size="8.82" fill="#1a1a1a" stroke="#1a1a1a" stroke-width="0.2">50</text>
<text transform="translate(76.34,354.21) scale(0.971,1)" font-family="Liberation Mono" font-weight="bold" font-size="8.82" fill="#1a1a1a" stroke="#1a1a1a" stroke-width="0.2">100</text>
<text transform="translate(101.59,354.21) scale(0.971,1)" font-family="Liberation Mono" font-weight="bold" font-size="8.82" fill="#1a1a1a" stroke="#1a1a1a" stroke-width="0.2">150</text>
<text transform="translate(126.89,354.21) scale(0.969,1)" font-family="Liberation Mono" font-weight="bold" font-size="8.82" fill="#1a1a1a" stroke="#1a1a1a" stroke-width="0.2">200</text>
<text transform="translate(152.14,354.21) scale(0.969,1)" font-family="Liberation Mono" font-weight="bold" font-size="8.82" fill="#1a1a1a" stroke="#1a1a1a" stroke-width="0.2">250</text>
<text transform="translate(28.12,347.93) rotate(-90) scale(1.026,1)" font-family="Liberation Mono" font-weight="bold" font-size="7.94" fill="#1a1a1a" stroke="#1a1a1a" stroke-width="0.2">10</text>
<text transform="translate(25.74,338.12) rotate(-90) scale(0.894,1)" font-family="Liberation Sans" font-weight="normal" font-size="6.06" fill="#1a1a1a" stroke="#1a1a1a" stroke-width="0.2">0</text>
<text transform="translate(28.12,316.13) rotate(-90) scale(1.026,1)" font-family="Liberation Mono" font-weight="bold" font-size="7.94" fill="#1a1a1a" stroke="#1a1a1a" stroke-width="0.2">10</text>
<text transform="translate(25.80,306.55) rotate(-90) scale(0.959,1)" font-family="Liberation Sans" font-weight="normal" font-size="6.23" fill="#1a1a1a" stroke="#1a1a1a" stroke-width="0.2">1</text>
<text transform="translate(28.12,284.33) rotate(-90) scale(1.026,1)" font-family="Liberation Mono" font-weight="bold" font-size="7.94" fill="#1a1a1a" stroke="#1a1a1a" stroke-width="0.2">10</text>
<text transform="translate(25.80,274.59) rotate(-90) scale(0.930,1)" font-family="Liberation Sans" font-weight="normal" font-size="6.14" fill="#1a1a1a" stroke="#1a1a1a" stroke-width="0.2">2</text>
<text transform="translate(28.12,252.53) rotate(-90) scale(1.026,1)" font-family="Liberation Mono" font-weight="bold" font-size="7.94" fill="#1a1a1a" stroke="#1a1a1a" stroke-width="0.2">10</text>
<text transform="translate(25.74,242.72) rotate(-90) scale(0.904,1)" font-family="Liberation Sans" font-weight="normal" font-size="6.06" fill="#1a1a1a" stroke="#1a1a1a" stroke-width="0.2">3</text>
<text transform="translate(28.12,220.73) rotate(-90) scale(1.026,1)" font-family="Liberation Mono" font-weight="bold" font-size="7.94" fill="#1a1a1a" stroke="#1a1a1a" stroke-width="0.2">10</text>
<text transform="translate(25.80,210.80) rotate(-90) scale(0.826,1)" font-family="Liberation Sans" font-weight="normal" font-size="6.23" fill="#1a1a1a" stroke="#1a1a1a" stroke-width="0.2">4</text>
<text transform="translate(211.01,353.02) scale(1.002,1)" font-family="Liberation Mono" font-weight="bold" font-size="7.94" fill="#1a1a1a" stroke="#1a1a1a" stroke-width="0.2">0</text>
<text transform="translate(378.31,353.22) scale(1.002,1)" font-family="Liberation Mono" font-weight="bold" font-size="7.94" fill="#1a1a1a" stroke="#1a1a1a" stroke-width="0.2">0</text>
<text transform="translate(233.55,353.02) scale(1.001,1)" font-family="Liberation Mono" font-weight="bold" font-size="7.94" fill="#1a1a1a" stroke="#1a1a1a" stroke-width="0.2">50</text>
<text transform="translate(400.95,353.22) scale(1.001,1)" font-family="Liberation Mono" font-weight="bold" font-size="7.94" fill="#1a1a1a" stroke="#1a1a1a" stroke-width="0.2">50</text>
<text transform="translate(255.93,353.02) scale(1.012,1)" font-family="Liberation Mono" font-weight="bold" font-size="7.94" fill="#1a1a1a" stroke="#1a1a1a" stroke-width="0.2">100</text>
<text transform="translate(423.43,353.22) scale(1.012,1)" font-family="Liberation Mono" font-weight="bold" font-size="7.94" fill="#1a1a1a" stroke="#1a1a1a" stroke-width="0.2">100</text>
<text transform="translate(280.83,353.02) scale(1.012,1)" font-family="Liberation Mono" font-weight="bold" font-size="7.94" fill="#1a1a1a" stroke="#1a1a1a" stroke-width="0.2">150</text>
<text transform="translate(448.43,353.22) scale(1.012,1)" font-family="Liberation Mono" font-weight="bold" font-size="7.94" fill="#1a1a1a" stroke="#1a1a1a" stroke-width="0.2">150</text>
<text transform="translate(305.77,353.02) scale(1.009,1)" font-family="Liberation Mono" font-weight="bold" font-size="7.94" fill="#1a1a1a" stroke="#1a1a1a" stroke-width="0.2">200</text>
<text transform="translate(473.47,353.22) scale(1.009,1)" font-family="Liberation Mono" font-weight="bold" font-size="7.94" fill="#1a1a1a" stroke="#1a1a1a" stroke-width="0.2">200</text>
<text transform="translate(330.67,353.02) scale(1.009,1)" font-family="Liberation Mono" font-weight="bold" font-size="7.94" fill="#1a1a1a" stroke="#1a1a1a" stroke-width="0.2">250</text>
<text transform="translate(498.47,353.22) scale(1.009,1)" font-family="Liberation Mono" font-weight="bold" font-size="7.94" fill="#1a1a1a" stroke="#1a1a1a" stroke-width="0.2">250</text>
<text transform="translate(208.72,225.09) rotate(-90) scale(1.193,1)" font-family="Liberation Mono" font-weight="bold" font-size="8.24" fill="#1a1a1a" stroke="#1a1a1a" stroke-width="0.2">100</text>
<text transform="translate(208.62,345.27) rotate(-90) scale(0.951,1)" font-family="Liberation Mono" font-weight="bold" font-size="7.94" fill="#1a1a1a" stroke="#1a1a1a" stroke-width="0.2">0</text>
<text transform="translate(377.11,217.07) rotate(-90) scale(0.809,1)" font-family="Liberation Mono" font-weight="bold" font-size="9.41" fill="#1a1a1a" stroke="#1a1a1a" stroke-width="0.2">90</text>
<text transform="translate(376.62,345.77) rotate(-90) scale(0.951,1)" font-family="Liberation Mono" font-weight="bold" font-size="7.94" fill="#1a1a1a" stroke="#1a1a1a" stroke-width="0.2">0</text>
<rect x="318.5" y="20.2" width="3.5" height="1.4" fill="#444"/>
<rect x="324" y="20.2" width="4" height="1.4" fill="#444"/>
<rect x="330" y="20.2" width="3.5" height="1.4" fill="#444"/>
<rect x="338.5" y="20.2" width="4.0" height="1.4" fill="#444"/>
<rect x="344" y="20.2" width="4" height="1.4" fill="#444"/>
<rect x="349" y="20.2" width="3.5" height="1.4" fill="#444"/>
<rect x="480.5" y="16.2" width="4.0" height="1.4" fill="#444"/>
<rect x="486" y="16.2" width="4" height="1.4" fill="#444"/>
<rect x="491.5" y="16.2" width="4.0" height="1.4" fill="#444"/>
<rect x="501" y="16.2" width="4" height="1.4" fill="#444"/>
<rect x="506" y="16.2" width="4" height="1.4" fill="#444"/>
<rect x="511" y="16.2" width="4" height="1.4" fill="#444"/>
<line x1="379.00" y1="168.50" x2="457.00" y2="168.50" stroke="#888" stroke-width="1.0" stroke-dasharray="3 5 1.5 6 2 5"/>
<line x1="271.20" y1="304.60" x2="324.20" y2="304.60" stroke="#111" stroke-width="1.2" />
<line x1="271.20" y1="305.50" x2="324.20" y2="305.50" stroke="#333" stroke-width="0.9" stroke-dasharray="1.2 1.6"/>
<line x1="271.20" y1="300.10" x2="271.20" y2="309.10" stroke="#111" stroke-width="1.3" />
<line x1="324.20" y1="300.10" x2="324.20" y2="309.10" stroke="#111" stroke-width="1.3" />
<text transform="translate(305.10,303.40) scale(1.006,1)" font-family="Liberation Mono" font-weight="bold" font-size="7.88" fill="#1a1a1a" stroke="#1a1a1a" stroke-width="0.2">M1</text>
<line x1="440.70" y1="305.00" x2="491.20" y2="305.00" stroke="#111" stroke-width="1.2" />
<line x1="440.70" y1="305.90" x2="491.20" y2="305.90" stroke="#333" stroke-width="0.9" stroke-dasharray="1.2 1.6"/>
<line x1="440.70" y1="300.50" x2="440.70" y2="309.50" stroke="#111" stroke-width="1.3" />
<line x1="491.20" y1="300.50" x2="491.20" y2="309.50" stroke="#111" stroke-width="1.3" />
<text transform="translate(472.10,303.80) scale(1.006,1)" font-family="Liberation Mono" font-weight="bold" font-size="7.88" fill="#1a1a1a" stroke="#1a1a1a" stroke-width="0.2">M1</text>
</svg>
</body></html>
